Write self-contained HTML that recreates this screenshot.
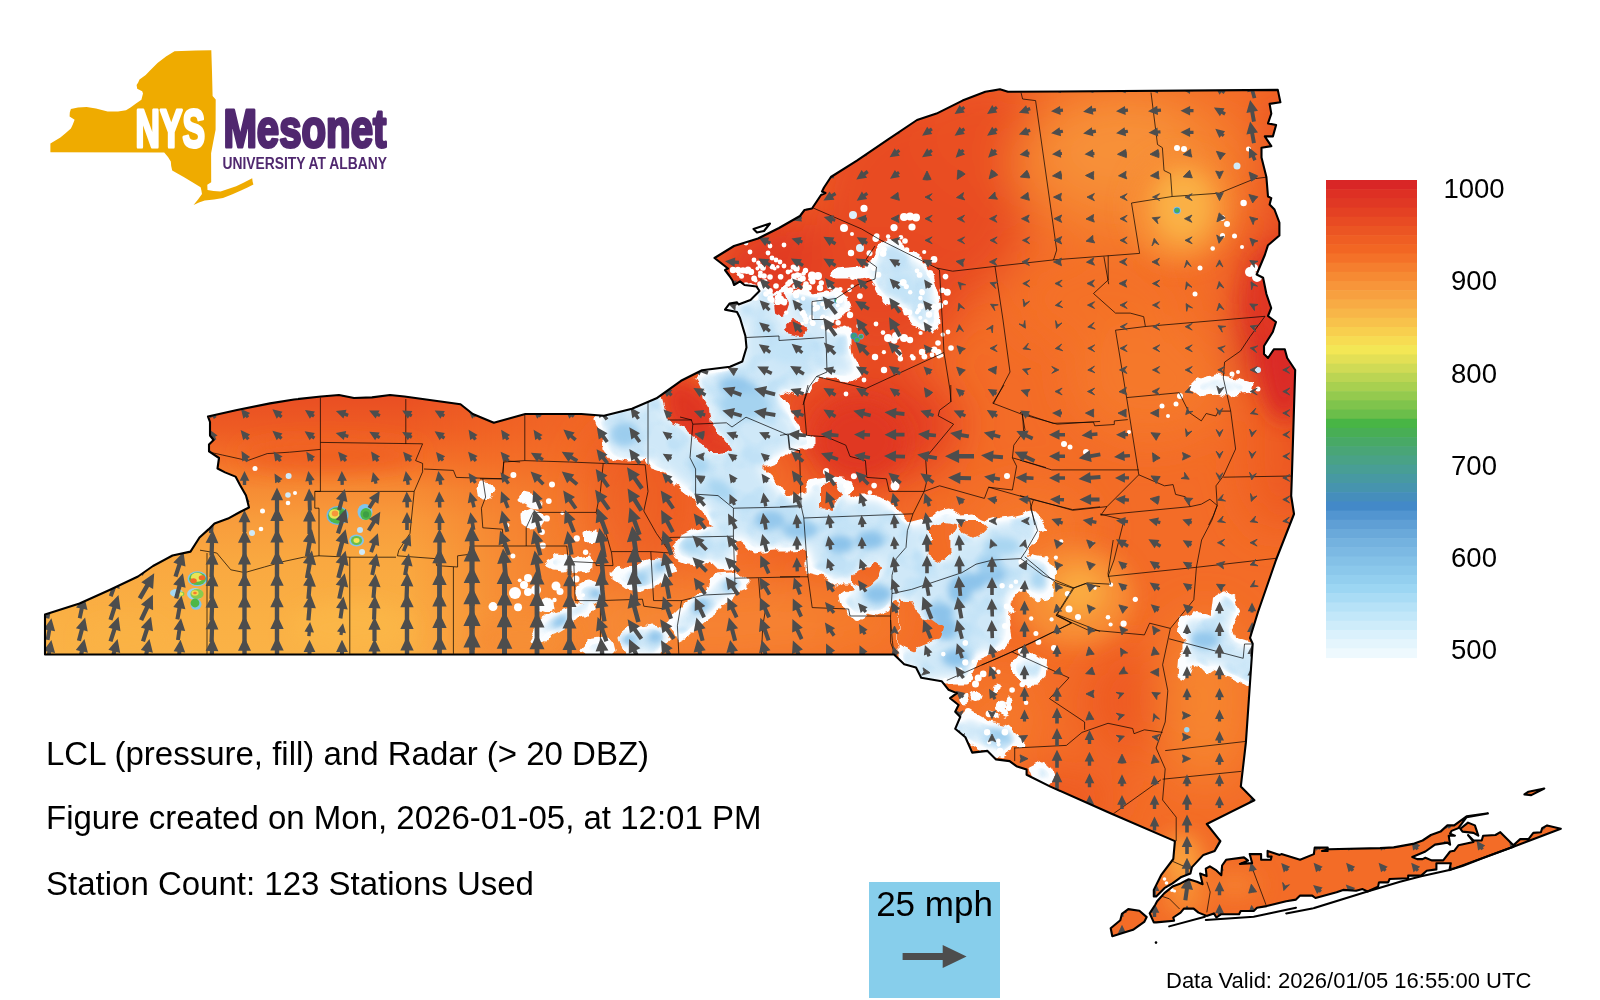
<!DOCTYPE html>
<html><head><meta charset="utf-8"><title>NYS Mesonet LCL</title>
<style>html,body{margin:0;padding:0;background:#fff}svg{display:block}text{font-family:"Liberation Sans",sans-serif}</style></head><body>
<svg width="1600" height="1000" viewBox="0 0 1600 1000">
<rect width="1600" height="1000" fill="#fff"/>
<defs>
<clipPath id="ny"><path d="M45.0,654.5 L45.0,614.6 L79.5,603.5 L109.5,590.0 L138.0,576.5 L153.0,566.0 L172.5,555.5 L190.5,551.6 L199.5,537.5 L208.5,529.4 L214.5,523.4 L228.0,518.6 L240.0,512.0 L249.0,507.5 L246.0,495.5 L240.0,485.0 L235.5,476.6 L225.0,472.4 L217.5,468.5 L219.0,458.0 L209.0,451.4 L209.0,444.5 L213.6,440.0 L210.0,435.5 L210.0,422.0 L208.0,416.6 L237.0,410.0 L270.0,403.4 L294.0,399.5 L321.0,396.5 L339.0,395.0 L354.0,398.0 L372.0,397.4 L390.0,395.0 L404.5,396.5 L460.5,404.2 L472.8,414.0 L493.8,422.8 L525.3,414.0 L581.3,414.0 L604.0,415.8 L632.0,408.8 L656.5,398.3 L681.0,380.8 L702.0,370.3 L730.0,366.8 L742.3,361.5 L746.5,347.5 L745.4,336.0 L740.0,318.0 L737.0,312.0 L725.0,309.6 L729.5,303.6 L737.0,302.4 L738.5,304.5 L750.5,300.0 L759.5,291.0 L756.5,286.5 L744.5,285.0 L740.0,281.4 L734.0,285.0 L732.5,280.5 L729.5,276.0 L725.0,270.0 L728.0,268.5 L714.5,258.0 L734.0,246.0 L758.0,238.5 L779.0,228.0 L800.0,216.0 L804.5,210.0 L812.0,208.5 L821.0,195.0 L825.5,193.0 L822.0,191.5 L824.0,187.5 L830.9,177.0 L856.9,160.7 L887.8,139.6 L917.0,120.0 L936.5,113.6 L962.5,100.6 L985.3,91.8 L999.9,89.3 L1008.0,91.8 L1277.8,89.9 L1280.4,102.3 L1269.6,103.9 L1271.3,113.6 L1268.0,123.4 L1276.1,125.0 L1272.9,136.4 L1264.8,136.4 L1271.3,146.1 L1261.5,147.8 L1261.5,157.5 L1266.4,177.0 L1268.0,196.5 L1271.3,198.1 L1269.6,204.6 L1274.5,209.5 L1279.4,222.5 L1279.4,235.5 L1268.0,245.2 L1264.8,255.0 L1256.6,274.5 L1263.1,277.7 L1266.4,294.0 L1271.2,308.0 L1268.0,316.0 L1276.0,322.0 L1272.8,332.0 L1264.0,346.0 L1264.0,354.0 L1268.0,358.0 L1274.0,349.2 L1284.8,349.2 L1287.2,358.0 L1295.2,370.0 L1292.0,472.0 L1291.2,496.0 L1294.0,514.0 L1276.0,560.0 L1258.0,612.0 L1250.0,638.0 L1252.7,643.8 L1245.9,742.4 L1240.8,786.6 L1254.4,800.2 L1206.8,824.0 L1220.4,841.1 L1214.7,850.9 L1203.4,854.9 L1192.0,867.1 L1190.4,873.6 L1181.4,876.9 L1172.5,883.4 L1164.4,888.2 L1156.2,896.4 L1153.8,896.4 L1153.8,889.9 L1161.1,875.2 L1173.3,859.0 L1174.9,841.1 L1111.6,813.8 L1050.4,786.6 L1026.6,774.7 L1026.6,769.6 L1016.4,766.2 L1009.6,761.1 L996.0,759.4 L987.5,750.9 L972.2,752.6 L965.4,737.3 L955.2,728.8 L960.3,716.9 L955.2,711.8 L958.6,705.0 L950.1,698.2 L956.9,693.1 L948.4,689.7 L941.6,681.2 L921.2,677.8 L916.0,667.6 L904.2,664.2 L894.0,654.5Z M1153.8,922.4 L1149.7,913.4 L1155.4,904.5 L1157.1,901.3 L1164.4,893.1 L1172.5,886.6 L1180.6,883.4 L1188.7,879.3 L1196.9,881.7 L1202.6,884.2 L1200.1,873.6 L1206.6,876.1 L1205.8,868.7 L1209.9,866.3 L1216.4,870.4 L1221.3,875.2 L1222.1,865.5 L1226.1,859.8 L1244.0,857.4 L1248.1,860.6 L1239.9,863.9 L1252.1,863.1 L1249.7,854.1 L1261.1,854.1 L1261.1,859.8 L1270.8,859.8 L1271.6,856.6 L1267.6,856.6 L1267.6,850.9 L1279.7,854.9 L1281.4,854.1 L1300.1,859.8 L1313.9,854.1 L1314.7,847.6 L1327.7,847.6 L1327.7,850.9 L1322.0,850.9 L1328.5,849.2 L1380.0,848.1 L1393.7,847.4 L1413.0,843.9 L1422.6,840.5 L1430.9,835.0 L1440.5,831.6 L1447.4,825.4 L1454.2,825.4 L1466.6,816.4 L1487.9,813.4 L1466.6,817.1 L1458.4,828.1 L1451.5,830.9 L1450.1,833.6 L1454.9,835.7 L1448.7,835.7 L1450.1,844.6 L1447.4,842.6 L1435.0,844.6 L1425.4,851.5 L1412.3,857.0 L1417.1,859.1 L1422.6,859.1 L1425.4,857.7 L1431.6,860.4 L1443.2,860.4 L1450.1,851.5 L1454.2,850.8 L1458.4,845.3 L1473.5,841.9 L1468.0,835.0 L1473.5,840.5 L1481.7,840.5 L1483.1,835.7 L1495.5,835.0 L1500.3,832.2 L1513.4,845.3 L1520.2,839.1 L1528.5,839.1 L1533.3,832.9 L1540.9,832.2 L1542.2,828.1 L1547.1,825.4 L1560.8,828.8 L1513.4,846.7 L1481.7,858.4 L1462.5,865.9 L1449.4,870.1 L1450.8,863.2 L1436.4,863.2 L1436.4,869.4 L1426.7,870.7 L1421.2,875.6 L1408.2,875.6 L1408.2,878.3 L1389.6,879.0 L1388.2,882.4 L1380.0,882.4 L1378.9,882.6 L1378.1,886.6 L1367.5,891.5 L1362.6,889.1 L1356.1,890.7 L1343.1,889.9 L1336.6,892.3 L1315.5,898.0 L1312.2,895.6 L1300.1,895.6 L1296.0,899.6 L1286.2,901.3 L1266.7,906.1 L1257.0,907.7 L1253.7,911.0 L1240.7,911.0 L1239.1,914.2 L1221.3,914.2 L1216.4,917.5 L1213.9,913.4 L1206.6,915.9 L1198.5,912.6 L1193.6,908.6 L1183.9,908.6 L1180.6,912.6 L1173.3,917.5 L1174.1,920.7 L1156.2,922.4Z M1110.7,928.2 L1120.3,920.3 L1121.9,913.9 L1128.3,909.1 L1139.4,910.7 L1146.7,917.1 L1144.2,921.9 L1133.0,929.8 L1112.3,936.2Z M1460.4,828.8 L1468.0,822.6 L1474.9,825.4 L1478.3,835.7 L1473.5,832.9 L1462.5,831.6Z M1524.4,794.4 L1528.5,791.7 L1544.3,788.5 L1531.2,795.1Z"/></clipPath>
<filter id="b25" x="-20%" y="-20%" width="140%" height="140%"><feGaussianBlur stdDeviation="22"/></filter>
<filter id="b12" x="-30%" y="-30%" width="160%" height="160%"><feGaussianBlur stdDeviation="10"/></filter>
<filter id="b4" x="-30%" y="-30%" width="160%" height="160%"><feGaussianBlur stdDeviation="3.5"/></filter>
<filter id="rough" x="-5%" y="-5%" width="110%" height="110%"><feTurbulence type="fractalNoise" baseFrequency="0.09" numOctaves="2" seed="3" result="n"/><feDisplacementMap in="SourceGraphic" in2="n" scale="9" xChannelSelector="R" yChannelSelector="G"/></filter>
<filter id="inner" x="-5%" y="-5%" width="110%" height="110%"><feGaussianBlur stdDeviation="7"/><feComponentTransfer><feFuncA type="linear" slope="2.6" intercept="-1.6"/></feComponentTransfer></filter>
<filter id="erode" filterUnits="userSpaceOnUse" x="540" y="160" width="780" height="660"><feGaussianBlur stdDeviation="5"/><feComponentTransfer><feFuncR type="linear" slope="3.4" intercept="-2.3"/><feFuncG type="linear" slope="3.4" intercept="-2.3"/><feFuncB type="linear" slope="3.4" intercept="-2.3"/></feComponentTransfer></filter>
<filter id="noiseBlue" filterUnits="userSpaceOnUse" x="540" y="160" width="780" height="660"><feTurbulence type="fractalNoise" baseFrequency="0.045" numOctaves="2" seed="11" result="n"/><feColorMatrix in="n" type="matrix" values="0 0 0 0 0.50  0 0 0 0 0.74  0 0 0 0 0.92  4.0 0 0 0 -1.75"/></filter>
<linearGradient id="gv" x1="0" y1="395" x2="0" y2="655" gradientUnits="userSpaceOnUse"><stop offset="0" stop-color="#E94E23"/><stop offset="0.135" stop-color="#EE5C23"/><stop offset="0.25" stop-color="#F37028"/><stop offset="0.365" stop-color="#F68C34"/><stop offset="0.48" stop-color="#F89C3C"/><stop offset="0.635" stop-color="#F9A840"/><stop offset="0.865" stop-color="#FAB044"/><stop offset="1" stop-color="#FAB246"/></linearGradient>
<linearGradient id="gh" x1="400" y1="0" x2="700" y2="0" gradientUnits="userSpaceOnUse"><stop offset="0" stop-color="#fff"/><stop offset="0.33" stop-color="#888"/><stop offset="0.66" stop-color="#3a3a3a"/><stop offset="1" stop-color="#000"/></linearGradient>
<mask id="mw" maskUnits="userSpaceOnUse" x="0" y="380" width="720" height="300"><rect x="0" y="380" width="720" height="300" fill="url(#gh)"/></mask>
</defs>
<g clip-path="url(#ny)">
<rect x="0" y="60" width="1600" height="900" fill="#F36C27"/>
<g filter="url(#b25)">
<ellipse cx="640" cy="500" rx="60" ry="80" fill="#EE5A23"/>
<ellipse cx="870" cy="425" rx="90" ry="60" fill="#E44123"/>
<ellipse cx="790" cy="270" rx="80" ry="60" fill="#E13A24"/>
<ellipse cx="760" cy="330" rx="50" ry="60" fill="#E13A24"/>
<ellipse cx="830" cy="560" rx="70" ry="60" fill="#EF5E23"/>
<ellipse cx="800" cy="620" rx="110" ry="45" fill="#F57A2C"/>
<ellipse cx="700" cy="625" rx="130" ry="45" fill="#F68232"/>
<ellipse cx="920" cy="200" rx="110" ry="110" fill="#E84B23"/>
<ellipse cx="880" cy="300" rx="80" ry="60" fill="#E64623"/>
<ellipse cx="980" cy="130" rx="60" ry="60" fill="#EA5023"/>
<ellipse cx="1130" cy="165" rx="120" ry="80" fill="#F5802F"/>
<ellipse cx="1120" cy="150" rx="75" ry="50" fill="#F79038"/>
<ellipse cx="1100" cy="300" rx="90" ry="50" fill="#F47128"/>
<ellipse cx="1300" cy="345" rx="62" ry="135" fill="#D62525"/>
<ellipse cx="1292" cy="465" rx="34" ry="60" fill="#E84B23"/>
<ellipse cx="1285" cy="170" rx="25" ry="90" fill="#EA5023"/>
<ellipse cx="1270" cy="450" rx="30" ry="80" fill="#EF5E23"/>
<ellipse cx="1150" cy="380" rx="80" ry="60" fill="#F5782B"/>
<ellipse cx="1030" cy="530" rx="60" ry="40" fill="#F5782B"/>
<ellipse cx="1129" cy="701" rx="45" ry="55" fill="#EE5A23"/>
<ellipse cx="1060" cy="800" rx="60" ry="30" fill="#EE5A23"/>
<ellipse cx="1000" cy="720" rx="40" ry="50" fill="#F5782B"/>
<ellipse cx="1205" cy="700" rx="45" ry="85" fill="#F6842F"/>
</g>
<g filter="url(#b12)">
<ellipse cx="690" cy="412" rx="26" ry="40" fill="#DF3424" transform="rotate(-35 690 412)"/>
<ellipse cx="725" cy="455" rx="30" ry="22" fill="#E23C24"/>
<ellipse cx="860" cy="440" rx="45" ry="40" fill="#E03824"/>
<ellipse cx="1180" cy="208" rx="52" ry="56" fill="#F78E36"/>
<ellipse cx="1183" cy="206" rx="30" ry="36" fill="#FAB044"/>
<ellipse cx="1284" cy="335" rx="26" ry="85" fill="#DA2925"/>
<ellipse cx="1268" cy="300" rx="18" ry="45" fill="#E03824"/>
<ellipse cx="1075" cy="596" rx="58" ry="50" fill="#F78E36"/>
<ellipse cx="1079" cy="592" rx="25" ry="23" fill="#FAAA40"/>
<ellipse cx="1182" cy="862" rx="20" ry="28" fill="#F9A03C"/>
<ellipse cx="1185" cy="900" rx="22" ry="14" fill="#F68A33"/>
<ellipse cx="1235" cy="885" rx="25" ry="14" fill="#F57E2E"/>
</g>
<rect x="0" y="380" width="720" height="300" fill="url(#gv)" mask="url(#mw)"/>
<g filter="url(#b12)">
<ellipse cx="125" cy="640" rx="40" ry="16" fill="#FAB245"/>
<ellipse cx="350" cy="628" rx="60" ry="25" fill="#FBB647"/>
<ellipse cx="520" cy="640" rx="50" ry="25" fill="#F68E36"/>
<ellipse cx="330" cy="455" rx="90" ry="14" fill="#F06024"/>
</g>
<mask id="radar" maskUnits="userSpaceOnUse" x="0" y="0" width="1600" height="1000"><g filter="url(#rough)">
<g fill="#fff" stroke="#fff" stroke-width="3" stroke-linejoin="round"><path d="M596.0,418.0 L602.0,434.0 L604.0,448.0 L614.0,460.0 L630.0,462.0 L646.0,458.0 L652.0,468.0 L664.0,472.0 L676.0,484.0 L688.0,492.0 L696.0,500.0 L704.0,510.0 L708.0,520.0 L716.0,528.0 L724.0,532.0 L738.0,538.0 L746.0,544.0 L754.0,552.0 L772.0,550.0 L790.0,550.0 L806.0,549.0 L816.0,552.0 L824.0,560.0 L826.0,572.0 L840.0,574.0 L850.0,560.0 L850.0,500.0 L840.0,492.0 L836.0,488.0 L820.0,486.0 L816.0,492.0 L800.0,496.0 L786.0,496.0 L780.0,486.0 L770.0,476.0 L762.0,468.0 L766.0,464.0 L782.0,458.0 L788.0,452.0 L800.0,448.0 L812.0,448.0 L812.0,438.0 L802.0,434.0 L796.0,424.0 L790.0,412.0 L784.0,400.0 L778.0,392.0 L790.0,388.0 L804.0,388.0 L812.0,380.0 L816.0,372.0 L840.0,378.0 L850.0,376.0 L850.0,330.0 L740.0,330.0 L740.0,372.0 L700.0,376.0 L660.0,392.0 L630.0,404.0 L600.0,410.0Z"/><path d="M728.0,304.0 L750.0,300.0 L758.0,288.0 L764.0,280.0 L768.0,290.0 L776.0,294.0 L784.0,288.0 L792.0,292.0 L804.0,290.0 L812.0,296.0 L824.0,294.0 L836.0,290.0 L846.0,298.0 L850.0,306.0 L844.0,312.0 L836.0,316.0 L828.0,320.0 L826.0,328.0 L836.0,336.0 L848.0,344.0 L852.0,356.0 L858.0,366.0 L860.0,376.0 L852.0,380.0 L840.0,378.0 L828.0,376.0 L818.0,376.0 L812.0,384.0 L808.0,392.0 L796.0,396.0 L786.0,390.0 L776.0,392.0 L768.0,400.0 L700.0,400.0 L700.0,372.0 L730.0,368.0 L742.0,356.0 L744.0,336.0 L740.0,320.0 L720.0,312.0Z"/><path d="M880.0,246.0 L888.0,240.0 L900.0,244.0 L908.0,252.0 L916.0,256.0 L926.0,266.0 L932.0,276.0 L936.0,290.0 L940.0,300.0 L936.0,312.0 L938.0,324.0 L932.0,332.0 L922.0,328.0 L914.0,324.0 L908.0,316.0 L902.0,308.0 L892.0,304.0 L884.0,298.0 L878.0,292.0 L874.0,284.0 L870.0,276.0 L860.0,278.0 L848.0,278.0 L836.0,278.0 L830.0,274.0 L836.0,270.0 L848.0,269.0 L860.0,268.0 L870.0,266.0 L876.0,260.0 L876.0,252.0Z"/><path d="M674.0,546.0 L682.0,536.0 L694.0,530.0 L708.0,528.0 L720.0,524.0 L726.0,534.0 L734.0,540.0 L736.0,552.0 L736.0,566.0 L728.0,570.0 L718.0,568.0 L710.0,560.0 L702.0,564.0 L688.0,562.0 L678.0,558.0Z"/><path d="M612.0,576.0 L618.0,570.0 L632.0,568.0 L646.0,562.0 L656.0,558.0 L668.0,560.0 L674.0,570.0 L668.0,578.0 L660.0,580.0 L654.0,586.0 L640.0,590.0 L628.0,588.0 L620.0,582.0Z"/><path d="M710.0,580.0 L720.0,576.0 L736.0,574.0 L746.0,580.0 L746.0,588.0 L736.0,592.0 L732.0,598.0 L720.0,604.0 L716.0,612.0 L704.0,620.0 L694.0,628.0 L686.0,636.0 L678.0,640.0 L674.0,632.0 L668.0,624.0 L674.0,616.0 L682.0,608.0 L692.0,600.0 L700.0,594.0 L710.0,588.0Z"/><path d="M638.0,636.0 L644.0,628.0 L654.0,626.0 L664.0,630.0 L668.0,638.0 L662.0,646.0 L650.0,648.0 L642.0,644.0Z"/><path d="M582.0,650.0 L588.0,642.0 L600.0,640.0 L612.0,642.0 L614.0,650.0 L608.0,656.0 L592.0,656.0Z"/><path d="M620.0,636.0 L630.0,628.0 L646.0,626.0 L660.0,630.0 L664.0,642.0 L660.0,656.0 L640.0,656.0 L624.0,650.0Z"/><path d="M578.0,559.0 L590.0,557.0 L594.0,564.0 L588.0,569.0 L578.0,568.0Z"/><path d="M576.0,588.0 L588.0,582.0 L600.0,586.0 L602.0,596.0 L592.0,602.0 L580.0,600.0Z"/><path d="M578.0,604.0 L590.0,602.0 L594.0,610.0 L588.0,616.0 L578.0,616.0Z"/><path d="M530.0,640.0 L536.0,630.0 L544.0,620.0 L554.0,614.0 L566.0,610.0 L574.0,604.0 L586.0,604.0 L592.0,608.0 L586.0,614.0 L576.0,618.0 L570.0,624.0 L560.0,630.0 L548.0,634.0 L544.0,640.0 L536.0,644.0Z"/><path d="M546.0,560.0 L556.0,555.0 L568.0,556.0 L574.0,561.0 L580.0,559.0 L590.0,561.0 L590.0,567.0 L580.0,569.0 L572.0,568.0 L564.0,570.0 L554.0,569.0 L548.0,566.0Z"/><path d="M540.0,602.0 L546.0,599.0 L552.0,602.0 L553.0,609.0 L548.0,612.4 L541.0,610.0Z"/><path d="M518.0,498.0 L524.0,494.0 L532.0,496.0 L540.0,502.0 L538.0,508.0 L530.0,507.0 L524.0,504.0Z"/><path d="M522.0,514.0 L530.0,510.0 L538.0,513.0 L544.0,519.0 L540.0,525.0 L530.0,527.0 L523.0,524.0Z"/><path d="M478.0,488.0 L482.0,483.0 L489.0,484.0 L493.0,491.0 L490.0,497.0 L483.0,498.0 L479.0,494.0Z"/><path d="M586.0,533.0 L595.0,531.0 L596.0,540.0 L587.0,541.0Z"/><path d="M808.0,482.0 L832.0,478.0 L850.0,480.0 L852.0,488.0 L840.0,496.0 L838.0,504.0 L846.0,502.0 L860.0,496.0 L878.0,496.0 L888.0,502.0 L900.0,514.0 L908.0,524.0 L916.0,522.0 L932.0,518.0 L940.0,512.0 L950.0,510.0 L960.0,516.0 L972.0,515.0 L980.0,520.0 L986.0,522.0 L1000.0,518.0 L1016.0,516.0 L1032.0,512.0 L1040.0,520.0 L1046.0,528.0 L1038.0,530.0 L1036.0,538.0 L1028.0,550.0 L1024.0,558.0 L1036.0,566.0 L1042.0,576.0 L1052.0,586.0 L1052.0,594.0 L1042.0,598.0 L1032.0,592.0 L1026.0,586.0 L1020.0,590.0 L1014.0,594.0 L1008.0,602.0 L1012.0,610.0 L1006.0,616.0 L1008.0,626.0 L1010.0,638.0 L1004.0,646.0 L994.0,652.0 L986.0,654.0 L976.0,658.0 L972.0,670.0 L968.0,682.0 L932.0,682.0 L932.0,670.0 L926.0,662.0 L920.0,658.0 L918.0,650.0 L928.0,648.0 L932.0,656.0 L940.0,650.0 L948.0,642.0 L940.0,636.0 L934.0,630.0 L924.0,628.0 L914.0,622.0 L910.0,614.0 L914.0,606.0 L908.0,602.0 L900.0,602.0 L892.0,598.0 L888.0,610.0 L878.0,614.0 L868.0,612.0 L860.0,618.0 L854.0,616.0 L848.0,608.0 L842.0,606.0 L840.0,598.0 L848.0,592.0 L856.0,590.0 L852.0,582.0 L844.0,582.0 L836.0,586.0 L830.0,582.0 L824.0,574.0 L808.0,570.0Z"/><path d="M1014.4,534.8 L1022.2,555.6 L1017.0,573.8 L1014.4,592.0 L1006.6,607.6 L1009.2,625.8 L1004.0,641.4 L985.8,649.2 L975.4,657.0 L965.0,664.8 L952.0,670.0 L946.8,680.4 L926.0,685.6 L900.0,662.2 L900.0,534.8Z"/><path d="M1024.8,560.8 L1032.6,555.6 L1045.6,558.2 L1053.4,571.2 L1053.4,586.8 L1048.2,597.2 L1037.8,599.8 L1027.4,592.0 L1022.2,579.0Z"/><path d="M1011.8,664.8 L1019.6,655.7 L1035.2,654.4 L1045.6,662.2 L1044.3,675.2 L1035.2,684.3 L1022.2,681.7 L1014.4,675.2Z"/><path d="M946.8,727.2 L957.2,722.0 L967.6,711.6 L985.8,722.0 L1009.2,727.2 L1017.0,735.0 L1024.8,745.4 L1011.8,745.4 L1004.0,755.8 L991.0,753.2 L978.0,748.0 L967.6,740.2 L957.2,737.6 L946.8,737.6Z"/><path d="M1030.0,768.8 L1040.4,763.6 L1050.8,768.8 L1053.4,779.2 L1045.6,785.7 L1035.2,781.8Z"/><path d="M999.3,688.2 L998.4,690.4 L996.2,691.3 L994.0,690.4 L993.1,688.2 L994.0,686.0 L996.2,685.1 L998.4,686.0Z"/><path d="M979.0,696.0 L978.0,698.6 L975.4,699.6 L972.9,698.6 L971.8,696.0 L972.9,693.5 L975.4,692.4 L978.0,693.5Z"/><path d="M1005.6,706.4 L1004.3,709.3 L1001.4,710.6 L998.5,709.3 L997.2,706.4 L998.5,703.5 L1001.4,702.2 L1004.3,703.5Z"/><path d="M996.2,714.2 L995.4,716.0 L993.6,716.8 L991.8,716.0 L991.0,714.2 L991.8,712.4 L993.6,711.6 L995.4,712.4Z"/><path d="M1032.6,682.5 L1031.8,684.3 L1030.0,685.1 L1028.2,684.3 L1027.4,682.5 L1028.2,680.7 L1030.0,679.9 L1031.8,680.7Z"/><path d="M1011.5,701.2 L1010.8,702.8 L1009.2,703.5 L1007.6,702.8 L1006.9,701.2 L1007.6,699.6 L1009.2,698.9 L1010.8,699.6Z"/><path d="M1006.3,712.9 L1005.6,714.5 L1004.0,715.2 L1002.4,714.5 L1001.7,712.9 L1002.4,711.3 L1004.0,710.6 L1005.6,711.3Z"/><path d="M967.3,698.6 L966.6,700.2 L965.0,700.9 L963.4,700.2 L962.7,698.6 L963.4,697.0 L965.0,696.3 L966.6,697.0Z"/><path d="M1180.8,618.0 L1193.8,612.8 L1212.0,618.0 L1214.6,597.2 L1225.0,590.7 L1235.4,599.8 L1240.6,610.2 L1235.4,620.6 L1230.2,628.4 L1232.8,638.8 L1248.4,644.0 L1264.0,644.0 L1264.0,685.6 L1248.4,685.6 L1235.4,677.8 L1225.0,675.2 L1217.2,664.8 L1206.8,672.6 L1199.0,664.8 L1191.2,662.2 L1186.0,677.8 L1178.2,675.2 L1179.5,659.6 L1186.0,651.8 L1186.0,638.8 L1179.5,631.0Z"/><path d="M1192.0,388.0 L1200.0,380.0 L1215.0,376.0 L1228.0,378.0 L1240.0,381.0 L1250.0,384.0 L1248.0,392.0 L1236.0,394.0 L1224.0,396.0 L1212.0,392.0 L1200.0,394.0Z"/></g>
<g fill="#000" stroke="#000" stroke-width="2" stroke-linejoin="round"><path d="M660.0,385.0 L675.0,370.0 L696.0,379.0 L700.0,388.0 L702.0,400.0 L708.0,410.0 L710.0,424.0 L716.0,434.0 L724.0,440.0 L730.0,450.0 L720.0,452.0 L712.0,452.0 L704.0,444.0 L692.0,434.0 L680.0,424.0 L668.0,418.0 L666.0,406.0Z"/><path d="M786.0,328.0 L794.0,320.0 L804.0,328.0 L800.0,336.0 L790.0,334.0Z"/><path d="M774.0,296.0 L784.0,294.0 L788.0,304.0 L784.0,316.0 L776.0,312.0Z"/><path d="M854.0,575.0 L866.0,570.0 L874.0,563.0 L882.0,566.0 L879.0,576.0 L870.0,584.0 L862.0,588.0 L854.0,584.0Z"/><path d="M932.0,528.0 L944.0,524.0 L956.0,526.0 L950.0,536.0 L946.0,546.0 L950.0,554.0 L944.0,560.0 L936.0,558.0 L930.0,550.0 L932.0,538.0Z"/><path d="M964.0,522.0 L980.0,522.0 L986.0,528.0 L980.0,534.0 L972.0,536.0 L964.0,532.0 L960.0,526.0Z"/><path d="M900.0,604.0 L910.0,602.0 L914.0,610.0 L910.0,618.0 L902.0,614.0Z"/><path d="M822.0,486.0 L836.0,484.0 L840.0,492.0 L834.0,502.0 L832.0,510.0 L822.0,508.0Z"/><path d="M900.0,599.8 L910.4,607.6 L920.8,618.0 L931.2,620.6 L941.6,628.4 L939.0,638.8 L926.0,644.0 L913.0,649.2 L900.0,644.0Z"/><path d="M928.6,540.0 L949.4,540.0 L949.4,555.6 L939.0,560.8 L928.6,555.6Z"/></g>
</g></mask>
<g mask="url(#radar)">
<rect x="0" y="60" width="1600" height="900" fill="#FBFDFF"/>
<g filter="url(#inner)">
<g fill="#CFE8F8"><path d="M596.0,418.0 L602.0,434.0 L604.0,448.0 L614.0,460.0 L630.0,462.0 L646.0,458.0 L652.0,468.0 L664.0,472.0 L676.0,484.0 L688.0,492.0 L696.0,500.0 L704.0,510.0 L708.0,520.0 L716.0,528.0 L724.0,532.0 L738.0,538.0 L746.0,544.0 L754.0,552.0 L772.0,550.0 L790.0,550.0 L806.0,549.0 L816.0,552.0 L824.0,560.0 L826.0,572.0 L840.0,574.0 L850.0,560.0 L850.0,500.0 L840.0,492.0 L836.0,488.0 L820.0,486.0 L816.0,492.0 L800.0,496.0 L786.0,496.0 L780.0,486.0 L770.0,476.0 L762.0,468.0 L766.0,464.0 L782.0,458.0 L788.0,452.0 L800.0,448.0 L812.0,448.0 L812.0,438.0 L802.0,434.0 L796.0,424.0 L790.0,412.0 L784.0,400.0 L778.0,392.0 L790.0,388.0 L804.0,388.0 L812.0,380.0 L816.0,372.0 L840.0,378.0 L850.0,376.0 L850.0,330.0 L740.0,330.0 L740.0,372.0 L700.0,376.0 L660.0,392.0 L630.0,404.0 L600.0,410.0Z"/><path d="M728.0,304.0 L750.0,300.0 L758.0,288.0 L764.0,280.0 L768.0,290.0 L776.0,294.0 L784.0,288.0 L792.0,292.0 L804.0,290.0 L812.0,296.0 L824.0,294.0 L836.0,290.0 L846.0,298.0 L850.0,306.0 L844.0,312.0 L836.0,316.0 L828.0,320.0 L826.0,328.0 L836.0,336.0 L848.0,344.0 L852.0,356.0 L858.0,366.0 L860.0,376.0 L852.0,380.0 L840.0,378.0 L828.0,376.0 L818.0,376.0 L812.0,384.0 L808.0,392.0 L796.0,396.0 L786.0,390.0 L776.0,392.0 L768.0,400.0 L700.0,400.0 L700.0,372.0 L730.0,368.0 L742.0,356.0 L744.0,336.0 L740.0,320.0 L720.0,312.0Z"/><path d="M880.0,246.0 L888.0,240.0 L900.0,244.0 L908.0,252.0 L916.0,256.0 L926.0,266.0 L932.0,276.0 L936.0,290.0 L940.0,300.0 L936.0,312.0 L938.0,324.0 L932.0,332.0 L922.0,328.0 L914.0,324.0 L908.0,316.0 L902.0,308.0 L892.0,304.0 L884.0,298.0 L878.0,292.0 L874.0,284.0 L870.0,276.0 L860.0,278.0 L848.0,278.0 L836.0,278.0 L830.0,274.0 L836.0,270.0 L848.0,269.0 L860.0,268.0 L870.0,266.0 L876.0,260.0 L876.0,252.0Z"/><path d="M674.0,546.0 L682.0,536.0 L694.0,530.0 L708.0,528.0 L720.0,524.0 L726.0,534.0 L734.0,540.0 L736.0,552.0 L736.0,566.0 L728.0,570.0 L718.0,568.0 L710.0,560.0 L702.0,564.0 L688.0,562.0 L678.0,558.0Z"/><path d="M612.0,576.0 L618.0,570.0 L632.0,568.0 L646.0,562.0 L656.0,558.0 L668.0,560.0 L674.0,570.0 L668.0,578.0 L660.0,580.0 L654.0,586.0 L640.0,590.0 L628.0,588.0 L620.0,582.0Z"/><path d="M710.0,580.0 L720.0,576.0 L736.0,574.0 L746.0,580.0 L746.0,588.0 L736.0,592.0 L732.0,598.0 L720.0,604.0 L716.0,612.0 L704.0,620.0 L694.0,628.0 L686.0,636.0 L678.0,640.0 L674.0,632.0 L668.0,624.0 L674.0,616.0 L682.0,608.0 L692.0,600.0 L700.0,594.0 L710.0,588.0Z"/><path d="M638.0,636.0 L644.0,628.0 L654.0,626.0 L664.0,630.0 L668.0,638.0 L662.0,646.0 L650.0,648.0 L642.0,644.0Z"/><path d="M582.0,650.0 L588.0,642.0 L600.0,640.0 L612.0,642.0 L614.0,650.0 L608.0,656.0 L592.0,656.0Z"/><path d="M620.0,636.0 L630.0,628.0 L646.0,626.0 L660.0,630.0 L664.0,642.0 L660.0,656.0 L640.0,656.0 L624.0,650.0Z"/><path d="M578.0,559.0 L590.0,557.0 L594.0,564.0 L588.0,569.0 L578.0,568.0Z"/><path d="M576.0,588.0 L588.0,582.0 L600.0,586.0 L602.0,596.0 L592.0,602.0 L580.0,600.0Z"/><path d="M578.0,604.0 L590.0,602.0 L594.0,610.0 L588.0,616.0 L578.0,616.0Z"/><path d="M530.0,640.0 L536.0,630.0 L544.0,620.0 L554.0,614.0 L566.0,610.0 L574.0,604.0 L586.0,604.0 L592.0,608.0 L586.0,614.0 L576.0,618.0 L570.0,624.0 L560.0,630.0 L548.0,634.0 L544.0,640.0 L536.0,644.0Z"/><path d="M546.0,560.0 L556.0,555.0 L568.0,556.0 L574.0,561.0 L580.0,559.0 L590.0,561.0 L590.0,567.0 L580.0,569.0 L572.0,568.0 L564.0,570.0 L554.0,569.0 L548.0,566.0Z"/><path d="M540.0,602.0 L546.0,599.0 L552.0,602.0 L553.0,609.0 L548.0,612.4 L541.0,610.0Z"/><path d="M518.0,498.0 L524.0,494.0 L532.0,496.0 L540.0,502.0 L538.0,508.0 L530.0,507.0 L524.0,504.0Z"/><path d="M522.0,514.0 L530.0,510.0 L538.0,513.0 L544.0,519.0 L540.0,525.0 L530.0,527.0 L523.0,524.0Z"/><path d="M478.0,488.0 L482.0,483.0 L489.0,484.0 L493.0,491.0 L490.0,497.0 L483.0,498.0 L479.0,494.0Z"/><path d="M586.0,533.0 L595.0,531.0 L596.0,540.0 L587.0,541.0Z"/><path d="M808.0,482.0 L832.0,478.0 L850.0,480.0 L852.0,488.0 L840.0,496.0 L838.0,504.0 L846.0,502.0 L860.0,496.0 L878.0,496.0 L888.0,502.0 L900.0,514.0 L908.0,524.0 L916.0,522.0 L932.0,518.0 L940.0,512.0 L950.0,510.0 L960.0,516.0 L972.0,515.0 L980.0,520.0 L986.0,522.0 L1000.0,518.0 L1016.0,516.0 L1032.0,512.0 L1040.0,520.0 L1046.0,528.0 L1038.0,530.0 L1036.0,538.0 L1028.0,550.0 L1024.0,558.0 L1036.0,566.0 L1042.0,576.0 L1052.0,586.0 L1052.0,594.0 L1042.0,598.0 L1032.0,592.0 L1026.0,586.0 L1020.0,590.0 L1014.0,594.0 L1008.0,602.0 L1012.0,610.0 L1006.0,616.0 L1008.0,626.0 L1010.0,638.0 L1004.0,646.0 L994.0,652.0 L986.0,654.0 L976.0,658.0 L972.0,670.0 L968.0,682.0 L932.0,682.0 L932.0,670.0 L926.0,662.0 L920.0,658.0 L918.0,650.0 L928.0,648.0 L932.0,656.0 L940.0,650.0 L948.0,642.0 L940.0,636.0 L934.0,630.0 L924.0,628.0 L914.0,622.0 L910.0,614.0 L914.0,606.0 L908.0,602.0 L900.0,602.0 L892.0,598.0 L888.0,610.0 L878.0,614.0 L868.0,612.0 L860.0,618.0 L854.0,616.0 L848.0,608.0 L842.0,606.0 L840.0,598.0 L848.0,592.0 L856.0,590.0 L852.0,582.0 L844.0,582.0 L836.0,586.0 L830.0,582.0 L824.0,574.0 L808.0,570.0Z"/><path d="M1014.4,534.8 L1022.2,555.6 L1017.0,573.8 L1014.4,592.0 L1006.6,607.6 L1009.2,625.8 L1004.0,641.4 L985.8,649.2 L975.4,657.0 L965.0,664.8 L952.0,670.0 L946.8,680.4 L926.0,685.6 L900.0,662.2 L900.0,534.8Z"/><path d="M1024.8,560.8 L1032.6,555.6 L1045.6,558.2 L1053.4,571.2 L1053.4,586.8 L1048.2,597.2 L1037.8,599.8 L1027.4,592.0 L1022.2,579.0Z"/><path d="M1011.8,664.8 L1019.6,655.7 L1035.2,654.4 L1045.6,662.2 L1044.3,675.2 L1035.2,684.3 L1022.2,681.7 L1014.4,675.2Z"/><path d="M946.8,727.2 L957.2,722.0 L967.6,711.6 L985.8,722.0 L1009.2,727.2 L1017.0,735.0 L1024.8,745.4 L1011.8,745.4 L1004.0,755.8 L991.0,753.2 L978.0,748.0 L967.6,740.2 L957.2,737.6 L946.8,737.6Z"/><path d="M1030.0,768.8 L1040.4,763.6 L1050.8,768.8 L1053.4,779.2 L1045.6,785.7 L1035.2,781.8Z"/><path d="M999.3,688.2 L998.4,690.4 L996.2,691.3 L994.0,690.4 L993.1,688.2 L994.0,686.0 L996.2,685.1 L998.4,686.0Z"/><path d="M979.0,696.0 L978.0,698.6 L975.4,699.6 L972.9,698.6 L971.8,696.0 L972.9,693.5 L975.4,692.4 L978.0,693.5Z"/><path d="M1005.6,706.4 L1004.3,709.3 L1001.4,710.6 L998.5,709.3 L997.2,706.4 L998.5,703.5 L1001.4,702.2 L1004.3,703.5Z"/><path d="M996.2,714.2 L995.4,716.0 L993.6,716.8 L991.8,716.0 L991.0,714.2 L991.8,712.4 L993.6,711.6 L995.4,712.4Z"/><path d="M1032.6,682.5 L1031.8,684.3 L1030.0,685.1 L1028.2,684.3 L1027.4,682.5 L1028.2,680.7 L1030.0,679.9 L1031.8,680.7Z"/><path d="M1011.5,701.2 L1010.8,702.8 L1009.2,703.5 L1007.6,702.8 L1006.9,701.2 L1007.6,699.6 L1009.2,698.9 L1010.8,699.6Z"/><path d="M1006.3,712.9 L1005.6,714.5 L1004.0,715.2 L1002.4,714.5 L1001.7,712.9 L1002.4,711.3 L1004.0,710.6 L1005.6,711.3Z"/><path d="M967.3,698.6 L966.6,700.2 L965.0,700.9 L963.4,700.2 L962.7,698.6 L963.4,697.0 L965.0,696.3 L966.6,697.0Z"/><path d="M1180.8,618.0 L1193.8,612.8 L1212.0,618.0 L1214.6,597.2 L1225.0,590.7 L1235.4,599.8 L1240.6,610.2 L1235.4,620.6 L1230.2,628.4 L1232.8,638.8 L1248.4,644.0 L1264.0,644.0 L1264.0,685.6 L1248.4,685.6 L1235.4,677.8 L1225.0,675.2 L1217.2,664.8 L1206.8,672.6 L1199.0,664.8 L1191.2,662.2 L1186.0,677.8 L1178.2,675.2 L1179.5,659.6 L1186.0,651.8 L1186.0,638.8 L1179.5,631.0Z"/><path d="M1192.0,388.0 L1200.0,380.0 L1215.0,376.0 L1228.0,378.0 L1240.0,381.0 L1250.0,384.0 L1248.0,392.0 L1236.0,394.0 L1224.0,396.0 L1212.0,392.0 L1200.0,394.0Z"/></g>
<g fill="#F3F9FD" stroke="#F3F9FD" stroke-width="6"><path d="M660.0,385.0 L675.0,370.0 L696.0,379.0 L700.0,388.0 L702.0,400.0 L708.0,410.0 L710.0,424.0 L716.0,434.0 L724.0,440.0 L730.0,450.0 L720.0,452.0 L712.0,452.0 L704.0,444.0 L692.0,434.0 L680.0,424.0 L668.0,418.0 L666.0,406.0Z"/><path d="M786.0,328.0 L794.0,320.0 L804.0,328.0 L800.0,336.0 L790.0,334.0Z"/><path d="M774.0,296.0 L784.0,294.0 L788.0,304.0 L784.0,316.0 L776.0,312.0Z"/><path d="M854.0,575.0 L866.0,570.0 L874.0,563.0 L882.0,566.0 L879.0,576.0 L870.0,584.0 L862.0,588.0 L854.0,584.0Z"/><path d="M932.0,528.0 L944.0,524.0 L956.0,526.0 L950.0,536.0 L946.0,546.0 L950.0,554.0 L944.0,560.0 L936.0,558.0 L930.0,550.0 L932.0,538.0Z"/><path d="M964.0,522.0 L980.0,522.0 L986.0,528.0 L980.0,534.0 L972.0,536.0 L964.0,532.0 L960.0,526.0Z"/><path d="M900.0,604.0 L910.0,602.0 L914.0,610.0 L910.0,618.0 L902.0,614.0Z"/><path d="M822.0,486.0 L836.0,484.0 L840.0,492.0 L834.0,502.0 L832.0,510.0 L822.0,508.0Z"/><path d="M900.0,599.8 L910.4,607.6 L920.8,618.0 L931.2,620.6 L941.6,628.4 L939.0,638.8 L926.0,644.0 L913.0,649.2 L900.0,644.0Z"/><path d="M928.6,540.0 L949.4,540.0 L949.4,555.6 L939.0,560.8 L928.6,555.6Z"/></g>
</g>
<mask id="radar2" maskUnits="userSpaceOnUse" x="540" y="160" width="780" height="660"><g filter="url(#erode)"><rect x="540" y="160" width="780" height="660" fill="#000"/>
<g fill="#fff"><path d="M596.0,418.0 L602.0,434.0 L604.0,448.0 L614.0,460.0 L630.0,462.0 L646.0,458.0 L652.0,468.0 L664.0,472.0 L676.0,484.0 L688.0,492.0 L696.0,500.0 L704.0,510.0 L708.0,520.0 L716.0,528.0 L724.0,532.0 L738.0,538.0 L746.0,544.0 L754.0,552.0 L772.0,550.0 L790.0,550.0 L806.0,549.0 L816.0,552.0 L824.0,560.0 L826.0,572.0 L840.0,574.0 L850.0,560.0 L850.0,500.0 L840.0,492.0 L836.0,488.0 L820.0,486.0 L816.0,492.0 L800.0,496.0 L786.0,496.0 L780.0,486.0 L770.0,476.0 L762.0,468.0 L766.0,464.0 L782.0,458.0 L788.0,452.0 L800.0,448.0 L812.0,448.0 L812.0,438.0 L802.0,434.0 L796.0,424.0 L790.0,412.0 L784.0,400.0 L778.0,392.0 L790.0,388.0 L804.0,388.0 L812.0,380.0 L816.0,372.0 L840.0,378.0 L850.0,376.0 L850.0,330.0 L740.0,330.0 L740.0,372.0 L700.0,376.0 L660.0,392.0 L630.0,404.0 L600.0,410.0Z"/><path d="M728.0,304.0 L750.0,300.0 L758.0,288.0 L764.0,280.0 L768.0,290.0 L776.0,294.0 L784.0,288.0 L792.0,292.0 L804.0,290.0 L812.0,296.0 L824.0,294.0 L836.0,290.0 L846.0,298.0 L850.0,306.0 L844.0,312.0 L836.0,316.0 L828.0,320.0 L826.0,328.0 L836.0,336.0 L848.0,344.0 L852.0,356.0 L858.0,366.0 L860.0,376.0 L852.0,380.0 L840.0,378.0 L828.0,376.0 L818.0,376.0 L812.0,384.0 L808.0,392.0 L796.0,396.0 L786.0,390.0 L776.0,392.0 L768.0,400.0 L700.0,400.0 L700.0,372.0 L730.0,368.0 L742.0,356.0 L744.0,336.0 L740.0,320.0 L720.0,312.0Z"/><path d="M880.0,246.0 L888.0,240.0 L900.0,244.0 L908.0,252.0 L916.0,256.0 L926.0,266.0 L932.0,276.0 L936.0,290.0 L940.0,300.0 L936.0,312.0 L938.0,324.0 L932.0,332.0 L922.0,328.0 L914.0,324.0 L908.0,316.0 L902.0,308.0 L892.0,304.0 L884.0,298.0 L878.0,292.0 L874.0,284.0 L870.0,276.0 L860.0,278.0 L848.0,278.0 L836.0,278.0 L830.0,274.0 L836.0,270.0 L848.0,269.0 L860.0,268.0 L870.0,266.0 L876.0,260.0 L876.0,252.0Z"/><path d="M674.0,546.0 L682.0,536.0 L694.0,530.0 L708.0,528.0 L720.0,524.0 L726.0,534.0 L734.0,540.0 L736.0,552.0 L736.0,566.0 L728.0,570.0 L718.0,568.0 L710.0,560.0 L702.0,564.0 L688.0,562.0 L678.0,558.0Z"/><path d="M612.0,576.0 L618.0,570.0 L632.0,568.0 L646.0,562.0 L656.0,558.0 L668.0,560.0 L674.0,570.0 L668.0,578.0 L660.0,580.0 L654.0,586.0 L640.0,590.0 L628.0,588.0 L620.0,582.0Z"/><path d="M710.0,580.0 L720.0,576.0 L736.0,574.0 L746.0,580.0 L746.0,588.0 L736.0,592.0 L732.0,598.0 L720.0,604.0 L716.0,612.0 L704.0,620.0 L694.0,628.0 L686.0,636.0 L678.0,640.0 L674.0,632.0 L668.0,624.0 L674.0,616.0 L682.0,608.0 L692.0,600.0 L700.0,594.0 L710.0,588.0Z"/><path d="M638.0,636.0 L644.0,628.0 L654.0,626.0 L664.0,630.0 L668.0,638.0 L662.0,646.0 L650.0,648.0 L642.0,644.0Z"/><path d="M582.0,650.0 L588.0,642.0 L600.0,640.0 L612.0,642.0 L614.0,650.0 L608.0,656.0 L592.0,656.0Z"/><path d="M620.0,636.0 L630.0,628.0 L646.0,626.0 L660.0,630.0 L664.0,642.0 L660.0,656.0 L640.0,656.0 L624.0,650.0Z"/><path d="M578.0,559.0 L590.0,557.0 L594.0,564.0 L588.0,569.0 L578.0,568.0Z"/><path d="M576.0,588.0 L588.0,582.0 L600.0,586.0 L602.0,596.0 L592.0,602.0 L580.0,600.0Z"/><path d="M578.0,604.0 L590.0,602.0 L594.0,610.0 L588.0,616.0 L578.0,616.0Z"/><path d="M530.0,640.0 L536.0,630.0 L544.0,620.0 L554.0,614.0 L566.0,610.0 L574.0,604.0 L586.0,604.0 L592.0,608.0 L586.0,614.0 L576.0,618.0 L570.0,624.0 L560.0,630.0 L548.0,634.0 L544.0,640.0 L536.0,644.0Z"/><path d="M546.0,560.0 L556.0,555.0 L568.0,556.0 L574.0,561.0 L580.0,559.0 L590.0,561.0 L590.0,567.0 L580.0,569.0 L572.0,568.0 L564.0,570.0 L554.0,569.0 L548.0,566.0Z"/><path d="M540.0,602.0 L546.0,599.0 L552.0,602.0 L553.0,609.0 L548.0,612.4 L541.0,610.0Z"/><path d="M518.0,498.0 L524.0,494.0 L532.0,496.0 L540.0,502.0 L538.0,508.0 L530.0,507.0 L524.0,504.0Z"/><path d="M522.0,514.0 L530.0,510.0 L538.0,513.0 L544.0,519.0 L540.0,525.0 L530.0,527.0 L523.0,524.0Z"/><path d="M478.0,488.0 L482.0,483.0 L489.0,484.0 L493.0,491.0 L490.0,497.0 L483.0,498.0 L479.0,494.0Z"/><path d="M586.0,533.0 L595.0,531.0 L596.0,540.0 L587.0,541.0Z"/><path d="M808.0,482.0 L832.0,478.0 L850.0,480.0 L852.0,488.0 L840.0,496.0 L838.0,504.0 L846.0,502.0 L860.0,496.0 L878.0,496.0 L888.0,502.0 L900.0,514.0 L908.0,524.0 L916.0,522.0 L932.0,518.0 L940.0,512.0 L950.0,510.0 L960.0,516.0 L972.0,515.0 L980.0,520.0 L986.0,522.0 L1000.0,518.0 L1016.0,516.0 L1032.0,512.0 L1040.0,520.0 L1046.0,528.0 L1038.0,530.0 L1036.0,538.0 L1028.0,550.0 L1024.0,558.0 L1036.0,566.0 L1042.0,576.0 L1052.0,586.0 L1052.0,594.0 L1042.0,598.0 L1032.0,592.0 L1026.0,586.0 L1020.0,590.0 L1014.0,594.0 L1008.0,602.0 L1012.0,610.0 L1006.0,616.0 L1008.0,626.0 L1010.0,638.0 L1004.0,646.0 L994.0,652.0 L986.0,654.0 L976.0,658.0 L972.0,670.0 L968.0,682.0 L932.0,682.0 L932.0,670.0 L926.0,662.0 L920.0,658.0 L918.0,650.0 L928.0,648.0 L932.0,656.0 L940.0,650.0 L948.0,642.0 L940.0,636.0 L934.0,630.0 L924.0,628.0 L914.0,622.0 L910.0,614.0 L914.0,606.0 L908.0,602.0 L900.0,602.0 L892.0,598.0 L888.0,610.0 L878.0,614.0 L868.0,612.0 L860.0,618.0 L854.0,616.0 L848.0,608.0 L842.0,606.0 L840.0,598.0 L848.0,592.0 L856.0,590.0 L852.0,582.0 L844.0,582.0 L836.0,586.0 L830.0,582.0 L824.0,574.0 L808.0,570.0Z"/><path d="M1014.4,534.8 L1022.2,555.6 L1017.0,573.8 L1014.4,592.0 L1006.6,607.6 L1009.2,625.8 L1004.0,641.4 L985.8,649.2 L975.4,657.0 L965.0,664.8 L952.0,670.0 L946.8,680.4 L926.0,685.6 L900.0,662.2 L900.0,534.8Z"/><path d="M1024.8,560.8 L1032.6,555.6 L1045.6,558.2 L1053.4,571.2 L1053.4,586.8 L1048.2,597.2 L1037.8,599.8 L1027.4,592.0 L1022.2,579.0Z"/><path d="M1011.8,664.8 L1019.6,655.7 L1035.2,654.4 L1045.6,662.2 L1044.3,675.2 L1035.2,684.3 L1022.2,681.7 L1014.4,675.2Z"/><path d="M946.8,727.2 L957.2,722.0 L967.6,711.6 L985.8,722.0 L1009.2,727.2 L1017.0,735.0 L1024.8,745.4 L1011.8,745.4 L1004.0,755.8 L991.0,753.2 L978.0,748.0 L967.6,740.2 L957.2,737.6 L946.8,737.6Z"/><path d="M1030.0,768.8 L1040.4,763.6 L1050.8,768.8 L1053.4,779.2 L1045.6,785.7 L1035.2,781.8Z"/><path d="M999.3,688.2 L998.4,690.4 L996.2,691.3 L994.0,690.4 L993.1,688.2 L994.0,686.0 L996.2,685.1 L998.4,686.0Z"/><path d="M979.0,696.0 L978.0,698.6 L975.4,699.6 L972.9,698.6 L971.8,696.0 L972.9,693.5 L975.4,692.4 L978.0,693.5Z"/><path d="M1005.6,706.4 L1004.3,709.3 L1001.4,710.6 L998.5,709.3 L997.2,706.4 L998.5,703.5 L1001.4,702.2 L1004.3,703.5Z"/><path d="M996.2,714.2 L995.4,716.0 L993.6,716.8 L991.8,716.0 L991.0,714.2 L991.8,712.4 L993.6,711.6 L995.4,712.4Z"/><path d="M1032.6,682.5 L1031.8,684.3 L1030.0,685.1 L1028.2,684.3 L1027.4,682.5 L1028.2,680.7 L1030.0,679.9 L1031.8,680.7Z"/><path d="M1011.5,701.2 L1010.8,702.8 L1009.2,703.5 L1007.6,702.8 L1006.9,701.2 L1007.6,699.6 L1009.2,698.9 L1010.8,699.6Z"/><path d="M1006.3,712.9 L1005.6,714.5 L1004.0,715.2 L1002.4,714.5 L1001.7,712.9 L1002.4,711.3 L1004.0,710.6 L1005.6,711.3Z"/><path d="M967.3,698.6 L966.6,700.2 L965.0,700.9 L963.4,700.2 L962.7,698.6 L963.4,697.0 L965.0,696.3 L966.6,697.0Z"/><path d="M1180.8,618.0 L1193.8,612.8 L1212.0,618.0 L1214.6,597.2 L1225.0,590.7 L1235.4,599.8 L1240.6,610.2 L1235.4,620.6 L1230.2,628.4 L1232.8,638.8 L1248.4,644.0 L1264.0,644.0 L1264.0,685.6 L1248.4,685.6 L1235.4,677.8 L1225.0,675.2 L1217.2,664.8 L1206.8,672.6 L1199.0,664.8 L1191.2,662.2 L1186.0,677.8 L1178.2,675.2 L1179.5,659.6 L1186.0,651.8 L1186.0,638.8 L1179.5,631.0Z"/><path d="M1192.0,388.0 L1200.0,380.0 L1215.0,376.0 L1228.0,378.0 L1240.0,381.0 L1250.0,384.0 L1248.0,392.0 L1236.0,394.0 L1224.0,396.0 L1212.0,392.0 L1200.0,394.0Z"/></g>
<g fill="#000" stroke="#000" stroke-width="2"><path d="M660.0,385.0 L675.0,370.0 L696.0,379.0 L700.0,388.0 L702.0,400.0 L708.0,410.0 L710.0,424.0 L716.0,434.0 L724.0,440.0 L730.0,450.0 L720.0,452.0 L712.0,452.0 L704.0,444.0 L692.0,434.0 L680.0,424.0 L668.0,418.0 L666.0,406.0Z"/><path d="M786.0,328.0 L794.0,320.0 L804.0,328.0 L800.0,336.0 L790.0,334.0Z"/><path d="M774.0,296.0 L784.0,294.0 L788.0,304.0 L784.0,316.0 L776.0,312.0Z"/><path d="M854.0,575.0 L866.0,570.0 L874.0,563.0 L882.0,566.0 L879.0,576.0 L870.0,584.0 L862.0,588.0 L854.0,584.0Z"/><path d="M932.0,528.0 L944.0,524.0 L956.0,526.0 L950.0,536.0 L946.0,546.0 L950.0,554.0 L944.0,560.0 L936.0,558.0 L930.0,550.0 L932.0,538.0Z"/><path d="M964.0,522.0 L980.0,522.0 L986.0,528.0 L980.0,534.0 L972.0,536.0 L964.0,532.0 L960.0,526.0Z"/><path d="M900.0,604.0 L910.0,602.0 L914.0,610.0 L910.0,618.0 L902.0,614.0Z"/><path d="M822.0,486.0 L836.0,484.0 L840.0,492.0 L834.0,502.0 L832.0,510.0 L822.0,508.0Z"/><path d="M900.0,599.8 L910.4,607.6 L920.8,618.0 L931.2,620.6 L941.6,628.4 L939.0,638.8 L926.0,644.0 L913.0,649.2 L900.0,644.0Z"/><path d="M928.6,540.0 L949.4,540.0 L949.4,555.6 L939.0,560.8 L928.6,555.6Z"/></g>
</g></mask>
<rect x="540" y="160" width="780" height="660" filter="url(#noiseBlue)" mask="url(#radar2)" opacity="0.75"/>
<g filter="url(#b4)">
<ellipse cx="840.0" cy="544.0" rx="14" ry="9" fill="#8CC3EA"/>
<ellipse cx="870.0" cy="540.0" rx="14" ry="9" fill="#8CC3EA"/>
<ellipse cx="878.0" cy="594.0" rx="14" ry="9" fill="#8CC3EA"/>
<ellipse cx="940.0" cy="612.0" rx="14" ry="9" fill="#8CC3EA"/>
<ellipse cx="944.0" cy="626.0" rx="14" ry="9" fill="#8CC3EA"/>
<ellipse cx="972.0" cy="582.0" rx="14" ry="9" fill="#8CC3EA"/>
<ellipse cx="992.0" cy="574.0" rx="14" ry="9" fill="#8CC3EA"/>
<ellipse cx="956.0" cy="658.0" rx="14" ry="9" fill="#8CC3EA"/>
<ellipse cx="1002.0" cy="546.0" rx="18" ry="9" fill="#A9D5F1"/>
<ellipse cx="625.0" cy="434.0" rx="14" ry="12" fill="#9CCDEE"/>
<ellipse cx="746.0" cy="392.0" rx="22" ry="10" fill="#94C8EC" transform="rotate(25 746.0 392.0)"/>
<ellipse cx="700.0" cy="466.0" rx="10" ry="8" fill="#A9D5F1"/>
<ellipse cx="770.0" cy="520.0" rx="16" ry="10" fill="#94C8EC"/>
<ellipse cx="800.0" cy="530.0" rx="18" ry="9" fill="#94C8EC"/>
<ellipse cx="745.0" cy="405.0" rx="25" ry="14" fill="#A5D3F0"/>
<ellipse cx="720.0" cy="490.0" rx="14" ry="9" fill="#A9D5F1" transform="rotate(35 720.0 490.0)"/>
<ellipse cx="660.0" cy="566.0" rx="7" ry="6" fill="#8CC3EA"/>
<ellipse cx="640.0" cy="578.0" rx="9" ry="6" fill="#9CCDEE"/>
<ellipse cx="700.0" cy="606.0" rx="10" ry="6" fill="#8CC3EA" transform="rotate(-35 700.0 606.0)"/>
<ellipse cx="655.0" cy="637.0" rx="8" ry="6" fill="#8CC3EA"/>
<ellipse cx="690.0" cy="546.0" rx="9" ry="6" fill="#A9D5F1"/>
<ellipse cx="730.0" cy="585.0" rx="8" ry="5" fill="#9CCDEE"/>
<ellipse cx="628.0" cy="640.0" rx="8" ry="5" fill="#8CC3EA"/>
<ellipse cx="596.0" cy="594.0" rx="7" ry="6" fill="#8CC3EA"/>
<ellipse cx="560.0" cy="622.0" rx="10" ry="5" fill="#8CC3EA" transform="rotate(-30 560.0 622.0)"/>
<ellipse cx="960.0" cy="590.0" rx="12" ry="14" fill="#8CC3EA"/>
<ellipse cx="945.0" cy="630.0" rx="12" ry="10" fill="#8CC3EA"/>
<ellipse cx="990.0" cy="565.0" rx="12" ry="10" fill="#9CCDEE"/>
<ellipse cx="1000.0" cy="735.0" rx="12" ry="6" fill="#9CCDEE" transform="rotate(20 1000.0 735.0)"/>
<ellipse cx="1205.0" cy="640.0" rx="14" ry="9" fill="#94C8EC"/>
<ellipse cx="1038.0" cy="580.0" rx="6" ry="8" fill="#A9D5F1"/>
<ellipse cx="735.0" cy="385.0" rx="16" ry="9" fill="#94C8EC"/>
<ellipse cx="790.0" cy="350.0" rx="20" ry="14" fill="#C2E3F7"/>
<ellipse cx="900.0" cy="285.0" rx="14" ry="12" fill="#C2E3F7"/>
</g>
</g>
<ellipse cx="197.5" cy="578.7" rx="10.0" ry="7.5" fill="#7FC4EC"/>
<ellipse cx="197.5" cy="578.7" rx="8.5" ry="6.4" fill="#5DBB46"/>
<ellipse cx="197.0" cy="577.2" rx="6.0" ry="4.5" fill="#E9E455"/>
<ellipse cx="193.5" cy="580.7" rx="3.3" ry="2.5" fill="#F26A26"/>
<ellipse cx="202.0" cy="577.7" rx="3.3" ry="2.5" fill="#F26A26"/>
<ellipse cx="195.0" cy="594.0" rx="8.0" ry="6.0" fill="#9CD3F1"/>
<ellipse cx="197.0" cy="594.0" rx="6.6" ry="4.9" fill="#8ACB4C"/>
<ellipse cx="195.0" cy="593.0" rx="3.6" ry="2.7" fill="#F3D94F"/>
<ellipse cx="195.0" cy="593.0" rx="1.8" ry="1.3" fill="#F47B2E"/>
<ellipse cx="196.0" cy="604.3" rx="5.5" ry="5.5" fill="#7FC4EC"/>
<ellipse cx="195.0" cy="603.0" rx="4.4" ry="4.4" fill="#4DB748"/>
<ellipse cx="176.5" cy="593.0" rx="6.5" ry="4.0" fill="#A5D8F3"/>
<ellipse cx="180.5" cy="594.0" rx="3.9" ry="2.4" fill="#8ACB4C"/>
<ellipse cx="180.5" cy="594.0" rx="2.7" ry="1.7" fill="#F3E755"/>
<ellipse cx="337.5" cy="515.5" rx="11.0" ry="9.5" fill="#6FB6E4"/>
<ellipse cx="337.5" cy="515.5" rx="9.5" ry="8.2" fill="#4DB748"/>
<ellipse cx="334.5" cy="514.0" rx="5.5" ry="4.8" fill="#E9E455"/>
<ellipse cx="335.0" cy="513.5" rx="3.3" ry="2.9" fill="#F7953A"/>
<ellipse cx="342.5" cy="513.5" rx="3.3" ry="2.9" fill="#3D9E45"/>
<ellipse cx="365.0" cy="512.0" rx="7.5" ry="8.0" fill="#7FC4EC"/>
<ellipse cx="366.0" cy="514.0" rx="5.6" ry="6.0" fill="#4DB748"/>
<ellipse cx="366.0" cy="514.5" rx="3.0" ry="3.2" fill="#3D9E45"/>
<ellipse cx="356.5" cy="540.5" rx="7.5" ry="6.0" fill="#7FC4EC"/>
<ellipse cx="356.5" cy="540.5" rx="5.6" ry="4.5" fill="#6BBE4A"/>
<ellipse cx="356.5" cy="540.5" rx="3.0" ry="2.4" fill="#F3E755"/>
<ellipse cx="837.0" cy="300.6" rx="3.0" ry="3.0" fill="#5FA8D6"/>
<ellipse cx="837.0" cy="300.6" rx="2.1" ry="2.1" fill="#3FA45B"/>
<ellipse cx="854.0" cy="336.0" rx="3.6" ry="3.6" fill="#4389C8"/>
<ellipse cx="854.0" cy="336.0" rx="2.7" ry="2.7" fill="#3B9E7B"/>
<ellipse cx="861.0" cy="336.6" rx="2.8" ry="2.8" fill="#5FA8D6"/>
<ellipse cx="861.0" cy="336.6" rx="2.0" ry="2.0" fill="#3FA45B"/>
<ellipse cx="857.0" cy="339.8" rx="3.0" ry="3.0" fill="#4389C8"/>
<ellipse cx="857.0" cy="339.8" rx="2.1" ry="2.1" fill="#48B545"/>
<ellipse cx="1177.0" cy="210.5" rx="3.8" ry="3.8" fill="#8CC8EC"/>
<ellipse cx="1177.0" cy="210.5" rx="3.0" ry="3.0" fill="#4694AE"/>
<ellipse cx="1177.0" cy="210.5" rx="1.9" ry="1.9" fill="#48B545"/>
<circle cx="513.4" cy="475.0" r="3.0" fill="#FFFFFF"/>
<circle cx="552.0" cy="484.4" r="3.0" fill="#FFFFFF"/>
<circle cx="528.0" cy="578.0" r="4.0" fill="#FFFFFF"/>
<circle cx="515.0" cy="593.0" r="6.0" fill="#FFFFFF"/>
<circle cx="536.0" cy="590.0" r="5.0" fill="#FFFFFF"/>
<circle cx="556.0" cy="586.0" r="4.5" fill="#FFFFFF"/>
<circle cx="560.0" cy="591.4" r="3.5" fill="#FFFFFF"/>
<circle cx="493.0" cy="606.6" r="4.5" fill="#FFFFFF"/>
<circle cx="518.0" cy="607.2" r="4.0" fill="#FFFFFF"/>
<circle cx="576.0" cy="579.0" r="3.5" fill="#FFFFFF"/>
<circle cx="524.0" cy="585.0" r="4.0" fill="#FFFFFF"/>
<circle cx="528.0" cy="592.0" r="4.0" fill="#FFFFFF"/>
<circle cx="1007.0" cy="476.0" r="3.0" fill="#FFFFFF"/>
<circle cx="895.0" cy="486.0" r="4.5" fill="#FFFFFF"/>
<circle cx="1069.0" cy="609.0" r="3.5" fill="#FFFFFF"/>
<circle cx="1078.0" cy="617.0" r="3.0" fill="#FFFFFF"/>
<circle cx="1054.0" cy="648.0" r="3.0" fill="#FFFFFF"/>
<circle cx="857.0" cy="618.0" r="3.0" fill="#FFFFFF"/>
<circle cx="1069.0" cy="608.9" r="2.6" fill="#FFFFFF"/>
<circle cx="1078.1" cy="617.2" r="2.3" fill="#FFFFFF"/>
<circle cx="1108.0" cy="617.2" r="2.3" fill="#FFFFFF"/>
<circle cx="1110.6" cy="624.5" r="2.1" fill="#FFFFFF"/>
<circle cx="1123.6" cy="623.7" r="3.1" fill="#FFFFFF"/>
<circle cx="1135.3" cy="599.3" r="2.6" fill="#FFFFFF"/>
<circle cx="1111.1" cy="584.7" r="2.1" fill="#FFFFFF"/>
<circle cx="1095.0" cy="588.1" r="1.8" fill="#FFFFFF"/>
<circle cx="1053.4" cy="647.4" r="1.8" fill="#FFFFFF"/>
<circle cx="945.5" cy="738.4" r="1.6" fill="#FFFFFF"/>
<circle cx="1061.2" cy="541.3" r="2.1" fill="#FFFFFF"/>
<circle cx="1092.4" cy="543.1" r="1.8" fill="#FFFFFF"/>
<circle cx="1186.8" cy="729.8" r="2.7" fill="#9CD6F3"/>
<circle cx="1064.0" cy="444.0" r="3.0" fill="#FFFFFF"/>
<circle cx="1070.0" cy="447.0" r="2.5" fill="#FFFFFF"/>
<circle cx="1086.0" cy="452.0" r="3.0" fill="#FFFFFF"/>
<circle cx="1177.0" cy="148.0" r="3.0" fill="#FFFFFF"/>
<circle cx="1184.0" cy="149.0" r="3.0" fill="#FFFFFF"/>
<circle cx="1237.0" cy="166.0" r="3.5" fill="#CFEAFA"/>
<circle cx="1248.5" cy="149.0" r="2.5" fill="#FFFFFF"/>
<circle cx="1243.6" cy="203.0" r="3.2" fill="#FFFFFF"/>
<circle cx="1222.0" cy="218.0" r="3.0" fill="#FFFFFF"/>
<circle cx="1227.0" cy="224.0" r="3.0" fill="#FFFFFF"/>
<circle cx="1222.5" cy="235.5" r="2.5" fill="#FFFFFF"/>
<circle cx="1212.7" cy="248.5" r="2.3" fill="#FFFFFF"/>
<circle cx="1242.0" cy="247.0" r="2.0" fill="#FFFFFF"/>
<circle cx="1200.0" cy="268.0" r="2.5" fill="#FFFFFF"/>
<circle cx="1195.0" cy="294.0" r="2.5" fill="#FFFFFF"/>
<circle cx="1250.0" cy="272.0" r="5.0" fill="#FFFFFF"/>
<circle cx="1257.0" cy="277.0" r="5.0" fill="#FFFFFF"/>
<circle cx="1254.0" cy="268.0" r="4.0" fill="#FFFFFF"/>
<circle cx="1234.5" cy="236.0" r="2.5" fill="#FFFFFF"/>
<circle cx="1258.0" cy="389.0" r="2.5" fill="#FFFFFF"/>
<circle cx="1180.0" cy="396.0" r="3.0" fill="#FFFFFF"/>
<circle cx="1176.0" cy="404.0" r="2.5" fill="#FFFFFF"/>
<circle cx="1162.0" cy="406.0" r="2.5" fill="#FFFFFF"/>
<circle cx="1168.0" cy="416.0" r="2.0" fill="#FFFFFF"/>
<circle cx="1129.0" cy="432.0" r="2.0" fill="#FFFFFF"/>
<circle cx="1238.0" cy="372.0" r="2.0" fill="#FFFFFF"/>
<circle cx="1232.0" cy="374.0" r="2.5" fill="#FFFFFF"/>
<circle cx="1258.0" cy="370.0" r="3.0" fill="#CFEAFA"/>
<circle cx="746.0" cy="243.0" r="2.4" fill="#FFFFFF"/>
<circle cx="770.0" cy="246.0" r="2.4" fill="#FFFFFF"/>
<circle cx="784.0" cy="245.0" r="2.4" fill="#FFFFFF"/>
<circle cx="768.0" cy="253.0" r="2.4" fill="#FFFFFF"/>
<circle cx="772.0" cy="258.0" r="2.4" fill="#FFFFFF"/>
<circle cx="776.0" cy="260.0" r="2.4" fill="#FFFFFF"/>
<circle cx="780.0" cy="262.0" r="2.4" fill="#FFFFFF"/>
<circle cx="784.0" cy="266.0" r="2.4" fill="#FFFFFF"/>
<circle cx="733.0" cy="270.0" r="3.2" fill="#FFFFFF"/>
<circle cx="738.0" cy="270.0" r="3.2" fill="#FFFFFF"/>
<circle cx="743.0" cy="270.4" r="3.2" fill="#FFFFFF"/>
<circle cx="748.0" cy="269.6" r="3.2" fill="#FFFFFF"/>
<circle cx="764.0" cy="276.0" r="2.8" fill="#FFFFFF"/>
<circle cx="770.0" cy="277.0" r="2.8" fill="#FFFFFF"/>
<circle cx="776.0" cy="286.0" r="2.8" fill="#FFFFFF"/>
<circle cx="790.0" cy="282.0" r="2.8" fill="#FFFFFF"/>
<circle cx="794.0" cy="276.0" r="2.8" fill="#FFFFFF"/>
<circle cx="788.0" cy="284.0" r="2.8" fill="#FFFFFF"/>
<circle cx="812.0" cy="275.6" r="4.0" fill="#FFFFFF"/>
<circle cx="818.0" cy="276.0" r="4.0" fill="#FFFFFF"/>
<circle cx="844.0" cy="228.0" r="4.0" fill="#FFFFFF"/>
<circle cx="853.0" cy="215.0" r="4.0" fill="#DDF0FB"/>
<circle cx="864.0" cy="208.4" r="3.6" fill="#FFFFFF"/>
<circle cx="904.0" cy="217.0" r="4.0" fill="#FFFFFF"/>
<circle cx="910.0" cy="216.4" r="4.0" fill="#FFFFFF"/>
<circle cx="916.0" cy="217.6" r="4.0" fill="#FFFFFF"/>
<circle cx="894.0" cy="227.6" r="3.6" fill="#FFFFFF"/>
<circle cx="912.0" cy="227.0" r="3.6" fill="#FFFFFF"/>
<circle cx="905.0" cy="241.0" r="2.8" fill="#FFFFFF"/>
<circle cx="851.0" cy="253.0" r="3.2" fill="#FFFFFF"/>
<circle cx="860.0" cy="248.0" r="4.0" fill="#DDF0FB"/>
<circle cx="852.0" cy="234.0" r="2.0" fill="#FFFFFF"/>
<circle cx="850.0" cy="315.0" r="3.2" fill="#FFFFFF"/>
<circle cx="841.0" cy="310.0" r="2.8" fill="#FFFFFF"/>
<circle cx="888.0" cy="338.0" r="4.0" fill="#FFFFFF"/>
<circle cx="896.0" cy="336.0" r="4.0" fill="#FFFFFF"/>
<circle cx="904.0" cy="338.0" r="4.0" fill="#FFFFFF"/>
<circle cx="910.0" cy="340.0" r="3.2" fill="#FFFFFF"/>
<circle cx="875.0" cy="357.0" r="3.2" fill="#FFFFFF"/>
<circle cx="884.0" cy="370.0" r="3.2" fill="#FFFFFF"/>
<circle cx="864.0" cy="380.0" r="2.4" fill="#FFFFFF"/>
<circle cx="846.0" cy="394.0" r="2.4" fill="#FFFFFF"/>
<circle cx="922.0" cy="352.0" r="3.2" fill="#FFFFFF"/>
<circle cx="932.0" cy="355.0" r="2.4" fill="#FFFFFF"/>
<circle cx="938.0" cy="343.0" r="2.8" fill="#FFFFFF"/>
<circle cx="948.0" cy="332.0" r="2.4" fill="#FFFFFF"/>
<circle cx="951.0" cy="348.0" r="2.8" fill="#FFFFFF"/>
<circle cx="876.0" cy="324.0" r="2.4" fill="#FFFFFF"/>
<circle cx="760.0" cy="266.0" r="2.4" fill="#FFFFFF"/>
<circle cx="754.0" cy="260.0" r="2.4" fill="#FFFFFF"/>
<circle cx="750.0" cy="252.0" r="2.4" fill="#FFFFFF"/>
<circle cx="788.0" cy="272.0" r="2.4" fill="#FFFFFF"/>
<circle cx="800.0" cy="280.0" r="2.8" fill="#FFFFFF"/>
<circle cx="806.0" cy="284.0" r="2.8" fill="#FFFFFF"/>
<circle cx="820.0" cy="288.0" r="3.2" fill="#FFFFFF"/>
<circle cx="830.0" cy="286.0" r="3.2" fill="#FFFFFF"/>
<circle cx="760.0" cy="284.0" r="2.8" fill="#FFFFFF"/>
<circle cx="766.0" cy="294.0" r="2.8" fill="#FFFFFF"/>
<circle cx="772.0" cy="300.0" r="2.8" fill="#FFFFFF"/>
<circle cx="255.0" cy="468.5" r="2.5" fill="#FFFFFF"/>
<circle cx="288.6" cy="476.0" r="3.0" fill="#CFEAFA"/>
<circle cx="288.0" cy="495.0" r="2.8" fill="#CFEAFA"/>
<circle cx="295.0" cy="493.0" r="2.0" fill="#FFFFFF"/>
<circle cx="288.0" cy="503.0" r="2.3" fill="#FFFFFF"/>
<circle cx="262.5" cy="511.0" r="2.5" fill="#FFFFFF"/>
<circle cx="261.0" cy="529.0" r="2.3" fill="#FFFFFF"/>
<circle cx="252.0" cy="533.0" r="3.0" fill="#CFEAFA"/>
<circle cx="360.0" cy="530.0" r="3.0" fill="#BFE2F7"/>
<circle cx="362.0" cy="552.0" r="3.0" fill="#CFEAFA"/>
<circle cx="777.8" cy="297.8" r="3.1" fill="#FFFFFF"/>
<circle cx="779.1" cy="294.5" r="2.6" fill="#FFFFFF"/>
<circle cx="751.3" cy="294.8" r="2.7" fill="#FFFFFF"/>
<circle cx="763.0" cy="267.8" r="2.9" fill="#FFFFFF"/>
<circle cx="797.7" cy="301.4" r="2.0" fill="#FFFFFF"/>
<circle cx="738.9" cy="274.2" r="2.1" fill="#FFFFFF"/>
<circle cx="784.4" cy="303.0" r="2.5" fill="#FFFFFF"/>
<circle cx="798.6" cy="291.3" r="2.2" fill="#FFFFFF"/>
<circle cx="816.2" cy="307.3" r="2.2" fill="#FFFFFF"/>
<circle cx="755.7" cy="280.5" r="1.9" fill="#FFFFFF"/>
<circle cx="808.9" cy="287.6" r="3.0" fill="#FFFFFF"/>
<circle cx="772.3" cy="266.7" r="2.7" fill="#FFFFFF"/>
<circle cx="810.1" cy="279.3" r="1.9" fill="#FFFFFF"/>
<circle cx="757.4" cy="268.5" r="1.9" fill="#FFFFFF"/>
<circle cx="788.4" cy="290.6" r="2.1" fill="#FFFFFF"/>
<circle cx="805.5" cy="270.4" r="2.7" fill="#FFFFFF"/>
<circle cx="744.5" cy="288.9" r="2.1" fill="#FFFFFF"/>
<circle cx="812.5" cy="281.5" r="3.0" fill="#FFFFFF"/>
<circle cx="753.9" cy="287.2" r="3.0" fill="#FFFFFF"/>
<circle cx="796.5" cy="268.4" r="3.2" fill="#FFFFFF"/>
<circle cx="754.1" cy="278.5" r="2.9" fill="#FFFFFF"/>
<circle cx="765.6" cy="281.0" r="1.9" fill="#FFFFFF"/>
<circle cx="769.8" cy="291.0" r="3.1" fill="#FFFFFF"/>
<circle cx="780.9" cy="298.8" r="3.0" fill="#FFFFFF"/>
<circle cx="751.1" cy="271.9" r="3.1" fill="#FFFFFF"/>
<circle cx="814.0" cy="278.0" r="2.1" fill="#FFFFFF"/>
<circle cx="806.2" cy="322.2" r="2.1" fill="#FFFFFF"/>
<circle cx="827.1" cy="318.5" r="2.6" fill="#FFFFFF"/>
<circle cx="774.7" cy="268.6" r="1.9" fill="#FFFFFF"/>
<circle cx="802.8" cy="278.4" r="3.0" fill="#FFFFFF"/>
<circle cx="792.1" cy="280.8" r="2.0" fill="#FFFFFF"/>
<circle cx="755.6" cy="297.8" r="3.0" fill="#FFFFFF"/>
<circle cx="793.8" cy="279.9" r="3.1" fill="#FFFFFF"/>
<circle cx="759.7" cy="290.5" r="1.9" fill="#FFFFFF"/>
<circle cx="750.4" cy="285.6" r="2.6" fill="#FFFFFF"/>
<circle cx="746.0" cy="285.2" r="3.0" fill="#FFFFFF"/>
<circle cx="830.1" cy="304.0" r="2.8" fill="#FFFFFF"/>
<circle cx="790.9" cy="271.0" r="1.8" fill="#FFFFFF"/>
<circle cx="802.4" cy="323.6" r="1.8" fill="#FFFFFF"/>
<circle cx="796.0" cy="292.9" r="2.8" fill="#FFFFFF"/>
<circle cx="806.0" cy="319.6" r="2.8" fill="#FFFFFF"/>
<circle cx="802.7" cy="312.8" r="3.1" fill="#FFFFFF"/>
<circle cx="822.2" cy="317.8" r="2.4" fill="#FFFFFF"/>
<circle cx="811.3" cy="317.3" r="2.6" fill="#FFFFFF"/>
<circle cx="794.9" cy="286.5" r="2.6" fill="#FFFFFF"/>
<circle cx="793.3" cy="267.1" r="2.7" fill="#FFFFFF"/>
<circle cx="805.1" cy="286.9" r="2.8" fill="#FFFFFF"/>
<circle cx="790.5" cy="290.2" r="3.0" fill="#FFFFFF"/>
<circle cx="780.6" cy="276.7" r="2.8" fill="#FFFFFF"/>
<circle cx="782.2" cy="301.3" r="3.1" fill="#FFFFFF"/>
<circle cx="758.3" cy="262.7" r="2.2" fill="#FFFFFF"/>
<circle cx="800.1" cy="275.0" r="2.0" fill="#FFFFFF"/>
<circle cx="822.7" cy="304.2" r="2.4" fill="#FFFFFF"/>
<circle cx="821.3" cy="282.9" r="2.7" fill="#FFFFFF"/>
<circle cx="752.7" cy="289.6" r="2.9" fill="#FFFFFF"/>
<circle cx="823.5" cy="318.3" r="2.3" fill="#FFFFFF"/>
<circle cx="790.7" cy="282.3" r="2.0" fill="#FFFFFF"/>
<circle cx="817.0" cy="307.5" r="3.1" fill="#FFFFFF"/>
<circle cx="760.4" cy="272.8" r="2.4" fill="#FFFFFF"/>
<circle cx="760.2" cy="275.7" r="2.4" fill="#FFFFFF"/>
<circle cx="794.9" cy="293.6" r="2.2" fill="#FFFFFF"/>
<circle cx="777.8" cy="266.8" r="1.8" fill="#FFFFFF"/>
<circle cx="803.2" cy="298.5" r="2.2" fill="#FFFFFF"/>
<circle cx="746.5" cy="291.1" r="1.8" fill="#FFFFFF"/>
<circle cx="815.1" cy="277.2" r="2.0" fill="#FFFFFF"/>
<circle cx="777.2" cy="302.3" r="2.7" fill="#FFFFFF"/>
<circle cx="812.9" cy="323.3" r="2.8" fill="#FFFFFF"/>
<circle cx="752.7" cy="292.4" r="2.1" fill="#FFFFFF"/>
<circle cx="803.7" cy="273.5" r="2.2" fill="#FFFFFF"/>
<circle cx="784.5" cy="301.3" r="2.9" fill="#FFFFFF"/>
<circle cx="825.3" cy="308.2" r="2.0" fill="#FFFFFF"/>
<circle cx="777.9" cy="302.0" r="3.1" fill="#FFFFFF"/>
<circle cx="770.3" cy="298.4" r="3.0" fill="#FFFFFF"/>
<circle cx="811.9" cy="322.4" r="2.4" fill="#FFFFFF"/>
<circle cx="797.5" cy="275.1" r="2.8" fill="#FFFFFF"/>
<circle cx="814.0" cy="303.1" r="2.8" fill="#FFFFFF"/>
<circle cx="786.2" cy="312.6" r="2.2" fill="#FFFFFF"/>
<circle cx="823.1" cy="316.8" r="2.3" fill="#FFFFFF"/>
<circle cx="741.2" cy="290.2" r="2.6" fill="#FFFFFF"/>
<circle cx="809.1" cy="293.2" r="1.8" fill="#FFFFFF"/>
<circle cx="746.9" cy="271.5" r="2.5" fill="#FFFFFF"/>
<circle cx="804.6" cy="315.8" r="2.8" fill="#FFFFFF"/>
<circle cx="826.6" cy="293.5" r="3.1" fill="#FFFFFF"/>
<circle cx="741.5" cy="276.2" r="2.5" fill="#FFFFFF"/>
<circle cx="796.2" cy="295.5" r="3.0" fill="#FFFFFF"/>
<circle cx="840.3" cy="289.3" r="2.3" fill="#FFFFFF"/>
<circle cx="860.9" cy="325.8" r="2.1" fill="#FFFFFF"/>
<circle cx="837.7" cy="305.5" r="2.1" fill="#FFFFFF"/>
<circle cx="838.6" cy="301.2" r="2.6" fill="#FFFFFF"/>
<circle cx="837.2" cy="294.8" r="2.9" fill="#FFFFFF"/>
<circle cx="840.5" cy="300.4" r="2.8" fill="#FFFFFF"/>
<circle cx="829.8" cy="329.3" r="3.1" fill="#FFFFFF"/>
<circle cx="819.4" cy="299.3" r="2.0" fill="#FFFFFF"/>
<circle cx="831.2" cy="320.6" r="3.1" fill="#FFFFFF"/>
<circle cx="834.3" cy="289.7" r="2.1" fill="#FFFFFF"/>
<circle cx="844.5" cy="327.4" r="2.0" fill="#FFFFFF"/>
<circle cx="849.5" cy="290.0" r="2.3" fill="#FFFFFF"/>
<circle cx="852.6" cy="277.6" r="2.5" fill="#FFFFFF"/>
<circle cx="838.2" cy="297.1" r="2.3" fill="#FFFFFF"/>
<circle cx="829.8" cy="302.8" r="2.0" fill="#FFFFFF"/>
<circle cx="814.7" cy="309.1" r="2.7" fill="#FFFFFF"/>
<circle cx="838.1" cy="322.8" r="2.7" fill="#FFFFFF"/>
<circle cx="861.7" cy="284.4" r="2.8" fill="#FFFFFF"/>
<circle cx="858.4" cy="326.0" r="2.2" fill="#FFFFFF"/>
<circle cx="822.7" cy="327.2" r="2.1" fill="#FFFFFF"/>
<circle cx="852.3" cy="286.1" r="1.9" fill="#FFFFFF"/>
<circle cx="859.9" cy="296.1" r="2.9" fill="#FFFFFF"/>
<circle cx="878.3" cy="274.7" r="3.0" fill="#FFFFFF"/>
<circle cx="869.5" cy="253.3" r="3.0" fill="#FFFFFF"/>
<circle cx="942.7" cy="334.6" r="2.2" fill="#FFFFFF"/>
<circle cx="909.5" cy="312.4" r="2.8" fill="#FFFFFF"/>
<circle cx="924.2" cy="252.0" r="2.1" fill="#FFFFFF"/>
<circle cx="876.7" cy="236.0" r="2.8" fill="#FFFFFF"/>
<circle cx="910.2" cy="292.3" r="2.2" fill="#FFFFFF"/>
<circle cx="883.1" cy="253.6" r="3.3" fill="#FFFFFF"/>
<circle cx="875.8" cy="238.6" r="3.4" fill="#FFFFFF"/>
<circle cx="905.9" cy="313.1" r="2.5" fill="#FFFFFF"/>
<circle cx="906.3" cy="286.6" r="2.6" fill="#FFFFFF"/>
<circle cx="925.5" cy="321.5" r="2.3" fill="#FFFFFF"/>
<circle cx="905.2" cy="310.4" r="2.6" fill="#FFFFFF"/>
<circle cx="884.0" cy="249.5" r="2.8" fill="#FFFFFF"/>
<circle cx="933.7" cy="306.7" r="3.3" fill="#FFFFFF"/>
<circle cx="919.6" cy="274.9" r="2.9" fill="#FFFFFF"/>
<circle cx="934.0" cy="259.4" r="3.4" fill="#FFFFFF"/>
<circle cx="929.0" cy="314.5" r="3.2" fill="#FFFFFF"/>
<circle cx="940.1" cy="305.6" r="3.2" fill="#FFFFFF"/>
<circle cx="930.7" cy="275.0" r="3.1" fill="#FFFFFF"/>
<circle cx="873.8" cy="268.2" r="2.7" fill="#FFFFFF"/>
<circle cx="920.4" cy="298.1" r="2.3" fill="#FFFFFF"/>
<circle cx="945.5" cy="302.6" r="2.5" fill="#FFFFFF"/>
<circle cx="922.1" cy="292.4" r="2.8" fill="#FFFFFF"/>
<circle cx="920.7" cy="306.3" r="3.1" fill="#FFFFFF"/>
<circle cx="918.5" cy="310.3" r="2.4" fill="#FFFFFF"/>
<circle cx="900.9" cy="237.3" r="2.3" fill="#FFFFFF"/>
<circle cx="898.8" cy="242.4" r="2.4" fill="#FFFFFF"/>
<circle cx="942.3" cy="290.3" r="2.8" fill="#FFFFFF"/>
<circle cx="947.3" cy="292.2" r="3.5" fill="#FFFFFF"/>
<circle cx="920.3" cy="317.8" r="2.1" fill="#FFFFFF"/>
<circle cx="917.0" cy="312.5" r="2.1" fill="#FFFFFF"/>
<circle cx="906.7" cy="249.9" r="2.7" fill="#FFFFFF"/>
<circle cx="945.5" cy="276.6" r="2.8" fill="#FFFFFF"/>
<circle cx="917.0" cy="270.8" r="2.4" fill="#FFFFFF"/>
<circle cx="921.7" cy="291.4" r="2.4" fill="#FFFFFF"/>
<circle cx="926.8" cy="263.4" r="2.0" fill="#FFFFFF"/>
<circle cx="888.1" cy="236.5" r="2.2" fill="#FFFFFF"/>
<circle cx="929.9" cy="273.3" r="3.3" fill="#FFFFFF"/>
<circle cx="903.2" cy="282.6" r="3.5" fill="#FFFFFF"/>
<circle cx="898.3" cy="352.0" r="3.1" fill="#FFFFFF"/>
<circle cx="934.2" cy="349.7" r="3.2" fill="#FFFFFF"/>
<circle cx="941.3" cy="355.4" r="2.1" fill="#FFFFFF"/>
<circle cx="926.8" cy="349.1" r="2.2" fill="#FFFFFF"/>
<circle cx="883.9" cy="352.2" r="2.1" fill="#FFFFFF"/>
<circle cx="913.2" cy="358.1" r="2.5" fill="#FFFFFF"/>
<circle cx="899.7" cy="354.5" r="2.5" fill="#FFFFFF"/>
<circle cx="938.3" cy="352.3" r="3.2" fill="#FFFFFF"/>
<circle cx="897.9" cy="334.8" r="3.1" fill="#FFFFFF"/>
<circle cx="938.8" cy="356.2" r="2.4" fill="#FFFFFF"/>
<circle cx="900.4" cy="358.8" r="2.7" fill="#FFFFFF"/>
<circle cx="924.4" cy="356.6" r="2.9" fill="#FFFFFF"/>
<circle cx="894.2" cy="340.5" r="3.2" fill="#FFFFFF"/>
<circle cx="883.0" cy="332.6" r="2.3" fill="#FFFFFF"/>
<circle cx="911.9" cy="356.2" r="2.1" fill="#FFFFFF"/>
<circle cx="920.6" cy="333.0" r="2.1" fill="#FFFFFF"/>
<circle cx="874.1" cy="485.6" r="2.8" fill="#FFFFFF"/>
<circle cx="849.9" cy="483.3" r="2.3" fill="#FFFFFF"/>
<circle cx="847.5" cy="491.8" r="3.0" fill="#FFFFFF"/>
<circle cx="825.9" cy="471.8" r="3.0" fill="#FFFFFF"/>
<circle cx="869.9" cy="492.6" r="2.3" fill="#FFFFFF"/>
<circle cx="853.9" cy="476.3" r="3.0" fill="#FFFFFF"/>
<circle cx="849.5" cy="488.9" r="3.2" fill="#FFFFFF"/>
<circle cx="846.0" cy="485.6" r="2.9" fill="#FFFFFF"/>
<circle cx="893.7" cy="481.7" r="2.4" fill="#FFFFFF"/>
<circle cx="826.3" cy="470.7" r="2.7" fill="#FFFFFF"/>
<circle cx="1031.2" cy="618.5" r="2.2" fill="#FFFFFF"/>
<circle cx="1055.9" cy="557.6" r="2.1" fill="#FFFFFF"/>
<circle cx="1046.3" cy="558.2" r="2.2" fill="#FFFFFF"/>
<circle cx="1051.6" cy="619.4" r="2.1" fill="#FFFFFF"/>
<circle cx="1002.1" cy="585.8" r="2.7" fill="#FFFFFF"/>
<circle cx="1021.1" cy="561.7" r="2.7" fill="#FFFFFF"/>
<circle cx="1038.4" cy="641.9" r="2.9" fill="#FFFFFF"/>
<circle cx="1067.6" cy="593.8" r="2.8" fill="#FFFFFF"/>
<circle cx="1015.9" cy="581.8" r="2.3" fill="#FFFFFF"/>
<circle cx="1011.1" cy="586.2" r="2.2" fill="#FFFFFF"/>
<circle cx="1020.9" cy="589.6" r="2.3" fill="#FFFFFF"/>
<circle cx="1006.6" cy="606.4" r="2.8" fill="#FFFFFF"/>
<circle cx="1035.9" cy="633.6" r="2.5" fill="#FFFFFF"/>
<circle cx="1005.0" cy="625.9" r="2.9" fill="#FFFFFF"/>
<circle cx="965.3" cy="642.9" r="2.8" fill="#FFFFFF"/>
<circle cx="989.0" cy="713.8" r="3.4" fill="#FFFFFF"/>
<circle cx="998.6" cy="744.6" r="2.1" fill="#FFFFFF"/>
<circle cx="989.2" cy="742.4" r="2.1" fill="#FFFFFF"/>
<circle cx="1020.9" cy="651.0" r="3.0" fill="#FFFFFF"/>
<circle cx="998.4" cy="671.9" r="2.3" fill="#FFFFFF"/>
<circle cx="1008.9" cy="707.8" r="3.1" fill="#FFFFFF"/>
<circle cx="975.5" cy="683.9" r="3.5" fill="#FFFFFF"/>
<circle cx="1000.5" cy="704.2" r="2.8" fill="#FFFFFF"/>
<circle cx="1004.9" cy="732.1" r="3.4" fill="#FFFFFF"/>
<circle cx="1000.0" cy="751.0" r="3.2" fill="#FFFFFF"/>
<circle cx="987.1" cy="732.3" r="3.2" fill="#FFFFFF"/>
<circle cx="977.9" cy="694.7" r="2.2" fill="#FFFFFF"/>
<circle cx="973.8" cy="661.8" r="2.3" fill="#FFFFFF"/>
<circle cx="978.2" cy="678.0" r="3.5" fill="#FFFFFF"/>
<circle cx="945.3" cy="680.1" r="2.2" fill="#FFFFFF"/>
<circle cx="998.3" cy="740.9" r="2.3" fill="#FFFFFF"/>
<circle cx="943.3" cy="654.1" r="2.3" fill="#FFFFFF"/>
<circle cx="959.6" cy="670.6" r="3.1" fill="#FFFFFF"/>
<circle cx="993.5" cy="669.1" r="2.3" fill="#FFFFFF"/>
<circle cx="965.3" cy="662.4" r="3.1" fill="#FFFFFF"/>
<circle cx="968.1" cy="711.3" r="3.2" fill="#FFFFFF"/>
<circle cx="983.2" cy="673.9" r="3.3" fill="#FFFFFF"/>
<circle cx="1022.3" cy="684.5" r="2.8" fill="#FFFFFF"/>
<circle cx="1026.1" cy="702.7" r="2.3" fill="#FFFFFF"/>
<circle cx="1012.1" cy="690.0" r="2.8" fill="#FFFFFF"/>
<circle cx="546.7" cy="518.4" r="3.2" fill="#FFFFFF"/>
<circle cx="562.3" cy="513.3" r="1.8" fill="#FFFFFF"/>
<circle cx="542.0" cy="532.0" r="2.9" fill="#FFFFFF"/>
<circle cx="568.5" cy="564.9" r="2.0" fill="#FFFFFF"/>
<circle cx="507.3" cy="525.1" r="2.2" fill="#FFFFFF"/>
<circle cx="585.6" cy="552.3" r="2.7" fill="#FFFFFF"/>
<circle cx="548.8" cy="501.1" r="2.9" fill="#FFFFFF"/>
<circle cx="583.1" cy="595.1" r="1.9" fill="#FFFFFF"/>
<circle cx="519.7" cy="580.3" r="1.9" fill="#FFFFFF"/>
<circle cx="542.8" cy="545.6" r="3.1" fill="#FFFFFF"/>
<circle cx="554.5" cy="600.0" r="2.2" fill="#FFFFFF"/>
<circle cx="576.8" cy="538.4" r="3.1" fill="#FFFFFF"/>
<circle cx="512.9" cy="556.1" r="2.5" fill="#FFFFFF"/>
<circle cx="524.3" cy="523.5" r="1.9" fill="#FFFFFF"/>
<circle cx="1164.5" cy="879.0" r="1.8" fill="#FFFFFF"/>
<circle cx="1166.5" cy="883.0" r="1.8" fill="#FFFFFF"/>
<circle cx="1169.0" cy="887.0" r="1.9" fill="#FFFFFF"/>
<circle cx="1172.0" cy="890.0" r="1.9" fill="#FFFFFF"/>
<circle cx="1174.5" cy="891.0" r="1.6" fill="#FFFFFF"/>
</g>
<g clip-path="url(#ny)"><path d="M209.8,452.2 L222.4,455.0 L247.6,460.6 L267.2,453.6 L289.6,452.2 L320.4,449.4 M320.4,397.6 L320.4,491.4 M405.8,399.0 L405.8,443.8 M320.4,442.4 L422.6,443.8 L415.6,460.6 L422.6,463.4 L422.6,471.8 L414.2,491.4 L410.0,533.4 L398.8,550.2 L397.4,555.8 L435.2,558.6 L436.6,565.6 L457.6,567.0 M314.8,491.4 L414.2,491.4 M320.4,491.4 L314.8,491.4 L314.8,508.2 L319.0,508.2 L319.0,555.8 L349.8,557.2 L396.0,557.2 M200.0,550.2 L216.8,553.0 L230.8,569.8 L244.8,572.6 L264.4,567.0 L284.0,561.4 L303.6,557.2 L319.0,555.8 M207.0,553.0 L207.0,653.8 M349.8,557.2 L349.8,653.8 M453.4,567.0 L453.4,653.8 M424.0,469.0 L453.4,470.4 L456.2,477.4 L502.4,478.8 L503.8,460.6 L520.1,462.0 M482.8,478.8 L485.6,497.0 L481.4,508.2 L482.8,527.8 L502.4,529.2 L503.8,546.0 L470.2,546.0 L468.8,554.4 L457.6,555.8 L457.6,567.0 M524.8,414.4 L524.8,460.6 M503.8,462.0 L524.8,460.6 L569.6,462.0 L603.2,463.4 L645.2,464.8 M648.0,401.8 L648.0,464.8 M503.8,462.0 L502.4,478.8 L480.0,478.8 M533.2,512.4 L526.2,527.8 L526.2,546.0 L502.4,546.0 M533.2,512.4 L596.2,512.4 M603.2,463.4 L600.4,491.4 L596.2,512.4 L606.0,533.4 L611.6,553.0 L613.0,565.6 L596.2,565.6 M645.2,464.8 L648.0,491.4 L643.8,511.0 L656.4,533.4 L670.4,553.0 M526.2,546.0 L566.8,546.0 L568.2,561.4 L596.2,562.8 L596.2,565.6 M573.8,562.8 L575.2,600.6 L600.4,600.6 L600.4,653.8 M611.6,551.6 L650.8,551.6 L653.6,600.6 L664.8,600.6 L664.8,609.0 L643.8,606.2 L642.4,599.2 L600.4,600.6 M650.8,551.6 L670.4,553.0 L662.0,537.6 L733.4,536.2 L734.8,578.2 L800.1,576.8 M664.8,600.6 L681.6,600.6 L677.4,625.8 L678.8,653.8 M681.6,600.6 L704.0,595.0 L734.8,593.6 L734.8,578.2 M758.6,578.2 L760.0,597.8 L765.6,609.0 L762.8,625.8 L761.4,653.8 M667.6,420.0 L691.4,420.0 L692.8,424.2 L690.0,457.8 L695.6,469.0 L695.6,494.2 L718.0,495.6 L733.4,508.2 L733.4,536.2 M692.8,424.2 L726.4,422.8 L732.0,427.0 L746.0,417.2 L782.4,432.6 L788.0,435.4 L789.4,449.4 L800.1,450.8 M733.4,508.2 L800.1,506.8 M808.0,385.0 L803.8,401.8 L806.6,435.4 L826.2,436.8 L845.8,445.2 L850.0,456.4 L865.4,460.6 L866.8,477.4 L886.4,478.8 L889.2,491.4 L924.2,491.4 M780.0,435.4 L788.4,434.0 L789.8,448.0 L799.6,450.8 L801.0,505.4 L803.8,518.0 L808.0,576.8 L812.2,607.6 L848.6,609.0 L850.0,616.0 L890.6,616.0 M803.8,518.0 L913.0,513.8 M780.0,506.8 L801.0,505.4 M780.0,576.8 L808.0,576.8 M924.2,491.4 L913.0,513.8 L907.4,530.6 L906.0,547.4 L896.2,558.6 L892.0,575.4 L892.0,593.6 L890.6,616.0 L890.6,642.6 L894.8,653.8 M950.8,385.0 L950.8,401.8 L939.6,410.2 L938.2,415.8 L953.6,424.2 L925.6,457.8 L927.0,480.2 L924.2,491.4 M924.2,491.4 L939.6,485.8 L984.4,498.4 L988.6,487.2 L1033.4,499.8 L1072.6,509.6 L1100.1,506.8 M1004.0,385.0 L992.8,403.2 L1022.2,414.4 L1025.0,429.8 L1013.8,445.2 L1012.4,457.8 L1016.6,466.2 L1012.4,490.0 L988.6,487.2 M1022.2,414.4 L1057.2,424.2 L1100.1,421.4 M1012.4,457.8 L1046.0,467.6 M892.0,593.6 L911.6,589.4 L936.8,581.0 L962.0,572.6 L976.0,564.2 L992.8,560.0 L1020.8,558.6 M1033.4,499.8 L1030.6,508.2 L1037.6,530.6 L1026.4,550.2 L1020.8,558.6 M1020.8,558.6 L1043.2,575.4 L1074.0,588.0 L1057.2,614.6 L1100.1,631.4 M1074.0,588.0 L1085.2,583.8 L1100.1,586.6 M1057.2,614.6 L1071.2,623.0 L1032.0,642.6 L998.4,658.0 L981.6,665.0 M1108.2,255.5 L1108.2,280.0 L1093.5,293.5 L1115.5,313.1 L1130.2,313.1 L1143.7,316.7 L1145.4,326.5 M1115.5,330.2 L1145.4,326.5 L1265.0,316.3 M1115.5,330.2 L1126.6,397.6 L1138.8,474.8 M1126.6,397.6 L1179.2,392.7 L1189.0,412.3 L1201.3,420.9 L1206.2,413.5 L1216.0,416.0 L1218.4,411.1 L1230.7,411.1 M1265.0,316.3 L1250.3,336.3 L1240.5,351.0 L1224.6,362.1 L1223.3,378.0 L1230.7,411.1 L1235.6,449.0 L1223.3,476.0 L1216.0,485.8 L1217.2,505.4 L1213.5,515.2 L1208.6,525.0 M1223.3,477.2 L1291.9,476.0 M1020.0,412.3 L1053.1,423.3 L1093.5,422.1 L1094.7,425.8 L1114.3,424.5 L1114.3,420.9 L1127.8,419.6 M1020.0,460.1 L1051.8,469.9 L1138.8,469.9 M1020.0,495.6 L1072.7,510.3 L1107.0,506.6 L1138.8,474.8 L1164.5,485.8 L1173.1,484.6 L1175.6,494.4 L1185.4,496.8 L1190.3,506.6 L1201.3,504.2 L1209.9,499.3 L1217.2,505.4 M1190.3,506.6 L1100.8,515.2 L1107.0,506.6 M1022.4,412.3 L1023.7,431.9 M1029.8,500.5 L1034.7,525.0 M813.0,207.9 L861.7,229.0 L881.2,240.4 L936.5,268.0 L952.7,271.2 L995.0,266.4 L1053.5,259.9 L1139.6,253.4 M1021.0,92.5 L1022.6,99.0 L1035.6,100.6 L1056.7,250.1 L1053.5,259.9 M1151.0,92.5 L1157.5,144.5 L1162.4,147.7 L1164.0,170.5 L1170.5,173.7 L1172.1,196.5 M1131.5,203.0 L1172.1,196.5 L1219.2,193.2 L1255.0,178.6 L1268.0,177.0 M1131.5,203.0 L1139.6,253.4 M1103.9,256.6 L1108.7,284.2 M875.0,246.0 L866.0,259.5 L876.5,267.0 L875.0,279.0 L857.0,285.0 L836.0,298.5 L812.0,301.5 L812.0,319.5 L825.5,319.5 L827.0,372.0 L816.5,376.5 L809.0,387.0 L803.0,405.0 M746.0,337.5 L779.0,336.0 L779.0,340.5 L824.0,337.5 M816.5,376.5 L866.0,388.5 L944.0,352.5 L939.5,270.0 L936.5,268.0 M944.0,352.5 L950.0,390.0 L951.0,402.0 M995.0,266.4 L1003.0,320.0 L1010.0,372.0 L993.5,403.5 M680.0,417.0 L692.0,420.0 M890.6,620.0 L892.3,640.4 L894.0,654.0 M1014.7,747.5 L1014.7,761.1 M1113.3,813.8 L1160.9,779.8 M1172.8,861.4 L1200.0,873.3 M1206.8,881.8 L1210.2,892.0 L1206.8,912.4 M1251.0,864.8 L1266.3,905.6 M1159.2,895.4 L1169.4,898.8 L1179.6,909.0 M1113.2,540.0 L1108.0,573.8 L1110.6,584.2 M1100.0,514.0 L1124.0,520.0 L1114.0,560.0 L1108.0,576.4 L1196.4,567.3 L1277.0,558.2 M1217.2,505.4 L1212.0,520.0 L1201.6,540.0 L1196.4,567.3 L1193.8,599.8 L1170.4,628.4 L1162.6,664.8 L1167.8,690.8 L1165.2,722.0 L1156.1,748.0 L1165.2,768.8 L1162.6,800.0 L1176.2,817.2 L1176.2,841.0 M1024.8,556.9 L1056.0,582.9 L1072.9,588.1 L1087.2,582.9 L1110.6,584.2 M1072.9,588.1 L1056.0,615.4 L1087.2,629.7 L1144.4,634.9 L1149.6,623.2 L1170.4,628.4 M1056.0,615.4 L1071.6,623.2 L1011.8,651.8 L946.8,680.4 M1011.8,651.8 L1069.0,677.8 L1049.5,698.6 L1084.6,722.0 L1084.6,729.8 M1014.4,748.0 L1066.4,745.4 L1082.0,732.4 L1108.0,723.3 L1132.7,728.5 L1134.0,733.7 L1144.4,729.8 L1162.6,732.4 M1169.1,638.8 L1243.2,658.3 L1244.5,644.0 L1252.0,644.0 M1165.2,750.6 L1245.0,741.5 M1162.6,779.2 L1241.0,771.4" fill="none" stroke="#000" stroke-width="0.7" stroke-linejoin="round"/></g>
<g clip-path="url(#ny)" fill="#4D4D4D">
<path d="M51.7,596.5 L55.1,609.7 L51.2,608.9 L49.3,618.8 L45.4,618.1 L47.3,608.2 L43.5,607.4Z"/>
<path d="M51.4,618.3 L55.1,631.3 L51.2,630.6 L49.5,640.3 L45.6,639.6 L47.4,629.9 L43.5,629.2Z"/>
<path d="M51.4,639.9 L55.1,652.9 L51.2,652.2 L49.5,661.9 L45.6,661.2 L47.4,651.5 L43.5,650.8Z"/>
<path d="M84.3,596.7 L87.5,609.9 L83.7,609.0 L81.6,618.7 L77.8,617.8 L79.8,608.2 L76.0,607.4Z"/>
<path d="M85.1,617.5 L87.7,631.4 L83.8,630.3 L80.9,641.2 L76.9,640.2 L79.8,629.3 L75.9,628.2Z"/>
<path d="M84.5,639.0 L87.9,652.7 L83.9,651.8 L81.5,662.9 L77.5,662.0 L79.8,651.0 L75.8,650.1Z"/>
<path d="M118.3,575.6 L119.6,589.0 L116.0,587.7 L112.6,596.9 L108.9,595.6 L112.2,586.3 L108.6,585.0Z"/>
<path d="M118.5,595.1 L120.5,609.7 L116.4,608.4 L112.5,620.5 L108.5,619.2 L112.4,607.1 L108.3,605.8Z"/>
<path d="M118.5,616.7 L120.5,631.3 L116.4,630.0 L112.5,642.1 L108.5,640.8 L112.4,628.7 L108.3,627.4Z"/>
<path d="M117.6,639.1 L120.2,653.0 L116.3,651.9 L113.4,662.8 L109.4,661.8 L112.3,650.9 L108.4,649.8Z"/>
<path d="M153.0,553.9 L152.0,568.0 L148.4,565.9 L142.8,575.7 L139.2,573.7 L144.9,563.9 L141.3,561.9Z"/>
<path d="M154.2,573.3 L153.1,589.0 L149.1,586.7 L141.7,599.6 L137.8,597.3 L145.3,584.5 L141.3,582.2Z"/>
<path d="M152.9,594.8 L153.1,610.2 L149.1,608.3 L143.1,621.1 L139.1,619.3 L145.1,606.4 L141.0,604.5Z"/>
<path d="M151.0,616.7 L153.0,631.3 L148.9,630.0 L145.0,642.1 L141.0,640.8 L144.9,628.7 L140.8,627.4Z"/>
<path d="M149.5,639.0 L152.9,652.7 L148.9,651.8 L146.5,662.9 L142.5,662.0 L144.8,651.0 L140.8,650.1Z"/>
<path d="M183.5,551.9 L185.5,566.5 L181.4,565.2 L177.5,577.3 L173.5,576.0 L177.4,563.9 L173.3,562.6Z"/>
<path d="M182.9,573.3 L185.6,587.8 L181.5,586.7 L178.2,599.0 L174.1,597.9 L177.4,585.6 L173.2,584.5Z"/>
<path d="M181.6,595.7 L185.4,609.3 L181.4,608.6 L179.4,619.7 L175.4,619.0 L177.4,607.9 L173.3,607.1Z"/>
<path d="M181.0,618.2 L185.2,631.1 L181.3,630.5 L179.9,640.3 L176.0,639.7 L177.4,630.0 L173.5,629.4Z"/>
<path d="M180.5,639.7 L185.2,652.4 L181.4,652.0 L180.5,661.8 L176.6,661.5 L177.4,651.7 L173.6,651.3Z"/>
<path d="M208.7,408.2 L217.6,413.4 L215.2,415.0 L216.6,417.1 L213.9,418.9 L212.6,416.8 L210.1,418.4Z"/>
<path d="M209.0,429.3 L217.6,435.4 L215.0,436.8 L216.4,439.3 L213.6,440.9 L212.2,438.4 L209.6,439.8Z"/>
<path d="M209.9,450.0 L217.4,457.8 L214.5,458.7 L215.6,462.1 L212.5,463.2 L211.4,459.7 L208.5,460.7Z"/>
<path d="M213.0,509.1 L218.1,522.4 L214.0,522.0 L213.0,533.2 L208.9,532.9 L209.9,521.6 L205.8,521.3Z"/>
<path d="M212.5,529.7 L218.4,543.2 L214.1,543.1 L213.7,555.8 L209.4,555.6 L209.9,542.9 L205.6,542.8Z"/>
<path d="M212.5,551.3 L218.4,564.8 L214.1,564.7 L213.7,577.4 L209.4,577.2 L209.9,564.5 L205.6,564.4Z"/>
<path d="M212.5,572.9 L218.4,586.4 L214.1,586.3 L213.7,599.0 L209.4,598.8 L209.9,586.1 L205.6,586.0Z"/>
<path d="M212.5,594.5 L218.4,608.0 L214.1,607.9 L213.7,620.6 L209.4,620.4 L209.9,607.7 L205.6,607.6Z"/>
<path d="M212.5,616.1 L218.4,629.6 L214.1,629.5 L213.7,642.2 L209.4,642.0 L209.9,629.3 L205.6,629.2Z"/>
<path d="M212.5,637.7 L218.4,651.2 L214.1,651.1 L213.7,663.8 L209.4,663.6 L209.9,650.9 L205.6,650.8Z"/>
<path d="M241.0,408.9 L250.2,413.0 L248.0,414.8 L249.2,416.3 L246.8,418.3 L245.6,416.8 L243.4,418.7Z"/>
<path d="M240.6,430.1 L250.1,434.4 L247.9,436.2 L249.6,438.3 L247.1,440.3 L245.4,438.3 L243.2,440.2Z"/>
<path d="M241.5,451.1 L250.1,456.9 L247.6,458.4 L248.9,460.7 L246.1,462.3 L244.8,460.0 L242.3,461.5Z"/>
<path d="M244.5,470.9 L249.3,480.8 L246.2,480.8 L246.2,484.9 L242.8,484.9 L242.8,480.8 L239.7,480.8Z"/>
<path d="M244.5,491.5 L249.6,502.0 L246.2,502.0 L246.2,507.5 L242.8,507.5 L242.8,502.0 L239.4,502.0Z"/>
<path d="M244.5,510.1 L250.4,522.3 L246.5,522.3 L246.5,532.1 L242.5,532.1 L242.5,522.3 L238.6,522.3Z"/>
<path d="M244.5,529.2 L251.0,542.8 L246.7,542.8 L246.7,556.2 L242.3,556.2 L242.3,542.8 L238.0,542.8Z"/>
<path d="M244.5,550.8 L251.0,564.4 L246.7,564.4 L246.7,577.8 L242.3,577.8 L242.3,564.4 L238.0,564.4Z"/>
<path d="M244.5,572.4 L251.0,586.0 L246.7,586.0 L246.7,599.4 L242.3,599.4 L242.3,586.0 L238.0,586.0Z"/>
<path d="M244.5,594.0 L251.0,607.6 L246.7,607.6 L246.7,621.0 L242.3,621.0 L242.3,607.6 L238.0,607.6Z"/>
<path d="M244.5,615.6 L251.0,629.2 L246.7,629.2 L246.7,642.6 L242.3,642.6 L242.3,629.2 L238.0,629.2Z"/>
<path d="M244.5,637.2 L251.0,650.8 L246.7,650.8 L246.7,664.2 L242.3,664.2 L242.3,650.8 L238.0,650.8Z"/>
<path d="M272.4,409.2 L282.5,411.8 L280.6,414.0 L282.6,415.7 L280.6,418.2 L278.5,416.5 L276.7,418.7Z"/>
<path d="M272.4,430.8 L282.5,433.4 L280.6,435.6 L282.6,437.3 L280.6,439.8 L278.5,438.1 L276.7,440.3Z"/>
<path d="M273.6,451.4 L282.6,456.5 L280.2,458.1 L281.8,460.3 L279.1,462.1 L277.6,460.0 L275.2,461.6Z"/>
<path d="M274.5,473.6 L282.6,479.1 L280.2,480.4 L280.8,481.5 L278.2,483.0 L277.6,482.0 L275.2,483.3Z"/>
<path d="M277.0,487.5 L283.1,500.2 L279.1,500.2 L279.1,511.5 L274.9,511.5 L274.9,500.2 L270.9,500.2Z"/>
<path d="M277.0,507.1 L283.7,520.9 L279.2,520.9 L279.2,535.1 L274.8,535.1 L274.8,520.9 L270.3,520.9Z"/>
<path d="M277.0,528.7 L283.7,542.5 L279.2,542.5 L279.2,556.7 L274.8,556.7 L274.8,542.5 L270.3,542.5Z"/>
<path d="M277.0,550.3 L283.7,564.1 L279.2,564.1 L279.2,578.3 L274.8,578.3 L274.8,564.1 L270.3,564.1Z"/>
<path d="M277.0,571.9 L283.7,585.7 L279.2,585.7 L279.2,599.9 L274.8,599.9 L274.8,585.7 L270.3,585.7Z"/>
<path d="M277.0,593.5 L283.7,607.3 L279.2,607.3 L279.2,621.5 L274.8,621.5 L274.8,607.3 L270.3,607.3Z"/>
<path d="M277.0,615.1 L283.7,628.9 L279.2,628.9 L279.2,643.1 L274.8,643.1 L274.8,628.9 L270.3,628.9Z"/>
<path d="M277.0,636.7 L283.7,650.5 L279.2,650.5 L279.2,664.7 L274.8,664.7 L274.8,650.5 L270.3,650.5Z"/>
<path d="M305.0,388.1 L315.0,390.1 L313.2,392.4 L315.0,393.7 L313.1,396.2 L311.3,394.9 L309.6,397.1Z"/>
<path d="M305.0,409.9 L314.9,411.6 L313.3,413.9 L314.9,415.0 L313.1,417.5 L311.5,416.4 L309.9,418.7Z"/>
<path d="M304.6,431.3 L314.8,432.9 L313.2,435.3 L315.3,436.8 L313.5,439.5 L311.3,437.9 L309.7,440.3Z"/>
<path d="M306.3,451.8 L315.1,456.7 L312.8,458.3 L313.9,459.9 L311.4,461.7 L310.3,460.1 L308.0,461.7Z"/>
<path d="M308.3,471.0 L314.7,479.9 L311.7,480.5 L312.4,484.5 L309.1,485.1 L308.4,481.1 L305.3,481.6Z"/>
<path d="M309.1,488.5 L315.4,500.5 L311.5,500.6 L311.9,510.4 L307.9,510.6 L307.6,500.7 L303.7,500.9Z"/>
<path d="M309.5,508.1 L315.9,521.4 L311.6,521.4 L311.6,534.1 L307.4,534.1 L307.4,521.4 L303.1,521.4Z"/>
<path d="M311.9,528.9 L316.1,543.7 L311.7,542.9 L309.2,556.9 L304.9,556.1 L307.4,542.2 L302.9,541.4Z"/>
<path d="M311.9,550.5 L316.1,565.3 L311.7,564.5 L309.2,578.5 L304.9,577.7 L307.4,563.8 L302.9,563.0Z"/>
<path d="M310.6,572.9 L315.9,586.7 L311.6,586.4 L310.5,599.0 L306.3,598.7 L307.4,586.0 L303.1,585.6Z"/>
<path d="M310.6,594.5 L315.9,608.3 L311.6,608.0 L310.5,620.6 L306.3,620.3 L307.4,607.6 L303.1,607.2Z"/>
<path d="M310.1,622.1 L314.0,632.4 L310.9,632.2 L310.6,636.2 L307.2,635.9 L307.6,631.9 L304.5,631.6Z"/>
<path d="M309.5,639.7 L315.4,651.9 L311.5,651.9 L311.5,661.7 L307.5,661.7 L307.5,651.9 L303.6,651.9Z"/>
<path d="M336.5,388.7 L347.0,388.9 L345.7,391.5 L348.2,392.8 L346.8,395.7 L344.2,394.4 L342.9,397.1Z"/>
<path d="M335.9,410.9 L346.5,409.8 L345.5,412.6 L348.7,413.8 L347.5,416.9 L344.4,415.7 L343.4,418.5Z"/>
<path d="M335.7,433.0 L346.2,431.0 L345.5,433.9 L348.7,434.8 L347.9,438.0 L344.6,437.1 L343.8,440.0Z"/>
<path d="M338.1,451.7 L347.6,456.0 L345.4,457.8 L347.1,459.9 L344.6,461.9 L342.9,459.9 L340.7,461.8Z"/>
<path d="M341.8,470.9 L346.9,480.7 L343.8,480.8 L343.9,484.8 L340.6,485.0 L340.4,480.9 L337.3,481.0Z"/>
<path d="M344.8,488.9 L347.4,502.1 L343.6,501.1 L341.1,510.6 L337.2,509.6 L339.8,500.1 L336.0,499.1Z"/>
<path d="M346.0,508.7 L348.0,523.3 L343.9,522.0 L340.0,534.1 L336.0,532.8 L339.9,520.7 L335.8,519.4Z"/>
<path d="M345.6,529.2 L348.5,544.3 L344.2,543.1 L340.5,556.8 L336.3,555.7 L339.9,542.0 L335.6,540.8Z"/>
<path d="M345.6,550.8 L348.5,565.9 L344.2,564.7 L340.5,578.4 L336.3,577.3 L339.9,563.6 L335.6,562.4Z"/>
<path d="M344.7,573.2 L348.2,587.5 L344.0,586.6 L341.4,599.1 L337.2,598.2 L339.9,585.7 L335.7,584.8Z"/>
<path d="M343.5,596.6 L347.7,609.5 L343.8,608.9 L342.4,618.7 L338.5,618.1 L339.9,608.4 L336.0,607.8Z"/>
<path d="M343.0,623.2 L345.9,633.2 L343.0,632.7 L342.5,635.3 L339.4,634.7 L339.8,632.1 L337.0,631.6Z"/>
<path d="M342.0,639.7 L347.9,651.9 L344.0,651.9 L344.0,661.7 L340.0,661.7 L340.0,651.9 L336.1,651.9Z"/>
<path d="M369.4,388.6 L379.7,389.3 L378.3,391.8 L380.4,393.0 L378.8,395.8 L376.7,394.6 L375.2,397.1Z"/>
<path d="M369.1,410.6 L379.5,410.4 L378.2,413.1 L380.6,414.2 L379.3,417.1 L376.9,416.0 L375.6,418.6Z"/>
<path d="M369.3,431.7 L379.7,432.5 L378.2,435.0 L380.5,436.3 L378.9,439.1 L376.6,437.8 L375.1,440.3Z"/>
<path d="M371.1,451.4 L380.1,456.5 L377.7,458.1 L379.3,460.3 L376.6,462.1 L375.1,460.0 L372.7,461.6Z"/>
<path d="M372.9,472.1 L379.7,480.0 L376.9,480.7 L377.6,483.3 L374.5,484.1 L373.8,481.6 L371.0,482.3Z"/>
<path d="M379.8,491.0 L378.4,503.8 L375.3,501.9 L370.8,509.0 L367.6,507.0 L372.0,499.9 L368.9,497.9Z"/>
<path d="M380.3,511.8 L378.9,525.2 L375.6,523.1 L370.3,531.5 L367.0,529.4 L372.2,521.0 L368.9,519.0Z"/>
<path d="M377.9,533.3 L379.2,546.1 L375.7,544.9 L372.9,552.7 L369.3,551.4 L372.2,543.6 L368.7,542.3Z"/>
<path d="M376.8,553.5 L380.0,566.7 L376.2,565.8 L374.1,575.5 L370.3,574.6 L372.3,565.0 L368.5,564.2Z"/>
<path d="M375.5,573.9 L380.6,587.2 L376.5,586.8 L375.5,598.0 L371.4,597.7 L372.4,586.4 L368.3,586.1Z"/>
<path d="M374.9,595.5 L380.6,608.4 L376.5,608.3 L376.1,619.6 L372.0,619.4 L372.4,608.1 L368.3,608.0Z"/>
<path d="M374.5,617.1 L380.6,629.8 L376.6,629.8 L376.6,641.1 L372.4,641.1 L372.4,629.8 L368.4,629.8Z"/>
<path d="M374.5,638.7 L380.6,651.4 L376.6,651.4 L376.6,662.7 L372.4,662.7 L372.4,651.4 L368.4,651.4Z"/>
<path d="M402.4,388.4 L412.4,389.8 L410.8,392.2 L412.5,393.3 L410.8,395.9 L409.1,394.8 L407.5,397.1Z"/>
<path d="M402.2,410.4 L412.3,411.1 L410.9,413.5 L412.5,414.5 L411.0,417.2 L409.3,416.2 L407.9,418.7Z"/>
<path d="M402.2,432.0 L412.3,432.7 L410.9,435.1 L412.5,436.1 L411.0,438.8 L409.3,437.8 L407.9,440.3Z"/>
<path d="M403.1,451.7 L412.6,456.0 L410.4,457.8 L412.1,459.9 L409.6,461.9 L407.9,459.9 L405.7,461.8Z"/>
<path d="M405.8,471.0 L412.2,479.9 L409.2,480.5 L409.9,484.5 L406.6,485.1 L405.9,481.1 L402.8,481.6Z"/>
<path d="M406.7,491.5 L412.1,501.8 L408.8,501.9 L409.0,507.4 L405.5,507.6 L405.3,502.0 L402.0,502.2Z"/>
<path d="M407.0,512.1 L412.3,523.1 L408.8,523.1 L408.8,530.1 L405.2,530.1 L405.2,523.1 L401.7,523.1Z"/>
<path d="M410.4,534.4 L411.2,546.6 L407.9,545.3 L405.3,551.7 L401.9,550.4 L404.5,543.9 L401.3,542.6Z"/>
<path d="M408.9,553.5 L412.6,566.5 L408.7,565.8 L407.0,575.5 L403.1,574.8 L404.9,565.1 L401.0,564.4Z"/>
<path d="M407.5,572.9 L413.4,586.4 L409.1,586.3 L408.7,599.0 L404.4,598.8 L404.9,586.1 L400.6,586.0Z"/>
<path d="M407.0,593.5 L413.7,607.3 L409.2,607.3 L409.2,621.5 L404.8,621.5 L404.8,607.3 L400.3,607.3Z"/>
<path d="M407.0,615.1 L413.7,628.9 L409.2,628.9 L409.2,643.1 L404.8,643.1 L404.8,628.9 L400.3,628.9Z"/>
<path d="M407.0,636.7 L413.7,650.5 L409.2,650.5 L409.2,664.7 L404.8,664.7 L404.8,650.5 L400.3,650.5Z"/>
<path d="M434.7,410.4 L444.8,411.1 L443.4,413.5 L445.0,414.5 L443.5,417.2 L441.8,416.2 L440.4,418.7Z"/>
<path d="M434.6,431.3 L444.8,432.9 L443.2,435.3 L445.3,436.8 L443.5,439.5 L441.3,437.9 L439.7,440.3Z"/>
<path d="M436.0,452.1 L445.2,456.2 L443.0,458.0 L444.2,459.5 L441.8,461.5 L440.6,460.0 L438.4,461.9Z"/>
<path d="M438.3,471.0 L444.7,479.9 L441.7,480.5 L442.4,484.5 L439.1,485.1 L438.4,481.1 L435.3,481.6Z"/>
<path d="M439.2,491.5 L444.6,501.8 L441.3,501.9 L441.5,507.4 L438.0,507.6 L437.8,502.0 L434.5,502.2Z"/>
<path d="M439.5,512.1 L444.8,523.1 L441.3,523.1 L441.3,530.1 L437.7,530.1 L437.7,523.1 L434.2,523.1Z"/>
<path d="M439.5,528.7 L446.2,542.5 L441.7,542.5 L441.7,556.7 L437.3,556.7 L437.3,542.5 L432.8,542.5Z"/>
<path d="M439.5,548.3 L446.7,563.3 L441.9,563.3 L441.9,580.3 L437.1,580.3 L437.1,563.3 L432.3,563.3Z"/>
<path d="M439.5,569.9 L446.7,584.9 L441.9,584.9 L441.9,601.9 L437.1,601.9 L437.1,584.9 L432.3,584.9Z"/>
<path d="M439.5,591.5 L446.7,606.5 L441.9,606.5 L441.9,623.5 L437.1,623.5 L437.1,606.5 L432.3,606.5Z"/>
<path d="M439.5,613.1 L446.7,628.1 L441.9,628.1 L441.9,645.1 L437.1,645.1 L437.1,628.1 L432.3,628.1Z"/>
<path d="M439.5,634.7 L446.7,649.7 L441.9,649.7 L441.9,666.7 L437.1,666.7 L437.1,649.7 L432.3,649.7Z"/>
<path d="M468.2,409.9 L477.6,412.3 L475.9,414.4 L476.8,415.1 L474.8,417.5 L473.9,416.7 L472.2,418.8Z"/>
<path d="M468.6,429.8 L477.6,434.9 L475.2,436.5 L476.8,438.7 L474.1,440.5 L472.6,438.4 L470.2,440.0Z"/>
<path d="M468.1,451.7 L477.6,456.0 L475.4,457.8 L477.1,459.9 L474.6,461.9 L472.9,459.9 L470.7,461.8Z"/>
<path d="M468.6,473.0 L477.6,478.1 L475.2,479.7 L476.8,481.9 L474.1,483.7 L472.6,481.6 L470.2,483.2Z"/>
<path d="M469.9,491.8 L477.5,500.6 L474.3,501.4 L475.8,506.8 L472.4,507.7 L471.0,502.3 L467.8,503.2Z"/>
<path d="M470.4,512.2 L477.6,522.2 L474.2,522.8 L475.4,529.6 L471.8,530.3 L470.6,523.4 L467.1,524.0Z"/>
<path d="M471.4,525.7 L479.4,541.0 L474.4,541.1 L475.0,559.6 L470.2,559.8 L469.5,541.3 L464.5,541.5Z"/>
<path d="M472.0,544.3 L480.3,561.5 L474.6,561.5 L474.6,584.3 L469.4,584.3 L469.4,561.5 L463.7,561.5Z"/>
<path d="M472.0,565.9 L480.3,583.1 L474.6,583.1 L474.6,605.9 L469.4,605.9 L469.4,583.1 L463.7,583.1Z"/>
<path d="M472.0,586.5 L480.6,604.3 L474.7,604.3 L474.7,628.5 L469.3,628.5 L469.3,604.3 L463.4,604.3Z"/>
<path d="M472.0,608.1 L480.6,625.9 L474.7,625.9 L474.7,650.1 L469.3,650.1 L469.3,625.9 L463.4,625.9Z"/>
<path d="M472.0,629.7 L480.6,647.5 L474.7,647.5 L474.7,671.7 L469.3,671.7 L469.3,647.5 L463.4,647.5Z"/>
<path d="M500.7,409.9 L510.1,412.3 L508.4,414.4 L509.3,415.1 L507.3,417.5 L506.4,416.7 L504.7,418.8Z"/>
<path d="M501.1,429.8 L510.1,434.9 L507.7,436.5 L509.3,438.7 L506.6,440.5 L505.1,438.4 L502.7,440.0Z"/>
<path d="M500.6,451.7 L510.1,456.0 L507.9,457.8 L509.6,459.9 L507.1,461.9 L505.4,459.9 L503.2,461.8Z"/>
<path d="M500.5,472.2 L510.1,477.5 L507.5,479.3 L509.9,482.7 L507.1,484.6 L504.8,481.3 L502.3,483.0Z"/>
<path d="M501.1,491.2 L510.2,499.4 L507.0,500.7 L509.6,507.2 L506.2,508.5 L503.6,502.1 L500.3,503.4Z"/>
<path d="M501.7,510.5 L510.5,520.7 L506.7,521.7 L509.3,531.2 L505.4,532.2 L502.9,522.7 L499.1,523.7Z"/>
<path d="M500.1,530.5 L510.6,540.8 L506.6,542.2 L510.9,554.2 L506.9,555.6 L502.6,543.7 L498.6,545.2Z"/>
<path d="M503.1,548.4 L511.6,562.6 L506.8,563.1 L508.2,580.0 L503.6,580.4 L502.1,563.5 L497.2,563.9Z"/>
<path d="M504.5,567.9 L512.3,584.0 L507.0,584.0 L507.0,603.9 L502.0,603.9 L502.0,584.0 L496.7,584.0Z"/>
<path d="M504.5,589.5 L512.3,605.6 L507.0,605.6 L507.0,625.5 L502.0,625.5 L502.0,605.6 L496.7,605.6Z"/>
<path d="M504.5,611.1 L512.3,627.2 L507.0,627.2 L507.0,647.1 L502.0,647.1 L502.0,627.2 L496.7,627.2Z"/>
<path d="M504.5,632.7 L512.3,648.8 L507.0,648.8 L507.0,668.7 L502.0,668.7 L502.0,648.8 L496.7,648.8Z"/>
<path d="M533.2,409.9 L542.6,412.3 L540.9,414.4 L541.8,415.1 L539.8,417.5 L538.9,416.7 L537.2,418.8Z"/>
<path d="M533.6,429.8 L542.6,434.9 L540.2,436.5 L541.8,438.7 L539.1,440.5 L537.6,438.4 L535.2,440.0Z"/>
<path d="M530.9,452.8 L541.9,453.6 L540.4,456.3 L543.9,458.3 L542.2,461.3 L538.7,459.2 L537.1,461.9Z"/>
<path d="M530.6,471.5 L542.2,475.6 L539.7,478.1 L544.7,483.0 L542.1,485.6 L537.2,480.6 L534.7,483.1Z"/>
<path d="M533.3,490.2 L542.8,498.9 L539.4,500.3 L542.5,508.1 L539.0,509.5 L535.8,501.7 L532.4,503.1Z"/>
<path d="M533.9,509.5 L543.1,520.2 L539.2,521.3 L542.1,532.2 L538.1,533.2 L535.2,522.3 L531.3,523.4Z"/>
<path d="M533.6,530.1 L543.3,541.3 L539.1,542.4 L542.4,554.7 L538.3,555.8 L535.0,543.5 L530.9,544.6Z"/>
<path d="M534.6,550.5 L543.6,563.0 L539.1,563.8 L541.6,577.7 L537.3,578.5 L534.8,564.5 L530.4,565.3Z"/>
<path d="M537.0,568.9 L544.5,584.4 L539.4,584.4 L539.4,602.9 L534.6,602.9 L534.6,584.4 L529.5,584.4Z"/>
<path d="M537.0,590.5 L544.5,606.0 L539.4,606.0 L539.4,624.5 L534.6,624.5 L534.6,606.0 L529.5,606.0Z"/>
<path d="M537.0,612.1 L544.5,627.6 L539.4,627.6 L539.4,646.1 L534.6,646.1 L534.6,627.6 L529.5,627.6Z"/>
<path d="M537.0,633.7 L544.5,649.2 L539.4,649.2 L539.4,667.7 L534.6,667.7 L534.6,649.2 L529.5,649.2Z"/>
<path d="M565.3,409.6 L575.1,412.0 L573.2,414.2 L574.7,415.4 L572.7,417.8 L571.2,416.6 L569.4,418.8Z"/>
<path d="M563.4,429.6 L574.7,432.4 L572.5,435.0 L576.8,438.5 L574.5,441.2 L570.3,437.6 L568.1,440.2Z"/>
<path d="M561.7,451.8 L573.9,452.7 L572.2,455.7 L578.2,459.2 L576.4,462.4 L570.4,458.9 L568.6,461.9Z"/>
<path d="M561.8,471.5 L574.3,474.6 L571.9,477.5 L578.4,482.9 L575.9,485.8 L569.5,480.4 L567.1,483.2Z"/>
<path d="M563.2,490.5 L575.0,497.1 L571.8,499.3 L577.4,507.4 L574.2,509.6 L568.5,501.6 L565.4,503.8Z"/>
<path d="M565.0,510.0 L575.5,519.5 L571.7,521.0 L575.9,531.5 L572.1,533.0 L567.9,522.5 L564.1,524.1Z"/>
<path d="M567.4,530.9 L575.7,542.3 L571.6,543.1 L573.6,554.2 L569.6,554.9 L567.6,543.8 L563.6,544.5Z"/>
<path d="M569.5,553.3 L575.4,565.5 L571.5,565.5 L571.5,575.3 L567.5,575.3 L567.5,565.5 L563.6,565.5Z"/>
<path d="M569.5,572.9 L575.9,586.2 L571.6,586.2 L571.6,598.9 L567.4,598.9 L567.4,586.2 L563.1,586.2Z"/>
<path d="M569.5,592.5 L576.5,606.9 L571.8,606.9 L571.8,622.5 L567.2,622.5 L567.2,606.9 L562.5,606.9Z"/>
<path d="M569.5,614.1 L576.5,628.5 L571.8,628.5 L571.8,644.1 L567.2,644.1 L567.2,628.5 L562.5,628.5Z"/>
<path d="M569.5,635.7 L576.5,650.1 L571.8,650.1 L571.8,665.7 L567.2,665.7 L567.2,650.1 L562.5,650.1Z"/>
<path d="M597.0,406.7 L607.5,411.9 L604.9,413.9 L608.4,418.4 L605.6,420.6 L602.1,416.1 L599.5,418.2Z"/>
<path d="M596.8,427.3 L607.5,433.3 L604.7,435.3 L608.7,441.0 L605.7,443.1 L601.7,437.4 L598.8,439.4Z"/>
<path d="M596.5,449.2 L607.5,454.6 L604.7,456.8 L609.0,462.3 L606.1,464.5 L601.8,459.0 L599.1,461.2Z"/>
<path d="M595.7,468.9 L607.5,475.5 L604.3,477.7 L609.9,485.8 L606.7,488.0 L601.0,480.0 L597.9,482.2Z"/>
<path d="M595.1,489.7 L607.4,496.6 L604.1,498.9 L610.6,508.2 L607.2,510.5 L600.7,501.3 L597.4,503.6Z"/>
<path d="M597.2,507.9 L608.2,518.7 L604.0,520.2 L608.9,533.5 L604.7,535.0 L599.9,521.7 L595.7,523.2Z"/>
<path d="M599.4,527.9 L608.7,540.9 L604.1,541.7 L606.8,557.1 L602.4,557.9 L599.7,542.5 L595.1,543.3Z"/>
<path d="M600.7,549.4 L608.9,563.1 L604.2,563.5 L605.6,579.0 L601.0,579.4 L599.7,563.9 L595.0,564.3Z"/>
<path d="M600.7,571.0 L608.9,584.7 L604.2,585.1 L605.6,600.6 L601.0,601.0 L599.7,585.5 L595.0,585.9Z"/>
<path d="M599.6,593.7 L608.6,606.2 L604.1,607.0 L606.6,620.9 L602.3,621.7 L599.8,607.7 L595.4,608.5Z"/>
<path d="M597.6,616.9 L608.1,627.2 L604.1,628.6 L608.4,640.6 L604.4,642.0 L600.1,630.1 L596.1,631.6Z"/>
<path d="M600.9,637.7 L608.4,650.4 L604.1,650.8 L605.2,663.5 L601.0,663.8 L599.9,651.2 L595.6,651.5Z"/>
<path d="M630.5,407.4 L640.1,412.7 L637.5,414.5 L639.9,417.9 L637.1,419.8 L634.8,416.5 L632.3,418.2Z"/>
<path d="M629.3,427.3 L640.0,433.3 L637.2,435.3 L641.2,441.0 L638.2,443.1 L634.2,437.4 L631.3,439.4Z"/>
<path d="M629.3,448.9 L640.0,454.9 L637.2,456.9 L641.2,462.6 L638.2,464.7 L634.2,459.0 L631.3,461.0Z"/>
<path d="M627.0,467.3 L639.9,474.5 L636.4,476.9 L643.7,487.3 L640.2,489.8 L632.9,479.3 L629.4,481.8Z"/>
<path d="M627.6,488.5 L640.1,496.3 L636.5,498.6 L643.2,509.4 L639.6,511.7 L632.8,500.9 L629.2,503.1Z"/>
<path d="M629.5,507.5 L640.8,518.4 L636.5,520.0 L641.6,534.0 L637.4,535.5 L632.3,521.5 L628.0,523.1Z"/>
<path d="M632.1,525.9 L641.7,540.2 L636.7,540.9 L639.3,559.2 L634.5,559.9 L631.9,541.6 L626.9,542.3Z"/>
<path d="M633.9,546.3 L642.2,562.1 L636.9,562.3 L637.6,582.2 L632.6,582.4 L631.9,562.5 L626.7,562.7Z"/>
<path d="M633.0,569.0 L641.8,583.8 L636.8,584.2 L638.4,602.6 L633.6,603.0 L632.0,584.6 L626.9,585.1Z"/>
<path d="M630.6,593.0 L641.1,605.1 L636.5,606.3 L640.6,621.4 L636.2,622.6 L632.1,607.5 L627.6,608.7Z"/>
<path d="M627.6,619.3 L639.9,626.2 L636.6,628.5 L643.1,637.8 L639.7,640.1 L633.2,630.9 L629.9,633.2Z"/>
<path d="M629.0,638.9 L640.4,648.2 L636.5,650.1 L641.9,661.6 L638.1,663.4 L632.7,651.9 L628.8,653.7Z"/>
<path d="M662.3,387.8 L672.4,390.1 L670.6,392.3 L672.7,393.9 L670.7,396.4 L668.7,394.8 L666.9,397.1Z"/>
<path d="M663.5,409.6 L672.7,412.8 L670.8,414.7 L671.6,415.6 L669.5,417.7 L668.6,416.9 L666.7,418.8Z"/>
<path d="M662.5,431.5 L672.4,433.2 L670.8,435.5 L672.4,436.6 L670.6,439.1 L669.0,438.0 L667.4,440.3Z"/>
<path d="M662.7,453.8 L672.4,454.5 L671.1,456.9 L672.1,457.5 L670.6,460.1 L669.5,459.5 L668.2,461.9Z"/>
<path d="M662.1,473.0 L672.5,476.6 L670.2,478.8 L673.1,481.7 L670.8,484.0 L667.9,481.1 L665.7,483.4Z"/>
<path d="M660.7,490.5 L672.5,497.1 L669.3,499.3 L674.9,507.4 L671.7,509.6 L666.0,501.6 L662.9,503.8Z"/>
<path d="M661.1,510.1 L672.8,518.6 L669.1,520.6 L674.7,531.2 L671.0,533.1 L665.4,522.5 L661.7,524.5Z"/>
<path d="M662.6,530.5 L673.1,540.8 L669.1,542.2 L673.4,554.2 L669.4,555.6 L665.1,543.7 L661.1,545.2Z"/>
<path d="M663.6,551.7 L673.3,562.9 L669.1,564.0 L672.4,576.3 L668.3,577.4 L665.0,565.1 L660.9,566.2Z"/>
<path d="M664.7,573.1 L673.4,585.1 L669.1,585.8 L671.4,598.3 L667.2,599.1 L665.0,586.5 L660.7,587.3Z"/>
<path d="M662.9,596.2 L673.0,606.1 L669.2,607.5 L673.0,618.1 L669.2,619.5 L665.3,608.9 L661.5,610.3Z"/>
<path d="M660.1,619.3 L672.4,626.2 L669.1,628.5 L675.6,637.8 L672.2,640.1 L665.7,630.9 L662.4,633.2Z"/>
<path d="M661.0,640.3 L672.7,648.3 L669.1,650.3 L674.8,660.1 L671.2,662.1 L665.6,652.3 L662.0,654.4Z"/>
<path d="M691.0,366.8 L703.2,365.6 L702.0,368.9 L708.6,371.3 L707.3,374.7 L700.8,372.3 L699.6,375.6Z"/>
<path d="M693.4,388.0 L704.4,388.8 L702.9,391.5 L706.4,393.5 L704.7,396.5 L701.2,394.4 L699.6,397.1Z"/>
<path d="M693.9,411.0 L704.2,410.0 L703.2,412.7 L705.7,413.6 L704.6,416.7 L702.1,415.8 L701.1,418.5Z"/>
<path d="M704.2,431.3 L695.1,433.9 L702.7,439.5 L703.9,435.5Z" stroke="#4D4D4D" stroke-width="0.9" stroke-linejoin="miter"/>
<path d="M704.3,452.9 L696.0,456.0 L703.6,460.5 L703.0,456.6Z" stroke="#4D4D4D" stroke-width="0.9" stroke-linejoin="miter"/>
<path d="M705.0,476.3 L695.6,475.7 L700.9,483.5 L703.4,480.2Z" stroke="#4D4D4D" stroke-width="0.9" stroke-linejoin="miter"/>
<path d="M694.4,493.4 L705.0,498.1 L702.4,500.3 L706.0,504.5 L703.3,506.8 L699.8,502.5 L697.2,504.7Z"/>
<path d="M693.7,513.6 L704.9,519.2 L702.1,521.4 L706.8,527.4 L703.9,529.7 L699.2,523.7 L696.3,525.9Z"/>
<path d="M692.4,535.6 L704.6,539.9 L702.0,542.5 L707.9,548.4 L705.2,551.1 L699.3,545.2 L696.7,547.8Z"/>
<path d="M692.4,557.2 L704.6,561.5 L702.0,564.1 L707.9,570.0 L705.2,572.7 L699.3,566.8 L696.7,569.4Z"/>
<path d="M693.8,577.7 L705.0,584.0 L702.0,586.1 L706.8,593.0 L703.7,595.2 L698.9,588.3 L695.8,590.4Z"/>
<path d="M694.9,597.5 L705.3,606.1 L701.8,607.7 L705.9,616.6 L702.4,618.3 L698.2,609.4 L694.7,611.0Z"/>
<path d="M696.4,617.5 L705.6,628.2 L701.7,629.3 L704.6,640.2 L700.6,641.2 L697.7,630.3 L693.8,631.4Z"/>
<path d="M697.4,638.9 L705.7,650.3 L701.6,651.1 L703.6,662.2 L699.6,662.9 L697.6,651.8 L693.6,652.5Z"/>
<path d="M725.4,239.0 L735.9,236.3 L735.3,239.3 L738.9,240.0 L738.3,243.2 L734.7,242.5 L734.1,245.5Z"/>
<path d="M725.0,261.3 L735.3,257.4 L735.1,260.5 L739.1,260.8 L738.8,264.2 L734.8,263.8 L734.5,266.9Z"/>
<path d="M726.8,281.6 L736.9,280.6 L735.9,283.2 L737.7,283.9 L736.6,286.8 L734.8,286.2 L733.9,288.8Z"/>
<path d="M737.5,303.0 L728.7,303.9 L734.9,310.2 L735.3,306.3Z" stroke="#4D4D4D" stroke-width="0.9" stroke-linejoin="miter"/>
<path d="M737.7,368.6 L728.5,367.9 L733.7,375.5 L735.5,371.9Z" stroke="#4D4D4D" stroke-width="0.9" stroke-linejoin="miter"/>
<path d="M722.6,388.1 L735.4,386.8 L734.2,390.3 L742.0,393.1 L740.7,396.7 L732.9,393.8 L731.6,397.3Z"/>
<path d="M722.3,410.5 L735.0,408.1 L734.0,411.7 L742.2,413.9 L741.2,417.5 L733.1,415.3 L732.1,418.9Z"/>
<path d="M726.4,432.6 L736.7,431.6 L735.7,434.3 L738.2,435.2 L737.1,438.3 L734.6,437.4 L733.6,440.1Z"/>
<path d="M727.9,453.4 L737.6,455.0 L736.0,457.2 L737.0,457.9 L735.2,460.4 L734.2,459.7 L732.7,462.0Z"/>
<path d="M729.1,473.8 L737.7,478.6 L735.4,480.1 L736.1,481.1 L733.6,482.9 L732.9,481.9 L730.7,483.5Z"/>
<path d="M729.5,494.1 L737.5,500.6 L734.9,501.9 L736.0,504.3 L733.1,505.6 L732.0,503.2 L729.3,504.5Z"/>
<path d="M728.0,513.6 L737.6,520.7 L734.6,522.3 L737.6,527.8 L734.4,529.4 L731.5,523.9 L728.5,525.5Z"/>
<path d="M726.8,535.3 L737.5,541.3 L734.7,543.3 L738.7,549.0 L735.7,551.1 L731.7,545.4 L728.8,547.4Z"/>
<path d="M724.9,557.2 L737.1,561.5 L734.5,564.1 L740.4,570.0 L737.7,572.7 L731.8,566.8 L729.2,569.4Z"/>
<path d="M725.7,576.9 L737.5,583.5 L734.3,585.7 L739.9,593.8 L736.7,596.0 L731.0,588.0 L727.9,590.2Z"/>
<path d="M727.4,597.5 L737.8,606.1 L734.3,607.7 L738.4,616.6 L734.9,618.3 L730.7,609.4 L727.2,611.0Z"/>
<path d="M728.9,617.5 L738.1,628.2 L734.2,629.3 L737.1,640.2 L733.1,641.2 L730.2,630.3 L726.3,631.4Z"/>
<path d="M730.1,639.9 L738.0,650.8 L734.1,651.5 L735.9,661.2 L732.0,661.9 L730.3,652.2 L726.4,652.9Z"/>
<path d="M758.7,237.4 L769.4,237.5 L768.0,240.2 L771.1,241.8 L769.6,244.7 L766.5,243.2 L765.2,245.9Z"/>
<path d="M758.4,258.4 L769.4,259.2 L767.9,261.9 L771.4,263.9 L769.7,266.9 L766.2,264.8 L764.6,267.5Z"/>
<path d="M759.6,278.6 L770.0,282.2 L767.7,284.4 L770.6,287.3 L768.3,289.6 L765.4,286.7 L763.2,289.0Z"/>
<path d="M759.6,300.2 L770.0,303.8 L767.7,306.0 L770.6,308.9 L768.3,311.2 L765.4,308.3 L763.2,310.6Z"/>
<path d="M759.1,322.2 L769.8,324.9 L767.8,327.3 L770.9,329.9 L768.8,332.5 L765.7,329.9 L763.7,332.2Z"/>
<path d="M758.8,344.3 L769.6,346.1 L767.9,348.6 L771.2,350.9 L769.3,353.7 L765.9,351.3 L764.1,353.9Z"/>
<path d="M757.2,366.5 L768.9,366.4 L767.5,369.4 L772.5,371.7 L771.0,374.9 L766.0,372.5 L764.6,375.5Z"/>
<path d="M753.9,388.7 L767.1,386.1 L766.1,389.9 L775.6,392.4 L774.6,396.3 L765.1,393.7 L764.1,397.5Z"/>
<path d="M753.7,411.2 L766.7,407.5 L766.0,411.4 L775.7,413.1 L775.0,417.0 L765.3,415.2 L764.6,419.1Z"/>
<path d="M759.1,432.2 L769.5,432.0 L768.2,434.7 L770.6,435.8 L769.3,438.7 L766.9,437.6 L765.6,440.2Z"/>
<path d="M760.7,453.1 L770.1,455.5 L768.4,457.6 L769.3,458.3 L767.3,460.7 L766.4,459.9 L764.7,462.0Z"/>
<path d="M761.6,473.8 L770.2,478.6 L767.9,480.1 L768.6,481.1 L766.1,482.9 L765.4,481.9 L763.2,483.5Z"/>
<path d="M763.3,492.6 L769.7,501.5 L766.7,502.1 L767.4,506.1 L764.1,506.7 L763.4,502.7 L760.3,503.2Z"/>
<path d="M763.0,512.7 L770.0,522.4 L766.7,523.0 L767.7,529.2 L764.2,529.8 L763.1,523.6 L759.8,524.2Z"/>
<path d="M762.2,534.0 L770.2,543.3 L766.8,544.2 L768.6,550.9 L765.1,551.9 L763.3,545.1 L759.9,546.0Z"/>
<path d="M760.3,555.2 L770.3,563.4 L766.9,564.9 L770.4,572.6 L767.0,574.2 L763.5,566.6 L760.1,568.1Z"/>
<path d="M759.5,577.2 L770.1,584.5 L766.9,586.3 L771.1,593.6 L767.9,595.5 L763.7,588.2 L760.5,590.1Z"/>
<path d="M759.9,597.5 L770.3,606.1 L766.8,607.7 L770.9,616.6 L767.4,618.3 L763.2,609.4 L759.7,611.0Z"/>
<path d="M760.4,617.8 L770.5,627.7 L766.7,629.1 L770.5,639.7 L766.7,641.1 L762.8,630.5 L759.0,631.9Z"/>
<path d="M761.7,640.1 L770.5,650.3 L766.7,651.3 L769.3,660.8 L765.4,661.8 L762.9,652.3 L759.1,653.3Z"/>
<path d="M792.3,220.4 L799.1,213.4 L800.0,216.0 L801.2,215.6 L802.2,218.4 L801.1,218.8 L802.0,221.4Z"/>
<path d="M791.5,238.6 L801.6,237.1 L800.8,239.8 L802.9,240.5 L802.0,243.5 L799.8,242.8 L799.0,245.6Z"/>
<path d="M790.9,258.4 L801.9,259.2 L800.4,261.9 L803.9,263.9 L802.2,266.9 L798.7,264.8 L797.1,267.5Z"/>
<path d="M792.1,278.6 L802.5,282.2 L800.2,284.4 L803.1,287.3 L800.8,289.6 L797.9,286.7 L795.7,289.0Z"/>
<path d="M792.5,299.7 L802.5,304.3 L800.2,306.3 L802.8,309.4 L800.2,311.5 L797.6,308.4 L795.2,310.4Z"/>
<path d="M792.5,321.3 L802.5,325.9 L800.2,327.9 L802.8,331.0 L800.2,333.1 L797.6,330.0 L795.2,332.0Z"/>
<path d="M791.6,343.8 L802.3,346.5 L800.3,348.9 L803.4,351.5 L801.3,354.1 L798.2,351.5 L796.2,353.8Z"/>
<path d="M790.1,365.9 L801.7,366.8 L800.0,369.6 L804.8,372.4 L803.1,375.4 L798.3,372.7 L796.6,375.5Z"/>
<path d="M790.4,389.1 L801.4,388.0 L800.3,390.9 L804.2,392.3 L803.0,395.5 L799.2,394.1 L798.1,397.0Z"/>
<path d="M790.4,410.7 L801.4,409.6 L800.3,412.5 L804.2,413.9 L803.0,417.1 L799.2,415.7 L798.1,418.6Z"/>
<path d="M788.0,433.9 L799.5,429.6 L799.2,433.1 L806.1,433.7 L805.8,437.3 L798.9,436.7 L798.6,440.2Z"/>
<path d="M790.9,451.2 L802.2,454.0 L800.0,456.6 L804.3,460.1 L802.0,462.8 L797.8,459.2 L795.6,461.8Z"/>
<path d="M791.8,470.5 L802.5,476.5 L799.7,478.5 L803.7,484.2 L800.7,486.3 L796.7,480.6 L793.8,482.6Z"/>
<path d="M793.2,491.3 L802.7,499.1 L799.5,500.6 L802.5,506.9 L799.1,508.4 L796.2,502.1 L793.0,503.6Z"/>
<path d="M796.4,514.1 L802.0,523.6 L798.9,523.9 L799.3,527.9 L795.9,528.2 L795.6,524.2 L792.5,524.4Z"/>
<path d="M796.8,535.7 L801.9,545.5 L798.8,545.6 L798.9,549.6 L795.6,549.8 L795.4,545.7 L792.3,545.8Z"/>
<path d="M796.8,557.3 L801.9,567.1 L798.8,567.2 L798.9,571.2 L795.6,571.4 L795.4,567.3 L792.3,567.4Z"/>
<path d="M793.9,577.4 L802.7,586.0 L799.4,587.2 L801.8,593.7 L798.4,595.0 L796.0,588.4 L792.7,589.6Z"/>
<path d="M792.8,598.4 L802.8,606.6 L799.4,608.1 L802.9,615.8 L799.5,617.4 L796.0,609.8 L792.6,611.3Z"/>
<path d="M792.4,619.1 L802.8,627.7 L799.3,629.3 L803.4,638.2 L799.9,639.9 L795.7,631.0 L792.2,632.6Z"/>
<path d="M792.9,640.5 L802.9,649.6 L799.3,651.0 L803.0,660.2 L799.3,661.6 L795.6,652.5 L792.0,654.0Z"/>
<path d="M823.8,178.2 L830.4,170.0 L831.7,172.7 L834.5,171.3 L835.9,174.3 L833.1,175.6 L834.4,178.3Z"/>
<path d="M823.4,200.6 L829.6,191.5 L831.2,194.2 L834.7,192.1 L836.4,195.1 L832.9,197.1 L834.4,199.8Z"/>
<path d="M823.7,217.1 L833.9,215.2 L833.2,218.0 L835.7,218.7 L834.9,221.8 L832.3,221.1 L831.6,223.9Z"/>
<path d="M823.4,236.8 L834.4,237.6 L832.9,240.3 L836.4,242.3 L834.7,245.3 L831.2,243.2 L829.6,245.9Z"/>
<path d="M823.4,258.4 L834.4,259.2 L832.9,261.9 L836.4,263.9 L834.7,266.9 L831.2,264.8 L829.6,267.5Z"/>
<path d="M825.0,278.1 L835.0,282.7 L832.7,284.7 L835.3,287.8 L832.7,289.9 L830.1,286.8 L827.7,288.8Z"/>
<path d="M822.7,296.4 L834.8,302.4 L831.8,304.8 L837.8,312.6 L834.7,315.0 L828.7,307.2 L825.6,309.6Z"/>
<path d="M823.2,317.7 L835.0,324.3 L831.8,326.5 L837.4,334.6 L834.2,336.8 L828.5,328.8 L825.4,331.0Z"/>
<path d="M823.8,342.6 L834.8,346.5 L832.5,348.8 L836.4,352.7 L833.9,355.2 L830.0,351.3 L827.7,353.6Z"/>
<path d="M823.7,368.3 L833.9,366.4 L833.2,369.2 L835.7,369.9 L834.9,373.0 L832.3,372.3 L831.6,375.1Z"/>
<path d="M823.4,388.0 L834.4,388.8 L832.9,391.5 L836.4,393.5 L834.7,396.5 L831.2,394.4 L829.6,397.1Z"/>
<path d="M823.4,409.6 L834.4,410.4 L832.9,413.1 L836.4,415.1 L834.7,418.1 L831.2,416.0 L829.6,418.7Z"/>
<path d="M820.5,433.9 L832.0,429.6 L831.7,433.1 L838.6,433.7 L838.3,437.3 L831.4,436.7 L831.1,440.2Z"/>
<path d="M821.0,453.2 L833.2,452.0 L832.0,455.3 L838.6,457.7 L837.3,461.1 L830.8,458.7 L829.6,462.0Z"/>
<path d="M824.3,470.5 L835.0,476.5 L832.2,478.5 L836.2,484.2 L833.2,486.3 L829.2,480.6 L826.3,482.6Z"/>
<path d="M826.1,491.2 L835.2,499.4 L832.0,500.7 L834.6,507.2 L831.2,508.5 L828.6,502.1 L825.3,503.4Z"/>
<path d="M828.3,514.2 L834.7,523.1 L831.7,523.7 L832.4,527.7 L829.1,528.3 L828.4,524.3 L825.3,524.8Z"/>
<path d="M828.3,535.8 L834.7,544.7 L831.7,545.3 L832.4,549.3 L829.1,549.9 L828.4,545.9 L825.3,546.4Z"/>
<path d="M827.3,558.2 L834.9,565.7 L832.1,566.7 L833.3,569.8 L830.2,571.0 L829.0,567.8 L826.2,568.8Z"/>
<path d="M825.5,580.2 L835.1,585.5 L832.5,587.3 L834.9,590.7 L832.1,592.6 L829.8,589.3 L827.3,591.0Z"/>
<path d="M825.0,602.1 L835.0,606.7 L832.7,608.7 L835.3,611.8 L832.7,613.9 L830.1,610.8 L827.7,612.8Z"/>
<path d="M824.9,622.5 L835.1,628.2 L832.4,630.1 L835.5,634.6 L832.7,636.7 L829.5,632.1 L826.8,634.0Z"/>
<path d="M826.1,643.4 L835.1,650.8 L832.1,652.2 L834.5,657.2 L831.3,658.7 L829.0,653.7 L826.0,655.1Z"/>
<path d="M856.7,157.1 L862.4,148.3 L863.9,150.8 L866.4,149.3 L868.1,152.0 L865.6,153.6 L867.2,156.1Z"/>
<path d="M856.3,179.5 L861.6,169.9 L863.4,172.5 L866.8,170.1 L868.7,172.9 L865.4,175.2 L867.1,177.7Z"/>
<path d="M856.7,200.8 L861.9,191.5 L863.6,194.0 L866.4,192.0 L868.3,194.7 L865.5,196.6 L867.2,199.1Z"/>
<path d="M857.0,218.3 L866.2,214.8 L865.9,217.5 L867.1,217.6 L866.8,220.7 L865.7,220.6 L865.4,223.3Z"/>
<path d="M856.8,237.3 L867.2,238.1 L865.7,240.6 L868.0,241.9 L866.4,244.7 L864.1,243.4 L862.6,245.9Z"/>
<path d="M855.9,258.4 L866.9,259.2 L865.4,261.9 L868.9,263.9 L867.2,266.9 L863.7,264.8 L862.1,267.5Z"/>
<path d="M857.1,278.6 L867.5,282.2 L865.2,284.4 L868.1,287.3 L865.8,289.6 L862.9,286.7 L860.7,289.0Z"/>
<path d="M855.1,301.1 L866.7,302.0 L865.0,304.8 L869.8,307.6 L868.1,310.6 L863.3,307.9 L861.6,310.7Z"/>
<path d="M856.3,318.5 L867.5,324.8 L864.5,326.9 L869.3,333.8 L866.2,336.0 L861.4,329.1 L858.3,331.2Z"/>
<path d="M855.6,341.9 L867.2,346.0 L864.7,348.5 L869.7,353.4 L867.1,356.0 L862.2,351.0 L859.7,353.5Z"/>
<path d="M855.9,366.4 L866.9,367.2 L865.4,369.9 L868.9,371.9 L867.2,374.9 L863.7,372.8 L862.1,375.5Z"/>
<path d="M855.9,388.0 L866.9,388.8 L865.4,391.5 L868.9,393.5 L867.2,396.5 L863.7,394.4 L862.1,397.1Z"/>
<path d="M853.3,410.8 L865.3,408.5 L864.4,411.9 L871.2,413.7 L870.2,417.2 L863.5,415.4 L862.6,418.8Z"/>
<path d="M854.0,434.4 L864.7,429.7 L864.5,433.0 L870.1,433.2 L869.9,436.7 L864.4,436.5 L864.3,439.8Z"/>
<path d="M854.1,454.9 L865.3,451.7 L864.7,455.0 L870.2,456.0 L869.6,459.4 L864.1,458.5 L863.6,461.7Z"/>
<path d="M855.6,471.5 L867.2,475.6 L864.7,478.1 L869.7,483.0 L867.1,485.6 L862.2,480.6 L859.7,483.1Z"/>
<path d="M859.6,492.9 L867.5,500.6 L864.6,501.7 L866.0,505.5 L862.8,506.7 L861.4,502.8 L858.5,503.9Z"/>
<path d="M861.5,515.1 L866.8,524.1 L863.9,524.3 L864.1,526.9 L860.9,527.2 L860.7,524.6 L857.8,524.8Z"/>
<path d="M861.8,536.7 L866.6,545.9 L863.7,546.0 L863.8,548.6 L860.6,548.8 L860.5,546.1 L857.6,546.2Z"/>
<path d="M859.9,558.7 L867.4,565.9 L864.7,566.9 L865.6,569.4 L862.5,570.5 L861.6,568.0 L858.9,569.0Z"/>
<path d="M858.0,580.2 L867.6,585.5 L865.0,587.3 L867.4,590.7 L864.6,592.6 L862.3,589.3 L859.8,591.0Z"/>
<path d="M858.1,602.9 L867.6,607.2 L865.4,609.0 L867.1,611.1 L864.6,613.1 L862.9,611.1 L860.7,613.0Z"/>
<path d="M859.0,623.9 L867.6,629.7 L865.1,631.2 L866.4,633.5 L863.6,635.1 L862.3,632.8 L859.8,634.3Z"/>
<path d="M859.5,645.3 L867.5,651.8 L864.9,653.1 L866.0,655.5 L863.1,656.8 L862.0,654.4 L859.3,655.7Z"/>
<path d="M889.8,135.3 L895.1,126.7 L896.6,129.1 L898.4,128.0 L900.0,130.6 L898.3,131.7 L899.9,134.1Z"/>
<path d="M889.6,157.3 L894.7,148.3 L896.3,150.7 L898.5,149.1 L900.3,151.8 L898.2,153.3 L899.8,155.7Z"/>
<path d="M890.0,178.7 L894.9,169.9 L896.5,172.2 L898.1,171.1 L899.9,173.6 L898.3,174.7 L899.9,177.0Z"/>
<path d="M898.0,192.4 L890.6,197.8 L899.4,200.3 L898.4,196.4Z" stroke="#4D4D4D" stroke-width="0.9" stroke-linejoin="miter"/>
<path d="M899.0,214.9 L891.0,218.7 L899.0,222.5 L898.0,218.7Z" stroke="#4D4D4D" stroke-width="0.9" stroke-linejoin="miter"/>
<path d="M899.8,237.5 L891.5,239.8 L898.5,244.8 L897.5,240.8Z" stroke="#4D4D4D" stroke-width="0.9" stroke-linejoin="miter"/>
<path d="M889.3,258.9 L899.7,259.7 L898.2,262.2 L900.5,263.5 L898.9,266.3 L896.6,265.0 L895.1,267.5Z"/>
<path d="M889.6,278.6 L900.0,282.2 L897.7,284.4 L900.6,287.3 L898.3,289.6 L895.4,286.7 L893.2,289.0Z"/>
<path d="M889.3,297.7 L900.0,303.7 L897.2,305.7 L901.2,311.4 L898.2,313.5 L894.2,307.8 L891.3,309.8Z"/>
<path d="M889.0,317.2 L900.2,324.8 L896.8,326.7 L901.7,335.2 L898.3,337.2 L893.4,328.7 L890.0,330.6Z"/>
<path d="M888.1,341.9 L899.7,346.0 L897.2,348.5 L902.2,353.4 L899.6,356.0 L894.7,351.0 L892.2,353.5Z"/>
<path d="M888.8,365.9 L899.6,367.7 L897.9,370.2 L901.2,372.5 L899.3,375.3 L895.9,372.9 L894.1,375.5Z"/>
<path d="M889.6,388.1 L899.8,389.7 L898.2,392.1 L900.3,393.6 L898.5,396.3 L896.3,394.7 L894.7,397.1Z"/>
<path d="M884.5,412.2 L896.6,407.7 L896.3,411.3 L904.6,412.1 L904.3,415.9 L895.9,415.1 L895.6,418.8Z"/>
<path d="M884.5,434.7 L896.1,429.1 L896.1,432.8 L904.5,432.8 L904.5,436.6 L896.1,436.6 L896.1,440.3Z"/>
<path d="M884.0,455.9 L896.1,450.6 L895.9,454.4 L905.1,454.7 L904.9,458.6 L895.8,458.3 L895.7,462.1Z"/>
<path d="M888.4,472.8 L899.7,475.6 L897.5,478.2 L901.8,481.7 L899.5,484.4 L895.3,480.8 L893.1,483.4Z"/>
<path d="M892.7,492.7 L899.9,501.1 L896.9,501.9 L897.9,505.8 L894.7,506.7 L893.6,502.8 L890.6,503.6Z"/>
<path d="M893.9,514.1 L899.5,523.6 L896.4,523.9 L896.8,527.9 L893.4,528.2 L893.1,524.2 L890.0,524.4Z"/>
<path d="M893.9,536.2 L899.4,545.4 L896.4,545.7 L896.7,549.0 L893.4,549.3 L893.1,546.0 L890.1,546.2Z"/>
<path d="M893.1,556.4 L899.9,565.9 L896.7,566.4 L897.6,571.9 L894.2,572.5 L893.2,567.0 L889.9,567.6Z"/>
<path d="M891.8,578.4 L900.1,586.5 L897.0,587.6 L898.9,592.8 L895.6,594.0 L893.7,588.8 L890.6,590.0Z"/>
<path d="M892.0,602.1 L900.0,608.6 L897.4,609.9 L898.5,612.3 L895.6,613.6 L894.5,611.2 L891.8,612.5Z"/>
<path d="M898.2,633.8 L894.5,626.1 L890.8,633.8 L894.5,632.1Z" stroke="#4D4D4D" stroke-width="0.9" stroke-linejoin="miter"/>
<path d="M893.2,646.1 L899.6,653.3 L897.0,654.0 L897.2,654.9 L894.3,655.7 L894.1,654.9 L891.5,655.6Z"/>
<path d="M922.2,113.9 L927.4,105.1 L929.0,107.4 L930.9,106.2 L932.6,108.8 L930.8,110.1 L932.4,112.4Z"/>
<path d="M922.1,135.7 L927.2,126.7 L928.8,129.1 L931.0,127.5 L932.8,130.2 L930.7,131.7 L932.3,134.1Z"/>
<path d="M922.1,157.3 L927.2,148.3 L928.8,150.7 L931.0,149.1 L932.8,151.8 L930.7,153.3 L932.3,155.7Z"/>
<path d="M931.1,179.5 L927.0,171.0 L922.9,179.5 L927.0,180.0Z" stroke="#4D4D4D" stroke-width="0.9" stroke-linejoin="miter"/>
<path d="M932.1,193.7 L925.0,197.1 L932.1,200.5 L929.0,197.1Z" stroke="#4D4D4D" stroke-width="0.9" stroke-linejoin="miter"/>
<path d="M932.1,215.3 L925.0,218.7 L932.1,222.1 L929.0,218.7Z" stroke="#4D4D4D" stroke-width="0.9" stroke-linejoin="miter"/>
<path d="M932.1,236.9 L925.0,240.3 L932.1,243.7 L929.0,240.3Z" stroke="#4D4D4D" stroke-width="0.9" stroke-linejoin="miter"/>
<path d="M922.7,259.4 L932.4,260.1 L931.1,262.5 L932.1,263.1 L930.6,265.7 L929.5,265.1 L928.2,267.5Z"/>
<path d="M924.1,279.4 L932.7,284.2 L930.4,285.7 L931.1,286.7 L928.6,288.5 L927.9,287.5 L925.7,289.1Z"/>
<path d="M923.1,300.5 L932.6,304.8 L930.4,306.6 L932.1,308.7 L929.6,310.7 L927.9,308.7 L925.7,310.6Z"/>
<path d="M923.6,321.8 L932.6,326.9 L930.2,328.5 L931.8,330.7 L929.1,332.5 L927.6,330.4 L925.2,332.0Z"/>
<path d="M923.8,344.5 L932.7,348.5 L930.6,350.2 L931.4,351.1 L929.0,353.1 L928.3,352.2 L926.2,353.9Z"/>
<path d="M923.5,366.4 L932.7,369.6 L930.8,371.5 L931.6,372.4 L929.5,374.5 L928.6,373.7 L926.7,375.6Z"/>
<path d="M932.7,392.4 L924.4,387.8 L925.9,397.2 L929.6,395.2Z" stroke="#4D4D4D" stroke-width="0.9" stroke-linejoin="miter"/>
<path d="M920.4,410.7 L931.4,409.6 L930.3,412.5 L934.2,413.9 L933.0,417.1 L929.2,415.7 L928.1,418.6Z"/>
<path d="M918.0,433.9 L929.5,429.6 L929.2,433.1 L936.1,433.7 L935.8,437.3 L928.9,436.7 L928.6,440.2Z"/>
<path d="M917.2,454.6 L929.5,451.1 L928.9,454.7 L937.2,456.2 L936.5,459.9 L928.2,458.4 L927.6,462.1Z"/>
<path d="M920.4,473.3 L931.9,475.2 L930.0,477.9 L934.6,481.1 L932.5,483.9 L928.0,480.8 L926.1,483.5Z"/>
<path d="M924.6,492.9 L932.5,500.6 L929.6,501.7 L931.0,505.5 L927.8,506.7 L926.4,502.8 L923.5,503.9Z"/>
<path d="M925.4,512.2 L932.6,522.2 L929.2,522.8 L930.4,529.6 L926.8,530.3 L925.6,523.4 L922.1,524.0Z"/>
<path d="M926.7,533.7 L932.4,544.6 L928.9,544.7 L929.1,551.6 L925.5,551.8 L925.2,544.8 L921.7,544.9Z"/>
<path d="M927.0,555.3 L932.3,566.3 L928.8,566.3 L928.8,573.3 L925.2,573.3 L925.2,566.3 L921.7,566.3Z"/>
<path d="M925.3,576.1 L932.8,586.5 L929.1,587.1 L930.6,595.4 L926.9,596.1 L925.4,587.8 L921.8,588.4Z"/>
<path d="M922.5,596.4 L933.0,605.9 L929.2,607.4 L933.4,617.9 L929.6,619.4 L925.4,608.9 L921.6,610.5Z"/>
<path d="M923.3,619.8 L932.8,628.5 L929.4,629.9 L932.5,637.7 L929.0,639.1 L925.8,631.3 L922.4,632.7Z"/>
<path d="M924.9,645.1 L932.4,652.3 L929.7,653.3 L930.6,655.8 L927.5,656.9 L926.6,654.4 L923.9,655.4Z"/>
<path d="M921.7,675.1 L930.0,672.8 L923.0,667.8 L924.0,671.8Z" stroke="#4D4D4D" stroke-width="0.9" stroke-linejoin="miter"/>
<path d="M954.6,114.1 L959.7,105.1 L961.3,107.5 L963.5,105.9 L965.3,108.6 L963.2,110.1 L964.8,112.5Z"/>
<path d="M954.6,135.7 L959.7,126.7 L961.3,129.1 L963.5,127.5 L965.3,130.2 L963.2,131.7 L964.8,134.1Z"/>
<path d="M955.6,157.8 L958.9,148.3 L960.9,150.3 L962.3,148.9 L964.5,151.1 L963.1,152.5 L965.1,154.5Z"/>
<path d="M957.9,170.0 L957.2,179.4 L965.1,174.1 L961.8,171.6Z" stroke="#4D4D4D" stroke-width="0.9" stroke-linejoin="miter"/>
<path d="M963.5,192.6 L956.5,197.6 L964.8,199.9 L962.5,196.6Z" stroke="#4D4D4D" stroke-width="0.9" stroke-linejoin="miter"/>
<path d="M964.5,215.2 L957.2,218.7 L964.5,222.2 L961.8,218.7Z" stroke="#4D4D4D" stroke-width="0.9" stroke-linejoin="miter"/>
<path d="M964.6,236.9 L957.5,240.3 L964.6,243.7 L961.5,240.3Z" stroke="#4D4D4D" stroke-width="0.9" stroke-linejoin="miter"/>
<path d="M964.6,258.9 L956.1,261.3 L963.2,266.5 L962.9,262.5Z" stroke="#4D4D4D" stroke-width="0.9" stroke-linejoin="miter"/>
<path d="M965.6,284.7 L958.1,282.1 L960.7,289.6 L960.9,284.9Z" stroke="#4D4D4D" stroke-width="0.9" stroke-linejoin="miter"/>
<path d="M964.5,308.7 L958.8,303.2 L958.0,311.1 L960.2,307.0Z" stroke="#4D4D4D" stroke-width="0.9" stroke-linejoin="miter"/>
<path d="M963.4,331.5 L959.3,324.7 L956.5,332.1 L959.7,328.7Z" stroke="#4D4D4D" stroke-width="0.9" stroke-linejoin="miter"/>
<path d="M965.4,348.7 L957.0,345.8 L959.9,354.2 L962.0,350.8Z" stroke="#4D4D4D" stroke-width="0.9" stroke-linejoin="miter"/>
<path d="M965.3,370.1 L956.7,367.1 L959.7,375.7 L962.3,372.7Z" stroke="#4D4D4D" stroke-width="0.9" stroke-linejoin="miter"/>
<path d="M955.7,388.3 L965.1,390.7 L963.4,392.8 L964.3,393.5 L962.3,395.9 L961.4,395.1 L959.7,397.2Z"/>
<path d="M953.6,410.4 L964.3,410.2 L963.0,412.9 L966.1,414.4 L964.7,417.3 L961.7,415.9 L960.4,418.6Z"/>
<path d="M950.1,433.1 L962.2,429.6 L961.6,433.2 L969.2,434.5 L968.5,438.2 L961.0,436.9 L960.3,440.4Z"/>
<path d="M945.0,456.3 L959.1,449.5 L959.1,454.1 L974.0,454.1 L974.0,458.5 L959.1,458.5 L959.1,463.1Z"/>
<path d="M948.0,477.5 L960.6,471.9 L960.5,475.9 L971.1,476.3 L970.9,480.3 L960.4,479.9 L960.2,483.9Z"/>
<path d="M956.0,496.0 L965.2,499.2 L963.3,501.1 L964.1,502.0 L962.0,504.1 L961.1,503.3 L959.2,505.2Z"/>
<path d="M965.3,520.0 L956.5,519.4 L961.4,526.7 L962.5,522.9Z" stroke="#4D4D4D" stroke-width="0.9" stroke-linejoin="miter"/>
<path d="M958.8,534.7 L964.8,544.7 L961.5,545.0 L961.9,550.5 L958.5,550.8 L958.0,545.3 L954.7,545.6Z"/>
<path d="M959.2,555.3 L964.9,566.2 L961.4,566.3 L961.6,573.2 L958.0,573.4 L957.7,566.4 L954.2,566.5Z"/>
<path d="M958.6,575.9 L965.2,587.0 L961.5,587.3 L962.3,595.7 L958.5,596.0 L957.7,587.7 L954.1,588.0Z"/>
<path d="M957.6,596.7 L965.5,607.6 L961.6,608.3 L963.4,618.0 L959.5,618.7 L957.8,609.0 L953.9,609.7Z"/>
<path d="M956.9,619.4 L965.3,629.2 L961.7,630.2 L963.9,638.3 L960.3,639.3 L958.1,631.1 L954.5,632.1Z"/>
<path d="M956.8,643.2 L965.1,651.3 L962.0,652.4 L963.9,657.6 L960.6,658.8 L958.7,653.6 L955.6,654.8Z"/>
<path d="M955.5,666.6 L965.1,671.9 L962.5,673.7 L964.9,677.1 L962.1,679.0 L959.8,675.7 L957.3,677.4Z"/>
<path d="M955.7,690.7 L965.1,693.1 L963.4,695.2 L964.3,695.9 L962.3,698.3 L961.4,697.5 L959.7,699.6Z"/>
<path d="M955.8,710.8 L959.5,718.5 L963.2,710.8 L959.5,712.5Z" stroke="#4D4D4D" stroke-width="0.9" stroke-linejoin="miter"/>
<path d="M959.6,730.6 L959.2,737.7 L965.0,733.7 L959.8,736.5Z" stroke="#4D4D4D" stroke-width="0.9" stroke-linejoin="miter"/>
<path d="M987.1,92.2 L992.6,83.5 L994.1,85.9 L996.1,84.7 L997.8,87.4 L995.8,88.6 L997.3,91.1Z"/>
<path d="M987.1,114.1 L992.2,105.1 L993.8,107.5 L996.0,105.9 L997.8,108.6 L995.7,110.1 L997.3,112.5Z"/>
<path d="M987.1,135.7 L992.2,126.7 L993.8,129.1 L996.0,127.5 L997.8,130.2 L995.7,131.7 L997.3,134.1Z"/>
<path d="M988.1,157.8 L991.4,148.3 L993.4,150.3 L994.8,148.9 L997.0,151.1 L995.6,152.5 L997.6,154.5Z"/>
<path d="M991.4,169.8 L989.1,178.9 L997.7,175.1 L994.9,172.1Z" stroke="#4D4D4D" stroke-width="0.9" stroke-linejoin="miter"/>
<path d="M994.9,192.0 L988.7,198.3 L997.5,199.2 L995.3,195.9Z" stroke="#4D4D4D" stroke-width="0.9" stroke-linejoin="miter"/>
<path d="M996.9,215.1 L989.5,218.7 L996.9,222.3 L994.5,218.7Z" stroke="#4D4D4D" stroke-width="0.9" stroke-linejoin="miter"/>
<path d="M997.1,236.9 L990.0,240.3 L997.1,243.7 L994.0,240.3Z" stroke="#4D4D4D" stroke-width="0.9" stroke-linejoin="miter"/>
<path d="M996.9,258.3 L989.5,261.9 L996.9,265.5 L994.5,261.9Z" stroke="#4D4D4D" stroke-width="0.9" stroke-linejoin="miter"/>
<path d="M998.0,282.0 L990.1,282.8 L995.6,288.5 L993.9,284.2Z" stroke="#4D4D4D" stroke-width="0.9" stroke-linejoin="miter"/>
<path d="M998.2,304.8 L990.5,304.2 L994.8,310.6 L993.5,306.0Z" stroke="#4D4D4D" stroke-width="0.9" stroke-linejoin="miter"/>
<path d="M992.3,332.9 L992.9,325.2 L986.5,329.5 L991.1,328.2Z" stroke="#4D4D4D" stroke-width="0.9" stroke-linejoin="miter"/>
<path d="M997.1,344.9 L990.0,348.3 L997.1,351.7 L994.0,348.3Z" stroke="#4D4D4D" stroke-width="0.9" stroke-linejoin="miter"/>
<path d="M996.6,366.3 L988.0,369.6 L995.9,374.2 L996.0,370.2Z" stroke="#4D4D4D" stroke-width="0.9" stroke-linejoin="miter"/>
<path d="M987.7,389.0 L997.4,389.7 L996.1,392.1 L997.1,392.7 L995.6,395.3 L994.5,394.7 L993.2,397.1Z"/>
<path d="M986.8,410.1 L997.2,410.9 L995.7,413.4 L998.0,414.7 L996.4,417.5 L994.1,416.2 L992.6,418.7Z"/>
<path d="M983.8,432.5 L995.5,430.3 L994.6,433.6 L1000.7,435.2 L999.7,438.6 L993.7,437.0 L992.8,440.3Z"/>
<path d="M981.0,455.3 L993.7,450.6 L993.3,454.4 L1003.1,455.3 L1002.8,459.2 L993.0,458.4 L992.6,462.2Z"/>
<path d="M984.1,476.5 L995.3,473.3 L994.7,476.6 L1000.2,477.6 L999.6,481.0 L994.1,480.1 L993.6,483.3Z"/>
<path d="M987.1,498.6 L996.5,496.0 L996.0,498.7 L997.2,498.9 L996.7,501.9 L995.5,501.7 L995.0,504.3Z"/>
<path d="M996.7,517.4 L989.0,521.1 L996.7,524.8 L995.0,521.1Z" stroke="#4D4D4D" stroke-width="0.9" stroke-linejoin="miter"/>
<path d="M997.1,545.6 L990.8,539.4 L989.9,548.2 L993.2,546.0Z" stroke="#4D4D4D" stroke-width="0.9" stroke-linejoin="miter"/>
<path d="M992.0,556.3 L997.1,566.8 L993.8,566.8 L993.8,572.3 L990.2,572.3 L990.2,566.8 L986.9,566.8Z"/>
<path d="M992.0,576.9 L997.3,587.9 L993.8,587.9 L993.8,594.9 L990.2,594.9 L990.2,587.9 L986.7,587.9Z"/>
<path d="M991.7,598.5 L997.4,609.4 L993.9,609.5 L994.1,616.4 L990.5,616.6 L990.2,609.6 L986.7,609.7Z"/>
<path d="M991.7,620.1 L997.4,631.0 L993.9,631.1 L994.1,638.0 L990.5,638.2 L990.2,631.2 L986.7,631.3Z"/>
<path d="M990.2,643.9 L997.4,652.3 L994.4,653.1 L995.4,657.0 L992.2,657.9 L991.1,654.0 L988.1,654.8Z"/>
<path d="M989.6,665.7 L997.5,673.4 L994.6,674.5 L996.0,678.3 L992.8,679.5 L991.4,675.6 L988.5,676.7Z"/>
<path d="M989.0,688.7 L997.6,694.5 L995.1,696.0 L996.4,698.3 L993.6,699.9 L992.3,697.6 L989.8,699.1Z"/>
<path d="M988.3,710.8 L992.0,718.5 L995.7,710.8 L992.0,712.5Z" stroke="#4D4D4D" stroke-width="0.9" stroke-linejoin="miter"/>
<path d="M995.7,741.8 L992.0,734.1 L988.3,741.8 L992.0,740.1Z" stroke="#4D4D4D" stroke-width="0.9" stroke-linejoin="miter"/>
<path d="M994.3,764.3 L992.6,756.2 L987.4,762.6 L991.4,761.2Z" stroke="#4D4D4D" stroke-width="0.9" stroke-linejoin="miter"/>
<path d="M1019.0,91.1 L1026.2,83.7 L1027.2,86.4 L1029.4,85.6 L1030.5,88.6 L1028.3,89.4 L1029.3,92.1Z"/>
<path d="M1018.9,112.8 L1026.1,105.3 L1027.1,108.0 L1029.6,107.1 L1030.7,110.2 L1028.2,111.1 L1029.2,113.8Z"/>
<path d="M1018.9,134.4 L1026.1,126.9 L1027.1,129.6 L1029.6,128.7 L1030.7,131.8 L1028.2,132.7 L1029.2,135.4Z"/>
<path d="M1019.6,154.8 L1027.5,149.1 L1028.0,151.7 L1029.2,151.5 L1029.7,154.5 L1028.5,154.7 L1029.0,157.4Z"/>
<path d="M1026.9,170.3 L1020.3,177.0 L1029.7,178.0 L1028.7,174.0Z" stroke="#4D4D4D" stroke-width="0.9" stroke-linejoin="miter"/>
<path d="M1028.0,192.4 L1020.6,197.8 L1029.4,200.3 L1028.4,196.4Z" stroke="#4D4D4D" stroke-width="0.9" stroke-linejoin="miter"/>
<path d="M1029.2,215.0 L1021.5,218.7 L1029.2,222.4 L1027.5,218.7Z" stroke="#4D4D4D" stroke-width="0.9" stroke-linejoin="miter"/>
<path d="M1029.6,236.9 L1022.5,240.3 L1029.6,243.7 L1026.5,240.3Z" stroke="#4D4D4D" stroke-width="0.9" stroke-linejoin="miter"/>
<path d="M1029.4,258.3 L1022.0,261.9 L1029.4,265.5 L1027.0,261.9Z" stroke="#4D4D4D" stroke-width="0.9" stroke-linejoin="miter"/>
<path d="M1029.7,280.1 L1022.8,283.5 L1029.7,286.9 L1026.2,283.5Z" stroke="#4D4D4D" stroke-width="0.9" stroke-linejoin="miter"/>
<path d="M1023.1,299.0 L1023.9,306.7 L1029.5,301.3 L1025.1,303.5Z" stroke="#4D4D4D" stroke-width="0.9" stroke-linejoin="miter"/>
<path d="M1019.0,323.9 L1025.4,328.2 L1024.8,320.5 L1023.6,325.2Z" stroke="#4D4D4D" stroke-width="0.9" stroke-linejoin="miter"/>
<path d="M1028.3,343.3 L1022.9,348.9 L1030.6,349.7 L1026.1,347.7Z" stroke="#4D4D4D" stroke-width="0.9" stroke-linejoin="miter"/>
<path d="M1030.5,368.4 L1022.6,369.2 L1028.1,374.9 L1026.4,370.6Z" stroke="#4D4D4D" stroke-width="0.9" stroke-linejoin="miter"/>
<path d="M1030.0,389.4 L1021.2,390.3 L1027.4,396.6 L1027.8,392.7Z" stroke="#4D4D4D" stroke-width="0.9" stroke-linejoin="miter"/>
<path d="M1020.2,410.6 L1029.9,411.3 L1028.6,413.7 L1029.6,414.3 L1028.1,416.9 L1027.0,416.3 L1025.7,418.7Z"/>
<path d="M1016.3,430.9 L1028.6,430.7 L1027.1,433.9 L1033.4,436.8 L1031.9,440.2 L1025.6,437.2 L1024.1,440.4Z"/>
<path d="M1014.5,451.7 L1028.0,451.5 L1026.4,455.0 L1035.3,459.2 L1033.6,462.7 L1024.7,458.6 L1023.1,462.1Z"/>
<path d="M1015.5,477.6 L1026.7,472.6 L1026.6,476.1 L1033.6,476.4 L1033.4,480.0 L1026.5,479.8 L1026.4,483.3Z"/>
<path d="M1018.5,499.0 L1028.2,495.3 L1028.0,498.2 L1030.6,498.4 L1030.3,501.6 L1027.7,501.4 L1027.5,504.3Z"/>
<path d="M1029.2,517.4 L1021.5,521.1 L1029.2,524.8 L1027.5,521.1Z" stroke="#4D4D4D" stroke-width="0.9" stroke-linejoin="miter"/>
<path d="M1026.9,548.2 L1025.3,539.8 L1019.7,546.3 L1023.7,545.6Z" stroke="#4D4D4D" stroke-width="0.9" stroke-linejoin="miter"/>
<path d="M1026.1,569.8 L1026.8,560.4 L1018.9,565.7 L1022.2,568.2Z" stroke="#4D4D4D" stroke-width="0.9" stroke-linejoin="miter"/>
<path d="M1025.0,579.9 L1028.7,589.6 L1025.8,589.4 L1025.6,592.0 L1022.4,591.7 L1022.6,589.1 L1019.7,588.9Z"/>
<path d="M1024.5,600.5 L1029.3,610.4 L1026.2,610.4 L1026.2,614.5 L1022.8,614.5 L1022.8,610.4 L1019.7,610.4Z"/>
<path d="M1024.5,621.1 L1029.6,631.6 L1026.2,631.6 L1026.2,637.1 L1022.8,637.1 L1022.8,631.6 L1019.4,631.6Z"/>
<path d="M1024.5,643.7 L1029.3,653.6 L1026.2,653.6 L1026.2,657.7 L1022.8,657.7 L1022.8,653.6 L1019.7,653.6Z"/>
<path d="M1024.5,665.3 L1029.3,675.2 L1026.2,675.2 L1026.2,679.3 L1022.8,679.3 L1022.8,675.2 L1019.7,675.2Z"/>
<path d="M1024.5,686.9 L1029.3,696.8 L1026.2,696.8 L1026.2,700.9 L1022.8,700.9 L1022.8,696.8 L1019.7,696.8Z"/>
<path d="M1024.5,709.5 L1029.0,718.9 L1026.1,718.9 L1026.1,721.5 L1022.9,721.5 L1022.9,718.9 L1020.0,718.9Z"/>
<path d="M1022.6,742.7 L1027.5,735.4 L1018.7,736.0 L1021.5,738.9Z" stroke="#4D4D4D" stroke-width="0.9" stroke-linejoin="miter"/>
<path d="M1020.0,762.5 L1028.0,758.7 L1020.0,754.9 L1021.0,758.7Z" stroke="#4D4D4D" stroke-width="0.9" stroke-linejoin="miter"/>
<path d="M1051.2,89.9 L1059.7,84.2 L1060.2,87.0 L1062.6,86.7 L1063.0,89.8 L1060.6,90.2 L1061.0,93.0Z"/>
<path d="M1051.0,111.2 L1060.0,105.9 L1060.2,108.8 L1062.8,108.6 L1063.1,111.8 L1060.5,112.0 L1060.7,114.9Z"/>
<path d="M1051.1,133.3 L1059.5,127.3 L1060.0,130.1 L1062.6,129.7 L1063.2,132.8 L1060.6,133.3 L1061.1,136.2Z"/>
<path d="M1052.0,154.3 L1060.4,149.3 L1060.7,152.0 L1061.8,151.9 L1062.1,155.0 L1060.9,155.1 L1061.2,157.8Z"/>
<path d="M1060.6,171.1 L1052.5,175.9 L1061.4,179.2 L1061.5,175.1Z" stroke="#4D4D4D" stroke-width="0.9" stroke-linejoin="miter"/>
<path d="M1061.5,193.3 L1053.5,197.1 L1061.5,200.9 L1060.5,197.1Z" stroke="#4D4D4D" stroke-width="0.9" stroke-linejoin="miter"/>
<path d="M1061.7,215.0 L1054.0,218.7 L1061.7,222.4 L1060.0,218.7Z" stroke="#4D4D4D" stroke-width="0.9" stroke-linejoin="miter"/>
<path d="M1061.7,236.6 L1054.0,240.3 L1061.7,244.0 L1060.0,240.3Z" stroke="#4D4D4D" stroke-width="0.9" stroke-linejoin="miter"/>
<path d="M1061.5,258.1 L1053.5,261.9 L1061.5,265.7 L1060.5,261.9Z" stroke="#4D4D4D" stroke-width="0.9" stroke-linejoin="miter"/>
<path d="M1062.1,280.1 L1055.0,283.5 L1062.1,286.9 L1059.0,283.5Z" stroke="#4D4D4D" stroke-width="0.9" stroke-linejoin="miter"/>
<path d="M1061.6,300.9 L1055.3,305.4 L1062.7,307.5 L1058.7,304.8Z" stroke="#4D4D4D" stroke-width="0.9" stroke-linejoin="miter"/>
<path d="M1055.6,320.6 L1056.4,328.3 L1062.0,322.9 L1057.6,325.1Z" stroke="#4D4D4D" stroke-width="0.9" stroke-linejoin="miter"/>
<path d="M1061.6,344.1 L1055.3,348.6 L1062.7,350.7 L1058.7,348.0Z" stroke="#4D4D4D" stroke-width="0.9" stroke-linejoin="miter"/>
<path d="M1051.8,373.3 L1058.8,369.9 L1051.8,366.5 L1055.2,369.9Z" stroke="#4D4D4D" stroke-width="0.9" stroke-linejoin="miter"/>
<path d="M1062.1,388.1 L1055.0,391.5 L1062.1,394.9 L1059.0,391.5Z" stroke="#4D4D4D" stroke-width="0.9" stroke-linejoin="miter"/>
<path d="M1052.0,413.1 L1060.8,408.9 L1060.8,411.6 L1062.0,411.6 L1062.0,414.6 L1060.8,414.6 L1060.8,417.4Z"/>
<path d="M1049.0,434.7 L1059.5,429.6 L1059.5,433.0 L1065.0,433.0 L1065.0,436.5 L1059.5,436.5 L1059.5,439.8Z"/>
<path d="M1049.0,456.3 L1059.5,451.2 L1059.5,454.6 L1065.0,454.6 L1065.0,458.1 L1059.5,458.1 L1059.5,461.4Z"/>
<path d="M1049.0,477.9 L1059.5,472.8 L1059.5,476.2 L1065.0,476.2 L1065.0,479.7 L1059.5,479.7 L1059.5,483.0Z"/>
<path d="M1050.0,499.3 L1060.1,494.8 L1060.0,497.9 L1064.1,498.1 L1063.9,501.4 L1059.9,501.3 L1059.8,504.4Z"/>
<path d="M1051.4,519.0 L1061.7,518.0 L1060.7,520.7 L1063.2,521.6 L1062.1,524.7 L1059.6,523.8 L1058.6,526.5Z"/>
<path d="M1062.8,543.4 L1054.4,539.6 L1056.7,548.5 L1059.6,545.8Z" stroke="#4D4D4D" stroke-width="0.9" stroke-linejoin="miter"/>
<path d="M1062.8,565.2 L1054.8,561.6 L1056.9,570.2 L1059.2,567.0Z" stroke="#4D4D4D" stroke-width="0.9" stroke-linejoin="miter"/>
<path d="M1062.6,587.8 L1055.2,582.9 L1055.9,591.7 L1058.8,588.9Z" stroke="#4D4D4D" stroke-width="0.9" stroke-linejoin="miter"/>
<path d="M1061.6,611.2 L1056.4,604.1 L1054.0,612.6 L1057.6,610.9Z" stroke="#4D4D4D" stroke-width="0.9" stroke-linejoin="miter"/>
<path d="M1056.6,624.1 L1061.6,632.5 L1058.9,632.8 L1059.0,633.9 L1055.9,634.2 L1055.8,633.0 L1053.1,633.3Z"/>
<path d="M1057.0,644.7 L1061.5,654.1 L1058.6,654.1 L1058.6,656.7 L1055.4,656.7 L1055.4,654.1 L1052.5,654.1Z"/>
<path d="M1059.9,667.2 L1053.7,673.5 L1062.5,674.4 L1060.3,671.1Z" stroke="#4D4D4D" stroke-width="0.9" stroke-linejoin="miter"/>
<path d="M1057.0,686.9 L1061.8,696.8 L1058.7,696.8 L1058.7,700.9 L1055.3,700.9 L1055.3,696.8 L1052.2,696.8Z"/>
<path d="M1057.0,707.5 L1062.1,718.0 L1058.8,718.0 L1058.8,723.5 L1055.2,723.5 L1055.2,718.0 L1051.9,718.0Z"/>
<path d="M1057.0,728.1 L1062.3,739.1 L1058.8,739.1 L1058.8,746.1 L1055.2,746.1 L1055.2,739.1 L1051.7,739.1Z"/>
<path d="M1057.0,749.7 L1062.3,760.7 L1058.8,760.7 L1058.8,767.7 L1055.2,767.7 L1055.2,760.7 L1051.7,760.7Z"/>
<path d="M1057.0,771.3 L1062.3,782.3 L1058.8,782.3 L1058.8,789.3 L1055.2,789.3 L1055.2,782.3 L1051.7,782.3Z"/>
<path d="M1083.4,90.1 L1092.0,84.1 L1092.5,87.0 L1095.3,86.5 L1095.8,89.7 L1093.0,90.2 L1093.5,93.1Z"/>
<path d="M1083.1,111.8 L1091.8,105.6 L1092.3,108.5 L1095.6,108.0 L1096.2,111.2 L1092.9,111.8 L1093.4,114.7Z"/>
<path d="M1083.1,133.4 L1091.8,127.2 L1092.3,130.1 L1095.6,129.6 L1096.2,132.8 L1092.9,133.4 L1093.4,136.3Z"/>
<path d="M1084.5,154.3 L1092.9,149.3 L1093.2,152.0 L1094.3,151.9 L1094.6,155.0 L1093.4,155.1 L1093.7,157.8Z"/>
<path d="M1093.7,171.5 L1085.5,175.5 L1093.7,179.5 L1093.5,175.5Z" stroke="#4D4D4D" stroke-width="0.9" stroke-linejoin="miter"/>
<path d="M1094.4,193.5 L1087.0,197.1 L1094.4,200.7 L1092.0,197.1Z" stroke="#4D4D4D" stroke-width="0.9" stroke-linejoin="miter"/>
<path d="M1093.6,214.5 L1086.0,219.0 L1094.3,222.1 L1093.0,218.4Z" stroke="#4D4D4D" stroke-width="0.9" stroke-linejoin="miter"/>
<path d="M1092.8,235.4 L1086.1,241.2 L1094.8,242.9 L1092.9,239.4Z" stroke="#4D4D4D" stroke-width="0.9" stroke-linejoin="miter"/>
<path d="M1093.8,257.8 L1086.5,262.2 L1094.5,265.2 L1092.5,261.6Z" stroke="#4D4D4D" stroke-width="0.9" stroke-linejoin="miter"/>
<path d="M1094.4,279.9 L1087.0,283.5 L1094.4,287.1 L1092.0,283.5Z" stroke="#4D4D4D" stroke-width="0.9" stroke-linejoin="miter"/>
<path d="M1094.6,301.7 L1087.5,305.1 L1094.6,308.5 L1091.5,305.1Z" stroke="#4D4D4D" stroke-width="0.9" stroke-linejoin="miter"/>
<path d="M1094.1,322.5 L1087.8,327.0 L1095.2,329.1 L1091.2,326.4Z" stroke="#4D4D4D" stroke-width="0.9" stroke-linejoin="miter"/>
<path d="M1094.7,344.9 L1087.8,348.3 L1094.7,351.7 L1091.2,348.3Z" stroke="#4D4D4D" stroke-width="0.9" stroke-linejoin="miter"/>
<path d="M1094.4,366.1 L1087.8,370.1 L1095.0,372.8 L1091.2,369.7Z" stroke="#4D4D4D" stroke-width="0.9" stroke-linejoin="miter"/>
<path d="M1094.6,388.1 L1087.5,391.5 L1094.6,394.9 L1091.5,391.5Z" stroke="#4D4D4D" stroke-width="0.9" stroke-linejoin="miter"/>
<path d="M1093.7,409.1 L1085.5,413.1 L1093.7,417.1 L1093.5,413.1Z" stroke="#4D4D4D" stroke-width="0.9" stroke-linejoin="miter"/>
<path d="M1081.5,435.4 L1091.5,429.4 L1091.8,432.7 L1097.3,432.3 L1097.6,435.7 L1092.1,436.2 L1092.4,439.5Z"/>
<path d="M1078.7,458.2 L1089.6,450.3 L1090.3,454.2 L1100.0,452.4 L1100.7,456.3 L1091.0,458.0 L1091.7,461.9Z"/>
<path d="M1078.5,478.9 L1090.1,472.0 L1090.5,475.8 L1100.3,475.0 L1100.6,478.9 L1090.8,479.8 L1091.2,483.6Z"/>
<path d="M1079.5,499.5 L1091.1,493.9 L1091.1,497.6 L1099.5,497.6 L1099.5,501.4 L1091.1,501.4 L1091.1,505.1Z"/>
<path d="M1082.6,519.9 L1093.2,516.9 L1092.7,520.0 L1096.7,520.7 L1096.1,524.0 L1092.1,523.3 L1091.5,526.3Z"/>
<path d="M1095.3,542.9 L1086.7,539.9 L1089.7,548.5 L1092.3,545.5Z" stroke="#4D4D4D" stroke-width="0.9" stroke-linejoin="miter"/>
<path d="M1095.3,564.5 L1086.7,561.5 L1089.7,570.1 L1092.3,567.1Z" stroke="#4D4D4D" stroke-width="0.9" stroke-linejoin="miter"/>
<path d="M1095.3,586.1 L1086.7,583.1 L1089.7,591.7 L1092.3,588.7Z" stroke="#4D4D4D" stroke-width="0.9" stroke-linejoin="miter"/>
<path d="M1095.3,608.4 L1087.3,604.8 L1089.4,613.4 L1091.7,610.2Z" stroke="#4D4D4D" stroke-width="0.9" stroke-linejoin="miter"/>
<path d="M1095.1,631.0 L1087.8,626.1 L1088.4,634.9 L1091.2,632.1Z" stroke="#4D4D4D" stroke-width="0.9" stroke-linejoin="miter"/>
<path d="M1094.2,654.2 L1088.8,646.8 L1086.3,655.6 L1090.2,654.6Z" stroke="#4D4D4D" stroke-width="0.9" stroke-linejoin="miter"/>
<path d="M1092.1,667.1 L1085.7,673.7 L1094.8,674.6 L1093.3,670.9Z" stroke="#4D4D4D" stroke-width="0.9" stroke-linejoin="miter"/>
<path d="M1094.0,690.1 L1086.0,693.9 L1094.0,697.7 L1093.0,693.9Z" stroke="#4D4D4D" stroke-width="0.9" stroke-linejoin="miter"/>
<path d="M1093.8,719.4 L1089.2,711.5 L1085.9,720.1 L1089.8,719.5Z" stroke="#4D4D4D" stroke-width="0.9" stroke-linejoin="miter"/>
<path d="M1089.5,730.1 L1094.3,740.0 L1091.2,740.0 L1091.2,744.1 L1087.8,744.1 L1087.8,740.0 L1084.7,740.0Z"/>
<path d="M1089.5,751.7 L1094.3,761.6 L1091.2,761.6 L1091.2,765.7 L1087.8,765.7 L1087.8,761.6 L1084.7,761.6Z"/>
<path d="M1089.5,773.3 L1094.3,783.2 L1091.2,783.2 L1091.2,787.3 L1087.8,787.3 L1087.8,783.2 L1084.7,783.2Z"/>
<path d="M1089.5,794.9 L1094.3,804.8 L1091.2,804.8 L1091.2,808.9 L1087.8,808.9 L1087.8,804.8 L1084.7,804.8Z"/>
<path d="M1116.1,89.7 L1124.9,84.3 L1125.2,87.2 L1127.7,86.9 L1128.0,90.1 L1125.5,90.4 L1125.8,93.2Z"/>
<path d="M1116.0,111.2 L1125.0,105.9 L1125.2,108.8 L1127.8,108.6 L1128.1,111.8 L1125.5,112.0 L1125.7,114.9Z"/>
<path d="M1116.1,133.3 L1124.5,127.3 L1125.0,130.1 L1127.6,129.7 L1128.2,132.8 L1125.6,133.3 L1126.1,136.2Z"/>
<path d="M1125.6,149.5 L1117.5,154.3 L1126.4,157.6 L1126.5,153.5Z" stroke="#4D4D4D" stroke-width="0.9" stroke-linejoin="miter"/>
<path d="M1126.1,171.3 L1118.5,175.8 L1126.8,178.9 L1125.5,175.2Z" stroke="#4D4D4D" stroke-width="0.9" stroke-linejoin="miter"/>
<path d="M1127.1,193.7 L1120.0,197.1 L1127.1,200.5 L1124.0,197.1Z" stroke="#4D4D4D" stroke-width="0.9" stroke-linejoin="miter"/>
<path d="M1127.1,215.3 L1120.0,218.7 L1127.1,222.1 L1124.0,218.7Z" stroke="#4D4D4D" stroke-width="0.9" stroke-linejoin="miter"/>
<path d="M1127.1,236.9 L1120.0,240.3 L1127.1,243.7 L1124.0,240.3Z" stroke="#4D4D4D" stroke-width="0.9" stroke-linejoin="miter"/>
<path d="M1126.9,258.3 L1119.5,261.9 L1126.9,265.5 L1124.5,261.9Z" stroke="#4D4D4D" stroke-width="0.9" stroke-linejoin="miter"/>
<path d="M1126.7,279.8 L1119.0,283.5 L1126.7,287.2 L1125.0,283.5Z" stroke="#4D4D4D" stroke-width="0.9" stroke-linejoin="miter"/>
<path d="M1127.1,301.7 L1120.0,305.1 L1127.1,308.5 L1124.0,305.1Z" stroke="#4D4D4D" stroke-width="0.9" stroke-linejoin="miter"/>
<path d="M1127.2,323.3 L1120.2,326.7 L1127.2,330.1 L1123.8,326.7Z" stroke="#4D4D4D" stroke-width="0.9" stroke-linejoin="miter"/>
<path d="M1127.1,344.9 L1120.0,348.3 L1127.1,351.7 L1124.0,348.3Z" stroke="#4D4D4D" stroke-width="0.9" stroke-linejoin="miter"/>
<path d="M1126.9,366.3 L1119.5,369.9 L1126.9,373.5 L1124.5,369.9Z" stroke="#4D4D4D" stroke-width="0.9" stroke-linejoin="miter"/>
<path d="M1126.3,387.4 L1119.0,391.8 L1127.0,394.8 L1125.0,391.2Z" stroke="#4D4D4D" stroke-width="0.9" stroke-linejoin="miter"/>
<path d="M1126.2,409.1 L1118.0,413.1 L1126.2,417.1 L1126.0,413.1Z" stroke="#4D4D4D" stroke-width="0.9" stroke-linejoin="miter"/>
<path d="M1116.0,434.7 L1125.4,430.2 L1125.4,433.1 L1128.0,433.1 L1128.0,436.3 L1125.4,436.3 L1125.4,439.2Z"/>
<path d="M1114.0,457.0 L1124.0,451.0 L1124.3,454.3 L1129.8,453.9 L1130.1,457.3 L1124.6,457.8 L1124.9,461.1Z"/>
<path d="M1115.0,477.9 L1124.9,473.1 L1124.9,476.2 L1129.0,476.2 L1129.0,479.6 L1124.9,479.6 L1124.9,482.7Z"/>
<path d="M1115.0,498.9 L1125.3,495.0 L1125.1,498.1 L1129.1,498.4 L1128.8,501.8 L1124.8,501.4 L1124.5,504.5Z"/>
<path d="M1116.0,520.6 L1125.7,516.9 L1125.5,519.8 L1128.1,520.0 L1127.8,523.2 L1125.2,523.0 L1125.0,525.9Z"/>
<path d="M1115.9,539.2 L1126.9,540.0 L1125.4,542.7 L1128.9,544.7 L1127.2,547.7 L1123.7,545.6 L1122.1,548.3Z"/>
<path d="M1118.2,561.1 L1127.6,563.5 L1125.9,565.6 L1126.8,566.3 L1124.8,568.7 L1123.9,567.9 L1122.2,570.0Z"/>
<path d="M1118.2,582.7 L1127.6,585.1 L1125.9,587.2 L1126.8,587.9 L1124.8,590.3 L1123.9,589.5 L1122.2,591.6Z"/>
<path d="M1127.8,607.2 L1118.9,604.9 L1122.7,613.3 L1125.1,610.1Z" stroke="#4D4D4D" stroke-width="0.9" stroke-linejoin="miter"/>
<path d="M1127.8,630.0 L1119.8,626.4 L1121.9,635.0 L1124.2,631.8Z" stroke="#4D4D4D" stroke-width="0.9" stroke-linejoin="miter"/>
<path d="M1127.6,652.9 L1120.5,648.1 L1121.1,656.6 L1123.5,653.3Z" stroke="#4D4D4D" stroke-width="0.9" stroke-linejoin="miter"/>
<path d="M1123.9,666.7 L1119.0,674.1 L1127.8,673.4 L1125.0,670.6Z" stroke="#4D4D4D" stroke-width="0.9" stroke-linejoin="miter"/>
<path d="M1118.4,698.9 L1123.9,693.2 L1116.0,692.4 L1120.1,694.6Z" stroke="#4D4D4D" stroke-width="0.9" stroke-linejoin="miter"/>
<path d="M1118.2,720.2 L1124.4,714.9 L1116.3,713.3 L1119.6,716.1Z" stroke="#4D4D4D" stroke-width="0.9" stroke-linejoin="miter"/>
<path d="M1118.6,742.1 L1124.3,736.2 L1116.2,735.4 L1119.7,738.0Z" stroke="#4D4D4D" stroke-width="0.9" stroke-linejoin="miter"/>
<path d="M1126.1,762.7 L1122.0,754.2 L1117.9,762.7 L1122.0,763.2Z" stroke="#4D4D4D" stroke-width="0.9" stroke-linejoin="miter"/>
<path d="M1122.0,774.3 L1126.5,783.7 L1123.6,783.7 L1123.6,786.3 L1120.4,786.3 L1120.4,783.7 L1117.5,783.7Z"/>
<path d="M1122.0,794.9 L1126.8,804.8 L1123.7,804.8 L1123.7,808.9 L1120.3,808.9 L1120.3,804.8 L1117.2,804.8Z"/>
<path d="M1122.0,816.5 L1126.8,826.4 L1123.7,826.4 L1123.7,830.5 L1120.3,830.5 L1120.3,826.4 L1117.2,826.4Z"/>
<path d="M1122.0,903.0 L1126.8,912.9 L1123.7,912.9 L1123.6,916.8 L1120.3,916.8 L1120.3,912.8 L1117.2,912.8Z"/>
<path d="M1122.0,924.7 L1126.7,934.5 L1123.7,934.5 L1123.6,938.3 L1120.3,938.3 L1120.3,934.5 L1117.3,934.5Z"/>
<path d="M1148.4,89.5 L1157.5,84.3 L1157.7,87.3 L1160.5,87.1 L1160.7,90.3 L1157.9,90.5 L1158.1,93.4Z"/>
<path d="M1148.0,111.3 L1157.2,105.8 L1157.5,108.8 L1160.8,108.5 L1161.1,111.8 L1157.8,112.1 L1158.0,115.1Z"/>
<path d="M1148.5,132.8 L1157.5,127.5 L1157.7,130.4 L1160.3,130.2 L1160.6,133.4 L1158.0,133.6 L1158.2,136.5Z"/>
<path d="M1158.1,149.5 L1150.0,154.3 L1158.9,157.6 L1159.0,153.5Z" stroke="#4D4D4D" stroke-width="0.9" stroke-linejoin="miter"/>
<path d="M1158.4,171.2 L1150.5,175.8 L1159.1,179.1 L1158.5,175.2Z" stroke="#4D4D4D" stroke-width="0.9" stroke-linejoin="miter"/>
<path d="M1159.6,193.7 L1152.5,197.1 L1159.6,200.5 L1156.5,197.1Z" stroke="#4D4D4D" stroke-width="0.9" stroke-linejoin="miter"/>
<path d="M1160.3,217.0 L1152.2,217.8 L1157.9,223.7 L1156.8,219.6Z" stroke="#4D4D4D" stroke-width="0.9" stroke-linejoin="miter"/>
<path d="M1158.8,244.7 L1154.2,238.3 L1152.0,245.9 L1154.8,242.3Z" stroke="#4D4D4D" stroke-width="0.9" stroke-linejoin="miter"/>
<path d="M1159.4,258.3 L1152.0,261.9 L1159.4,265.5 L1157.0,261.9Z" stroke="#4D4D4D" stroke-width="0.9" stroke-linejoin="miter"/>
<path d="M1159.6,280.1 L1152.5,283.5 L1159.6,286.9 L1156.5,283.5Z" stroke="#4D4D4D" stroke-width="0.9" stroke-linejoin="miter"/>
<path d="M1159.6,301.7 L1152.5,305.1 L1159.6,308.5 L1156.5,305.1Z" stroke="#4D4D4D" stroke-width="0.9" stroke-linejoin="miter"/>
<path d="M1159.7,323.3 L1152.8,326.7 L1159.7,330.1 L1156.2,326.7Z" stroke="#4D4D4D" stroke-width="0.9" stroke-linejoin="miter"/>
<path d="M1159.7,344.9 L1152.8,348.3 L1159.7,351.7 L1156.2,348.3Z" stroke="#4D4D4D" stroke-width="0.9" stroke-linejoin="miter"/>
<path d="M1159.6,366.5 L1152.5,369.9 L1159.6,373.3 L1156.5,369.9Z" stroke="#4D4D4D" stroke-width="0.9" stroke-linejoin="miter"/>
<path d="M1159.4,387.9 L1152.0,391.5 L1159.4,395.1 L1157.0,391.5Z" stroke="#4D4D4D" stroke-width="0.9" stroke-linejoin="miter"/>
<path d="M1158.7,409.1 L1150.5,413.1 L1158.7,417.1 L1158.5,413.1Z" stroke="#4D4D4D" stroke-width="0.9" stroke-linejoin="miter"/>
<path d="M1160.2,433.4 L1151.0,432.7 L1156.2,440.3 L1158.0,436.7Z" stroke="#4D4D4D" stroke-width="0.9" stroke-linejoin="miter"/>
<path d="M1160.1,458.0 L1152.5,452.8 L1153.2,462.0 L1156.5,459.8Z" stroke="#4D4D4D" stroke-width="0.9" stroke-linejoin="miter"/>
<path d="M1160.2,476.6 L1151.0,475.9 L1156.2,483.5 L1158.0,479.9Z" stroke="#4D4D4D" stroke-width="0.9" stroke-linejoin="miter"/>
<path d="M1159.2,496.1 L1150.1,498.7 L1157.7,504.3 L1158.9,500.3Z" stroke="#4D4D4D" stroke-width="0.9" stroke-linejoin="miter"/>
<path d="M1148.7,519.5 L1158.9,517.6 L1158.2,520.4 L1160.7,521.1 L1159.9,524.2 L1157.3,523.5 L1156.6,526.3Z"/>
<path d="M1148.4,539.2 L1159.4,540.0 L1157.9,542.7 L1161.4,544.7 L1159.7,547.7 L1156.2,545.6 L1154.6,548.3Z"/>
<path d="M1149.6,560.9 L1159.8,562.5 L1158.2,564.9 L1160.3,566.4 L1158.5,569.1 L1156.3,567.5 L1154.7,569.9Z"/>
<path d="M1149.6,582.5 L1159.8,584.1 L1158.2,586.5 L1160.3,588.0 L1158.5,590.7 L1156.3,589.1 L1154.7,591.5Z"/>
<path d="M1150.7,604.3 L1160.1,606.7 L1158.4,608.8 L1159.3,609.5 L1157.3,611.9 L1156.4,611.1 L1154.7,613.2Z"/>
<path d="M1160.2,630.5 L1152.5,626.2 L1153.9,635.0 L1156.5,632.0Z" stroke="#4D4D4D" stroke-width="0.9" stroke-linejoin="miter"/>
<path d="M1159.2,654.2 L1153.8,646.8 L1151.3,655.6 L1155.2,654.6Z" stroke="#4D4D4D" stroke-width="0.9" stroke-linejoin="miter"/>
<path d="M1158.7,668.3 L1150.5,672.3 L1158.7,676.3 L1158.5,672.3Z" stroke="#4D4D4D" stroke-width="0.9" stroke-linejoin="miter"/>
<path d="M1160.4,693.0 L1151.9,692.4 L1156.7,699.5 L1157.1,695.4Z" stroke="#4D4D4D" stroke-width="0.9" stroke-linejoin="miter"/>
<path d="M1159.5,719.1 L1153.8,713.6 L1153.0,721.5 L1155.2,717.4Z" stroke="#4D4D4D" stroke-width="0.9" stroke-linejoin="miter"/>
<path d="M1159.9,734.4 L1152.0,736.7 L1158.7,741.5 L1157.0,737.5Z" stroke="#4D4D4D" stroke-width="0.9" stroke-linejoin="miter"/>
<path d="M1159.2,762.2 L1153.8,754.8 L1151.3,763.6 L1155.2,762.6Z" stroke="#4D4D4D" stroke-width="0.9" stroke-linejoin="miter"/>
<path d="M1154.1,775.3 L1159.1,783.7 L1156.4,784.0 L1156.5,785.1 L1153.4,785.4 L1153.3,784.2 L1150.6,784.5Z"/>
<path d="M1154.5,794.9 L1159.3,804.8 L1156.2,804.8 L1156.2,808.9 L1152.8,808.9 L1152.8,804.8 L1149.7,804.8Z"/>
<path d="M1154.5,816.5 L1159.3,826.4 L1156.2,826.4 L1156.2,830.5 L1152.8,830.5 L1152.8,826.4 L1149.7,826.4Z"/>
<path d="M1154.7,880.8 L1159.4,891.1 L1156.1,891.0 L1156.0,895.9 L1152.6,895.8 L1152.7,890.9 L1149.5,890.8Z"/>
<path d="M1154.5,902.9 L1159.3,912.8 L1156.2,912.8 L1156.2,916.9 L1152.8,916.9 L1152.8,912.8 L1149.7,912.8Z"/>
<path d="M1181.0,88.6 L1190.7,84.8 L1190.5,87.8 L1193.2,88.0 L1192.9,91.2 L1190.2,91.0 L1190.0,93.9Z"/>
<path d="M1180.5,110.7 L1190.1,106.0 L1190.1,109.1 L1193.5,109.1 L1193.5,112.3 L1190.1,112.3 L1190.1,115.4Z"/>
<path d="M1180.5,132.3 L1190.1,127.6 L1190.1,130.7 L1193.5,130.7 L1193.5,133.9 L1190.1,133.9 L1190.1,137.0Z"/>
<path d="M1190.5,149.2 L1183.1,154.6 L1191.9,157.1 L1190.9,153.2Z" stroke="#4D4D4D" stroke-width="0.9" stroke-linejoin="miter"/>
<path d="M1189.6,170.3 L1183.2,176.9 L1192.3,177.8 L1190.8,174.1Z" stroke="#4D4D4D" stroke-width="0.9" stroke-linejoin="miter"/>
<path d="M1192.1,193.7 L1185.0,197.1 L1192.1,200.5 L1189.0,197.1Z" stroke="#4D4D4D" stroke-width="0.9" stroke-linejoin="miter"/>
<path d="M1191.9,215.1 L1184.5,218.7 L1191.9,222.3 L1189.5,218.7Z" stroke="#4D4D4D" stroke-width="0.9" stroke-linejoin="miter"/>
<path d="M1192.1,236.9 L1185.0,240.3 L1192.1,243.7 L1189.0,240.3Z" stroke="#4D4D4D" stroke-width="0.9" stroke-linejoin="miter"/>
<path d="M1191.2,266.5 L1186.7,260.2 L1184.6,267.6 L1187.3,263.6Z" stroke="#4D4D4D" stroke-width="0.9" stroke-linejoin="miter"/>
<path d="M1192.0,287.3 L1186.4,281.9 L1185.6,289.6 L1187.6,285.1Z" stroke="#4D4D4D" stroke-width="0.9" stroke-linejoin="miter"/>
<path d="M1192.5,307.9 L1186.1,303.6 L1186.7,311.3 L1187.9,306.6Z" stroke="#4D4D4D" stroke-width="0.9" stroke-linejoin="miter"/>
<path d="M1192.2,323.3 L1185.2,326.7 L1192.2,330.1 L1188.8,326.7Z" stroke="#4D4D4D" stroke-width="0.9" stroke-linejoin="miter"/>
<path d="M1192.2,344.9 L1185.2,348.3 L1192.2,351.7 L1188.8,348.3Z" stroke="#4D4D4D" stroke-width="0.9" stroke-linejoin="miter"/>
<path d="M1192.2,366.5 L1185.2,369.9 L1192.2,373.3 L1188.8,369.9Z" stroke="#4D4D4D" stroke-width="0.9" stroke-linejoin="miter"/>
<path d="M1190.6,386.5 L1185.1,392.2 L1193.0,393.0 L1188.9,390.8Z" stroke="#4D4D4D" stroke-width="0.9" stroke-linejoin="miter"/>
<path d="M1187.7,407.0 L1185.7,414.6 L1192.9,411.4 L1188.3,411.6Z" stroke="#4D4D4D" stroke-width="0.9" stroke-linejoin="miter"/>
<path d="M1185.5,428.7 L1186.3,436.6 L1192.0,431.1 L1187.7,432.8Z" stroke="#4D4D4D" stroke-width="0.9" stroke-linejoin="miter"/>
<path d="M1182.5,460.1 L1190.5,456.3 L1182.5,452.5 L1183.5,456.3Z" stroke="#4D4D4D" stroke-width="0.9" stroke-linejoin="miter"/>
<path d="M1181.0,478.5 L1189.2,479.2 L1184.5,472.4 L1184.8,476.7Z" stroke="#4D4D4D" stroke-width="0.9" stroke-linejoin="miter"/>
<path d="M1192.8,498.4 L1184.0,497.8 L1188.9,505.1 L1190.0,501.2Z" stroke="#4D4D4D" stroke-width="0.9" stroke-linejoin="miter"/>
<path d="M1182.3,519.4 L1192.0,518.4 L1191.1,521.0 L1192.2,521.4 L1191.2,524.2 L1190.0,523.8 L1189.1,526.4Z"/>
<path d="M1182.7,540.2 L1192.4,540.9 L1191.1,543.3 L1192.1,543.9 L1190.6,546.5 L1189.5,545.9 L1188.2,548.3Z"/>
<path d="M1182.7,561.8 L1192.4,562.5 L1191.1,564.9 L1192.1,565.5 L1190.6,568.1 L1189.5,567.5 L1188.2,569.9Z"/>
<path d="M1182.9,583.0 L1192.6,584.6 L1191.0,586.8 L1192.0,587.5 L1190.2,590.0 L1189.2,589.3 L1187.7,591.6Z"/>
<path d="M1192.7,606.9 L1183.6,604.6 L1187.4,613.2 L1190.4,610.4Z" stroke="#4D4D4D" stroke-width="0.9" stroke-linejoin="miter"/>
<path d="M1187.0,624.1 L1191.2,632.9 L1188.5,632.9 L1188.5,634.1 L1185.5,634.1 L1185.5,632.9 L1182.8,632.9Z"/>
<path d="M1187.0,644.7 L1191.5,654.1 L1188.6,654.1 L1188.6,656.7 L1185.4,656.7 L1185.4,654.1 L1182.5,654.1Z"/>
<path d="M1187.0,666.3 L1191.5,675.7 L1188.6,675.7 L1188.6,678.3 L1185.4,678.3 L1185.4,675.7 L1182.5,675.7Z"/>
<path d="M1187.0,687.9 L1191.5,697.3 L1188.6,697.3 L1188.6,699.9 L1185.4,699.9 L1185.4,697.3 L1182.5,697.3Z"/>
<path d="M1182.5,719.3 L1190.5,715.5 L1182.5,711.7 L1183.5,715.5Z" stroke="#4D4D4D" stroke-width="0.9" stroke-linejoin="miter"/>
<path d="M1182.5,740.9 L1190.5,737.1 L1182.5,733.3 L1183.5,737.1Z" stroke="#4D4D4D" stroke-width="0.9" stroke-linejoin="miter"/>
<path d="M1182.5,762.5 L1190.5,758.7 L1182.5,754.9 L1183.5,758.7Z" stroke="#4D4D4D" stroke-width="0.9" stroke-linejoin="miter"/>
<path d="M1187.0,774.3 L1191.5,783.7 L1188.6,783.7 L1188.6,786.3 L1185.4,786.3 L1185.4,783.7 L1182.5,783.7Z"/>
<path d="M1187.0,793.9 L1192.1,804.4 L1188.8,804.4 L1188.8,809.9 L1185.2,809.9 L1185.2,804.4 L1181.9,804.4Z"/>
<path d="M1187.0,814.5 L1192.3,825.5 L1188.8,825.5 L1188.8,832.5 L1185.2,832.5 L1185.2,825.5 L1181.7,825.5Z"/>
<path d="M1187.0,836.1 L1192.3,847.1 L1188.8,847.1 L1188.8,854.1 L1185.2,854.1 L1185.2,847.1 L1181.7,847.1Z"/>
<path d="M1187.0,857.7 L1192.3,868.7 L1188.8,868.7 L1188.8,875.7 L1185.2,875.7 L1185.2,868.7 L1181.7,868.7Z"/>
<path d="M1188.7,876.4 L1193.0,889.9 L1188.9,889.3 L1187.4,900.5 L1183.3,899.9 L1184.9,888.7 L1180.8,888.2Z"/>
<path d="M1191.0,914.1 L1187.0,905.9 L1183.0,914.1 L1187.0,913.9Z" stroke="#4D4D4D" stroke-width="0.9" stroke-linejoin="miter"/>
<path d="M1214.4,85.6 L1224.8,87.2 L1223.1,89.7 L1225.5,91.3 L1223.6,93.9 L1221.3,92.3 L1219.6,94.7Z"/>
<path d="M1213.9,107.4 L1224.5,108.2 L1223.0,110.9 L1225.9,112.5 L1224.3,115.4 L1221.4,113.7 L1219.9,116.3Z"/>
<path d="M1215.3,128.8 L1225.1,131.2 L1223.2,133.4 L1224.7,134.6 L1222.7,137.0 L1221.2,135.8 L1219.4,138.0Z"/>
<path d="M1225.3,153.6 L1216.4,151.3 L1220.2,159.7 L1222.6,156.5Z" stroke="#4D4D4D" stroke-width="0.9" stroke-linejoin="miter"/>
<path d="M1215.7,171.0 L1219.5,179.0 L1223.3,171.0 L1219.5,172.0Z" stroke="#4D4D4D" stroke-width="0.9" stroke-linejoin="miter"/>
<path d="M1215.7,192.6 L1219.5,200.6 L1223.3,192.6 L1219.5,193.6Z" stroke="#4D4D4D" stroke-width="0.9" stroke-linejoin="miter"/>
<path d="M1219.2,212.9 L1216.9,221.8 L1225.3,218.0 L1222.1,215.6Z" stroke="#4D4D4D" stroke-width="0.9" stroke-linejoin="miter"/>
<path d="M1216.7,235.0 L1219.0,243.3 L1224.0,236.3 L1220.0,237.3Z" stroke="#4D4D4D" stroke-width="0.9" stroke-linejoin="miter"/>
<path d="M1222.9,267.0 L1219.5,259.9 L1216.1,267.0 L1219.5,263.9Z" stroke="#4D4D4D" stroke-width="0.9" stroke-linejoin="miter"/>
<path d="M1223.8,287.9 L1219.2,281.5 L1217.0,289.1 L1219.8,285.5Z" stroke="#4D4D4D" stroke-width="0.9" stroke-linejoin="miter"/>
<path d="M1223.8,309.5 L1219.2,303.1 L1217.0,310.7 L1219.8,307.1Z" stroke="#4D4D4D" stroke-width="0.9" stroke-linejoin="miter"/>
<path d="M1225.7,326.4 L1218.0,325.8 L1222.3,332.2 L1221.0,327.6Z" stroke="#4D4D4D" stroke-width="0.9" stroke-linejoin="miter"/>
<path d="M1225.2,345.9 L1217.8,348.0 L1224.1,352.5 L1221.2,348.6Z" stroke="#4D4D4D" stroke-width="0.9" stroke-linejoin="miter"/>
<path d="M1224.7,366.5 L1217.8,369.9 L1224.7,373.3 L1221.2,369.9Z" stroke="#4D4D4D" stroke-width="0.9" stroke-linejoin="miter"/>
<path d="M1216.8,386.1 L1219.1,394.0 L1223.9,387.3 L1219.9,389.0Z" stroke="#4D4D4D" stroke-width="0.9" stroke-linejoin="miter"/>
<path d="M1216.1,408.0 L1219.5,415.1 L1222.9,408.0 L1219.5,411.1Z" stroke="#4D4D4D" stroke-width="0.9" stroke-linejoin="miter"/>
<path d="M1216.1,429.6 L1219.5,436.7 L1222.9,429.6 L1219.5,432.7Z" stroke="#4D4D4D" stroke-width="0.9" stroke-linejoin="miter"/>
<path d="M1216.1,451.2 L1219.5,458.3 L1222.9,451.2 L1219.5,454.3Z" stroke="#4D4D4D" stroke-width="0.9" stroke-linejoin="miter"/>
<path d="M1216.1,472.8 L1219.5,479.9 L1222.9,472.8 L1219.5,475.9Z" stroke="#4D4D4D" stroke-width="0.9" stroke-linejoin="miter"/>
<path d="M1223.1,494.5 L1217.6,500.2 L1225.5,501.0 L1221.4,498.8Z" stroke="#4D4D4D" stroke-width="0.9" stroke-linejoin="miter"/>
<path d="M1223.1,516.1 L1217.6,521.8 L1225.5,522.6 L1221.4,520.4Z" stroke="#4D4D4D" stroke-width="0.9" stroke-linejoin="miter"/>
<path d="M1224.6,539.3 L1217.5,542.7 L1224.6,546.1 L1221.5,542.7Z" stroke="#4D4D4D" stroke-width="0.9" stroke-linejoin="miter"/>
<path d="M1224.8,561.5 L1216.5,563.8 L1223.5,568.8 L1222.5,564.8Z" stroke="#4D4D4D" stroke-width="0.9" stroke-linejoin="miter"/>
<path d="M1225.3,584.8 L1216.5,584.2 L1221.4,591.5 L1222.5,587.7Z" stroke="#4D4D4D" stroke-width="0.9" stroke-linejoin="miter"/>
<path d="M1219.5,601.5 L1224.0,610.9 L1221.1,610.9 L1221.1,613.5 L1217.9,613.5 L1217.9,610.9 L1215.0,610.9Z"/>
<path d="M1219.5,622.1 L1224.3,632.0 L1221.2,632.0 L1221.2,636.1 L1217.8,636.1 L1217.8,632.0 L1214.7,632.0Z"/>
<path d="M1219.5,643.7 L1224.3,653.6 L1221.2,653.6 L1221.2,657.7 L1217.8,657.7 L1217.8,653.6 L1214.7,653.6Z"/>
<path d="M1219.5,665.3 L1224.3,675.2 L1221.2,675.2 L1221.2,679.3 L1217.8,679.3 L1217.8,675.2 L1214.7,675.2Z"/>
<path d="M1219.5,687.9 L1224.0,697.3 L1221.1,697.3 L1221.1,699.9 L1217.9,699.9 L1217.9,697.3 L1215.0,697.3Z"/>
<path d="M1219.5,709.5 L1224.0,718.9 L1221.1,718.9 L1221.1,721.5 L1217.9,721.5 L1217.9,718.9 L1215.0,718.9Z"/>
<path d="M1219.5,731.1 L1224.0,740.5 L1221.1,740.5 L1221.1,743.1 L1217.9,743.1 L1217.9,740.5 L1215.0,740.5Z"/>
<path d="M1219.5,752.7 L1224.0,762.1 L1221.1,762.1 L1221.1,764.7 L1217.9,764.7 L1217.9,762.1 L1215.0,762.1Z"/>
<path d="M1219.5,774.3 L1224.0,783.7 L1221.1,783.7 L1221.1,786.3 L1217.9,786.3 L1217.9,783.7 L1215.0,783.7Z"/>
<path d="M1219.5,795.9 L1224.0,805.3 L1221.1,805.3 L1221.1,807.9 L1217.9,807.9 L1217.9,805.3 L1215.0,805.3Z"/>
<path d="M1219.5,818.5 L1223.8,827.3 L1221.0,827.3 L1221.0,828.5 L1218.0,828.5 L1218.0,827.3 L1215.2,827.3Z"/>
<path d="M1219.5,839.2 L1224.0,848.5 L1221.1,848.5 L1221.1,851.0 L1217.9,851.0 L1217.9,848.5 L1215.0,848.5Z"/>
<path d="M1219.5,861.7 L1223.8,870.5 L1221.0,870.5 L1221.0,871.7 L1218.0,871.7 L1218.0,870.5 L1215.2,870.5Z"/>
<path d="M1219.5,881.3 L1224.3,891.2 L1221.2,891.2 L1221.2,895.3 L1217.8,895.3 L1217.8,891.2 L1214.7,891.2Z"/>
<path d="M1219.5,903.9 L1224.0,913.3 L1221.1,913.3 L1221.1,915.9 L1217.9,915.9 L1217.9,913.3 L1215.0,913.3Z"/>
<path d="M1249.5,80.0 L1257.7,89.4 L1254.3,90.4 L1256.3,97.7 L1252.7,98.6 L1250.7,91.4 L1247.3,92.3Z"/>
<path d="M1250.1,99.9 L1258.0,110.8 L1254.1,111.5 L1255.9,121.2 L1252.0,121.9 L1250.3,112.2 L1246.4,112.9Z"/>
<path d="M1250.1,121.5 L1258.0,132.4 L1254.1,133.1 L1255.9,142.8 L1252.0,143.5 L1250.3,133.8 L1246.4,134.5Z"/>
<path d="M1249.0,147.6 L1257.6,154.5 L1254.8,155.8 L1256.5,159.5 L1253.4,161.0 L1251.7,157.3 L1248.9,158.6Z"/>
<path d="M1257.7,175.9 L1249.1,172.1 L1251.4,181.2 L1254.9,178.9Z" stroke="#4D4D4D" stroke-width="0.9" stroke-linejoin="miter"/>
<path d="M1257.8,196.8 L1248.9,194.5 L1252.7,202.9 L1255.1,199.7Z" stroke="#4D4D4D" stroke-width="0.9" stroke-linejoin="miter"/>
<path d="M1258.0,218.9 L1249.7,216.8 L1253.2,224.6 L1254.3,220.6Z" stroke="#4D4D4D" stroke-width="0.9" stroke-linejoin="miter"/>
<path d="M1257.9,241.0 L1249.9,238.2 L1252.7,246.2 L1254.1,242.4Z" stroke="#4D4D4D" stroke-width="0.9" stroke-linejoin="miter"/>
<path d="M1258.0,261.3 L1249.8,260.6 L1254.5,267.4 L1254.2,263.1Z" stroke="#4D4D4D" stroke-width="0.9" stroke-linejoin="miter"/>
<path d="M1257.5,286.2 L1251.0,281.8 L1251.6,289.7 L1253.0,285.2Z" stroke="#4D4D4D" stroke-width="0.9" stroke-linejoin="miter"/>
<path d="M1258.0,304.5 L1249.8,303.9 L1254.5,310.6 L1254.2,306.4Z" stroke="#4D4D4D" stroke-width="0.9" stroke-linejoin="miter"/>
<path d="M1258.0,325.2 L1250.1,326.0 L1255.6,331.7 L1253.9,327.4Z" stroke="#4D4D4D" stroke-width="0.9" stroke-linejoin="miter"/>
<path d="M1257.7,345.9 L1250.3,348.0 L1256.6,352.5 L1253.7,348.6Z" stroke="#4D4D4D" stroke-width="0.9" stroke-linejoin="miter"/>
<path d="M1257.2,366.5 L1250.2,369.9 L1257.2,373.3 L1253.8,369.9Z" stroke="#4D4D4D" stroke-width="0.9" stroke-linejoin="miter"/>
<path d="M1257.2,388.1 L1250.2,391.5 L1257.2,394.9 L1253.8,391.5Z" stroke="#4D4D4D" stroke-width="0.9" stroke-linejoin="miter"/>
<path d="M1255.8,408.1 L1250.4,413.7 L1258.1,414.5 L1253.6,412.5Z" stroke="#4D4D4D" stroke-width="0.9" stroke-linejoin="miter"/>
<path d="M1249.5,429.1 L1251.7,436.7 L1256.3,430.3 L1252.3,432.7Z" stroke="#4D4D4D" stroke-width="0.9" stroke-linejoin="miter"/>
<path d="M1249.0,450.9 L1251.8,458.3 L1255.9,451.5 L1252.2,454.3Z" stroke="#4D4D4D" stroke-width="0.9" stroke-linejoin="miter"/>
<path d="M1249.5,472.3 L1251.7,479.9 L1256.3,473.5 L1252.3,475.9Z" stroke="#4D4D4D" stroke-width="0.9" stroke-linejoin="miter"/>
<path d="M1250.5,493.5 L1251.3,501.4 L1257.0,495.9 L1252.7,497.6Z" stroke="#4D4D4D" stroke-width="0.9" stroke-linejoin="miter"/>
<path d="M1255.6,516.1 L1250.1,521.8 L1258.0,522.6 L1253.9,520.4Z" stroke="#4D4D4D" stroke-width="0.9" stroke-linejoin="miter"/>
<path d="M1257.1,539.3 L1250.0,542.7 L1257.1,546.1 L1254.0,542.7Z" stroke="#4D4D4D" stroke-width="0.9" stroke-linejoin="miter"/>
<path d="M1255.6,559.3 L1250.1,565.0 L1258.0,565.8 L1253.9,563.6Z" stroke="#4D4D4D" stroke-width="0.9" stroke-linejoin="miter"/>
<path d="M1254.7,580.4 L1250.3,586.9 L1258.2,586.3 L1253.7,584.9Z" stroke="#4D4D4D" stroke-width="0.9" stroke-linejoin="miter"/>
<path d="M1252.0,602.5 L1256.2,611.3 L1253.5,611.3 L1253.5,612.5 L1250.5,612.5 L1250.5,611.3 L1247.8,611.3Z"/>
<path d="M1252.2,622.1 L1256.7,632.2 L1253.6,632.1 L1253.4,636.2 L1250.1,636.0 L1250.2,632.0 L1247.1,631.9Z"/>
<path d="M1252.2,644.7 L1256.4,654.2 L1253.5,654.1 L1253.4,656.8 L1250.2,656.6 L1250.3,654.0 L1247.4,653.9Z"/>
<path d="M1252.0,666.3 L1256.5,675.7 L1253.6,675.7 L1253.6,678.3 L1250.4,678.3 L1250.4,675.6 L1247.5,675.6Z"/>
<path d="M1252.0,688.2 L1256.5,697.4 L1253.6,697.4 L1253.6,699.6 L1250.4,699.6 L1250.4,697.4 L1247.6,697.4Z"/>
<path d="M1252.1,710.0 L1256.3,719.1 L1253.5,719.1 L1253.5,721.0 L1250.4,721.0 L1250.4,719.1 L1247.6,719.0Z"/>
<path d="M1252.1,731.7 L1256.3,740.8 L1253.5,740.7 L1253.4,742.6 L1250.3,742.5 L1250.4,740.7 L1247.6,740.6Z"/>
<path d="M1252.1,753.2 L1256.3,762.3 L1253.5,762.3 L1253.5,764.3 L1250.3,764.2 L1250.4,762.2 L1247.5,762.2Z"/>
<path d="M1251.9,796.2 L1256.5,805.4 L1253.6,805.4 L1253.6,807.6 L1250.5,807.6 L1250.5,805.4 L1247.6,805.5Z"/>
<path d="M1251.0,862.2 L1256.9,869.7 L1254.3,870.2 L1254.5,870.9 L1251.5,871.6 L1251.4,870.9 L1248.8,871.5Z"/>
<path d="M1256.6,891.8 L1251.3,884.3 L1248.7,893.1 L1252.7,892.3Z" stroke="#4D4D4D" stroke-width="0.9" stroke-linejoin="miter"/>
<path d="M1256.4,913.6 L1251.6,905.6 L1248.3,914.4 L1252.4,914.2Z" stroke="#4D4D4D" stroke-width="0.9" stroke-linejoin="miter"/>
<path d="M1290.5,218.6 L1282.2,217.0 L1286.0,224.5 L1286.8,220.4Z" stroke="#4D4D4D" stroke-width="0.9" stroke-linejoin="miter"/>
<path d="M1290.0,345.4 L1282.8,348.2 L1289.4,352.1 L1286.2,348.4Z" stroke="#4D4D4D" stroke-width="0.9" stroke-linejoin="miter"/>
<path d="M1289.7,366.5 L1282.8,369.9 L1289.7,373.3 L1286.2,369.9Z" stroke="#4D4D4D" stroke-width="0.9" stroke-linejoin="miter"/>
<path d="M1289.7,388.1 L1282.8,391.5 L1289.7,394.9 L1286.2,391.5Z" stroke="#4D4D4D" stroke-width="0.9" stroke-linejoin="miter"/>
<path d="M1289.7,409.7 L1282.8,413.1 L1289.7,416.5 L1286.2,413.1Z" stroke="#4D4D4D" stroke-width="0.9" stroke-linejoin="miter"/>
<path d="M1289.7,431.3 L1282.8,434.7 L1289.7,438.1 L1286.2,434.7Z" stroke="#4D4D4D" stroke-width="0.9" stroke-linejoin="miter"/>
<path d="M1289.7,452.9 L1282.8,456.3 L1289.7,459.7 L1286.2,456.3Z" stroke="#4D4D4D" stroke-width="0.9" stroke-linejoin="miter"/>
<path d="M1289.7,474.5 L1282.8,477.9 L1289.7,481.3 L1286.2,477.9Z" stroke="#4D4D4D" stroke-width="0.9" stroke-linejoin="miter"/>
<path d="M1289.7,496.1 L1282.8,499.5 L1289.7,502.9 L1286.2,499.5Z" stroke="#4D4D4D" stroke-width="0.9" stroke-linejoin="miter"/>
<path d="M1289.3,517.1 L1282.8,521.3 L1290.2,523.7 L1286.2,520.9Z" stroke="#4D4D4D" stroke-width="0.9" stroke-linejoin="miter"/>
<path d="M1289.6,539.2 L1282.7,542.7 L1289.8,546.0 L1286.3,542.7Z" stroke="#4D4D4D" stroke-width="0.9" stroke-linejoin="miter"/>
<path d="M1281.2,862.9 L1290.2,866.8 L1288.1,868.6 L1288.9,869.5 L1286.6,871.5 L1285.8,870.6 L1283.8,872.4Z"/>
<path d="M1282.7,882.5 L1283.8,890.5 L1289.4,884.7 L1285.2,886.1Z" stroke="#4D4D4D" stroke-width="0.9" stroke-linejoin="miter"/>
<path d="M1313.8,841.3 L1322.7,845.3 L1320.6,847.0 L1321.4,848.0 L1319.1,849.9 L1318.3,849.0 L1316.2,850.7Z"/>
<path d="M1313.6,862.8 L1322.7,866.7 L1320.6,868.5 L1321.5,869.6 L1319.2,871.6 L1318.2,870.5 L1316.1,872.3Z"/>
<path d="M1313.1,885.0 L1322.6,887.5 L1320.8,889.6 L1321.9,890.5 L1319.9,892.8 L1318.9,891.9 L1317.1,894.0Z"/>
<path d="M1346.2,841.1 L1355.2,845.2 L1353.1,847.0 L1354.0,848.1 L1351.7,850.1 L1350.7,848.9 L1348.6,850.7Z"/>
<path d="M1346.1,862.7 L1355.2,866.7 L1353.1,868.5 L1354.1,869.7 L1351.7,871.7 L1350.7,870.5 L1348.6,872.3Z"/>
<path d="M1345.8,884.6 L1355.2,887.9 L1353.2,889.8 L1354.3,890.9 L1352.1,893.1 L1351.0,892.0 L1349.0,894.0Z"/>
<path d="M1378.7,841.0 L1387.7,845.3 L1385.5,847.0 L1386.5,848.2 L1384.1,850.1 L1383.1,848.9 L1381.0,850.7Z"/>
<path d="M1378.6,862.7 L1387.7,866.8 L1385.6,868.5 L1386.6,869.7 L1384.2,871.7 L1383.2,870.5 L1381.1,872.3Z"/>
<path d="M1378.6,884.3 L1387.7,888.3 L1385.6,890.1 L1386.6,891.3 L1384.2,893.3 L1383.2,892.1 L1381.1,893.9Z"/>
<path d="M1411.5,840.8 L1420.2,845.6 L1417.9,847.2 L1418.8,848.5 L1416.3,850.3 L1415.4,849.0 L1413.1,850.6Z"/>
<path d="M1411.2,862.7 L1420.2,866.8 L1418.0,868.6 L1419.0,869.8 L1416.7,871.7 L1415.7,870.5 L1413.5,872.3Z"/>
<path d="M1444.0,819.2 L1452.7,824.0 L1450.4,825.6 L1451.3,826.9 L1448.7,828.7 L1447.9,827.4 L1445.6,829.0Z"/>
<path d="M1444.0,840.8 L1452.7,845.6 L1450.4,847.2 L1451.3,848.5 L1448.8,850.3 L1447.9,849.0 L1445.6,850.6Z"/>
<path d="M1443.9,862.4 L1452.7,867.2 L1450.4,868.8 L1451.3,870.1 L1448.8,871.9 L1447.9,870.6 L1445.7,872.2Z"/>
<path d="M1476.5,840.8 L1485.2,845.6 L1482.9,847.2 L1483.8,848.5 L1481.2,850.3 L1480.4,849.0 L1478.1,850.6Z"/>
<path d="M1476.5,862.4 L1485.2,867.3 L1482.9,868.9 L1483.7,870.1 L1481.2,871.8 L1480.4,870.6 L1478.1,872.2Z"/>
<path d="M1517.7,846.5 L1509.8,841.8 L1511.0,850.8 L1514.2,848.4Z" stroke="#4D4D4D" stroke-width="0.9" stroke-linejoin="miter"/>
<path d="M1550.0,825.8 L1543.1,821.1 L1543.7,829.5 L1545.9,825.9Z" stroke="#4D4D4D" stroke-width="0.9" stroke-linejoin="miter"/>
</g>
<path d="M45.0,654.5 L45.0,614.6 L79.5,603.5 L109.5,590.0 L138.0,576.5 L153.0,566.0 L172.5,555.5 L190.5,551.6 L199.5,537.5 L208.5,529.4 L214.5,523.4 L228.0,518.6 L240.0,512.0 L249.0,507.5 L246.0,495.5 L240.0,485.0 L235.5,476.6 L225.0,472.4 L217.5,468.5 L219.0,458.0 L209.0,451.4 L209.0,444.5 L213.6,440.0 L210.0,435.5 L210.0,422.0 L208.0,416.6 L237.0,410.0 L270.0,403.4 L294.0,399.5 L321.0,396.5 L339.0,395.0 L354.0,398.0 L372.0,397.4 L390.0,395.0 L404.5,396.5 L460.5,404.2 L472.8,414.0 L493.8,422.8 L525.3,414.0 L581.3,414.0 L604.0,415.8 L632.0,408.8 L656.5,398.3 L681.0,380.8 L702.0,370.3 L730.0,366.8 L742.3,361.5 L746.5,347.5 L745.4,336.0 L740.0,318.0 L737.0,312.0 L725.0,309.6 L729.5,303.6 L737.0,302.4 L738.5,304.5 L750.5,300.0 L759.5,291.0 L756.5,286.5 L744.5,285.0 L740.0,281.4 L734.0,285.0 L732.5,280.5 L729.5,276.0 L725.0,270.0 L728.0,268.5 L714.5,258.0 L734.0,246.0 L758.0,238.5 L779.0,228.0 L800.0,216.0 L804.5,210.0 L812.0,208.5 L821.0,195.0 L825.5,193.0 L822.0,191.5 L824.0,187.5 L830.9,177.0 L856.9,160.7 L887.8,139.6 L917.0,120.0 L936.5,113.6 L962.5,100.6 L985.3,91.8 L999.9,89.3 L1008.0,91.8 L1277.8,89.9 L1280.4,102.3 L1269.6,103.9 L1271.3,113.6 L1268.0,123.4 L1276.1,125.0 L1272.9,136.4 L1264.8,136.4 L1271.3,146.1 L1261.5,147.8 L1261.5,157.5 L1266.4,177.0 L1268.0,196.5 L1271.3,198.1 L1269.6,204.6 L1274.5,209.5 L1279.4,222.5 L1279.4,235.5 L1268.0,245.2 L1264.8,255.0 L1256.6,274.5 L1263.1,277.7 L1266.4,294.0 L1271.2,308.0 L1268.0,316.0 L1276.0,322.0 L1272.8,332.0 L1264.0,346.0 L1264.0,354.0 L1268.0,358.0 L1274.0,349.2 L1284.8,349.2 L1287.2,358.0 L1295.2,370.0 L1292.0,472.0 L1291.2,496.0 L1294.0,514.0 L1276.0,560.0 L1258.0,612.0 L1250.0,638.0 L1252.7,643.8 L1245.9,742.4 L1240.8,786.6 L1254.4,800.2 L1206.8,824.0 L1220.4,841.1 L1214.7,850.9 L1203.4,854.9 L1192.0,867.1 L1190.4,873.6 L1181.4,876.9 L1172.5,883.4 L1164.4,888.2 L1156.2,896.4 L1153.8,896.4 L1153.8,889.9 L1161.1,875.2 L1173.3,859.0 L1174.9,841.1 L1111.6,813.8 L1050.4,786.6 L1026.6,774.7 L1026.6,769.6 L1016.4,766.2 L1009.6,761.1 L996.0,759.4 L987.5,750.9 L972.2,752.6 L965.4,737.3 L955.2,728.8 L960.3,716.9 L955.2,711.8 L958.6,705.0 L950.1,698.2 L956.9,693.1 L948.4,689.7 L941.6,681.2 L921.2,677.8 L916.0,667.6 L904.2,664.2 L894.0,654.5Z M1153.8,922.4 L1149.7,913.4 L1155.4,904.5 L1157.1,901.3 L1164.4,893.1 L1172.5,886.6 L1180.6,883.4 L1188.7,879.3 L1196.9,881.7 L1202.6,884.2 L1200.1,873.6 L1206.6,876.1 L1205.8,868.7 L1209.9,866.3 L1216.4,870.4 L1221.3,875.2 L1222.1,865.5 L1226.1,859.8 L1244.0,857.4 L1248.1,860.6 L1239.9,863.9 L1252.1,863.1 L1249.7,854.1 L1261.1,854.1 L1261.1,859.8 L1270.8,859.8 L1271.6,856.6 L1267.6,856.6 L1267.6,850.9 L1279.7,854.9 L1281.4,854.1 L1300.1,859.8 L1313.9,854.1 L1314.7,847.6 L1327.7,847.6 L1327.7,850.9 L1322.0,850.9 L1328.5,849.2 L1380.0,848.1 L1393.7,847.4 L1413.0,843.9 L1422.6,840.5 L1430.9,835.0 L1440.5,831.6 L1447.4,825.4 L1454.2,825.4 L1466.6,816.4 L1487.9,813.4 L1466.6,817.1 L1458.4,828.1 L1451.5,830.9 L1450.1,833.6 L1454.9,835.7 L1448.7,835.7 L1450.1,844.6 L1447.4,842.6 L1435.0,844.6 L1425.4,851.5 L1412.3,857.0 L1417.1,859.1 L1422.6,859.1 L1425.4,857.7 L1431.6,860.4 L1443.2,860.4 L1450.1,851.5 L1454.2,850.8 L1458.4,845.3 L1473.5,841.9 L1468.0,835.0 L1473.5,840.5 L1481.7,840.5 L1483.1,835.7 L1495.5,835.0 L1500.3,832.2 L1513.4,845.3 L1520.2,839.1 L1528.5,839.1 L1533.3,832.9 L1540.9,832.2 L1542.2,828.1 L1547.1,825.4 L1560.8,828.8 L1513.4,846.7 L1481.7,858.4 L1462.5,865.9 L1449.4,870.1 L1450.8,863.2 L1436.4,863.2 L1436.4,869.4 L1426.7,870.7 L1421.2,875.6 L1408.2,875.6 L1408.2,878.3 L1389.6,879.0 L1388.2,882.4 L1380.0,882.4 L1378.9,882.6 L1378.1,886.6 L1367.5,891.5 L1362.6,889.1 L1356.1,890.7 L1343.1,889.9 L1336.6,892.3 L1315.5,898.0 L1312.2,895.6 L1300.1,895.6 L1296.0,899.6 L1286.2,901.3 L1266.7,906.1 L1257.0,907.7 L1253.7,911.0 L1240.7,911.0 L1239.1,914.2 L1221.3,914.2 L1216.4,917.5 L1213.9,913.4 L1206.6,915.9 L1198.5,912.6 L1193.6,908.6 L1183.9,908.6 L1180.6,912.6 L1173.3,917.5 L1174.1,920.7 L1156.2,922.4Z M1110.7,928.2 L1120.3,920.3 L1121.9,913.9 L1128.3,909.1 L1139.4,910.7 L1146.7,917.1 L1144.2,921.9 L1133.0,929.8 L1112.3,936.2Z M1460.4,828.8 L1468.0,822.6 L1474.9,825.4 L1478.3,835.7 L1473.5,832.9 L1462.5,831.6Z M1524.4,794.4 L1528.5,791.7 L1544.3,788.5 L1531.2,795.1Z M753.5,229.0 L770.0,223.5 L764.0,231.0 L757.0,232.5Z" fill="none" stroke="#000" stroke-width="2.1" stroke-linejoin="round"/>
<path d="M1169.2,926.4 L1205.0,916.7 M1205.8,919.9 L1253.7,916.7 L1296.0,907.7 M1286.2,913.4 L1312.2,908.6 L1367.5,891.5 L1400.0,881.7 L1421.2,876.2 L1449.4,870.1 L1481.7,858.4 L1513.4,846.7" fill="none" stroke="#000" stroke-width="2.0" stroke-linecap="round"/>
<circle cx="1156" cy="942.6" r="1.3" fill="#000"/>
<rect x="1326" y="180.00" width="91" height="9.78" fill="#D92626"/>
<rect x="1326" y="189.18" width="91" height="9.78" fill="#DE3024"/>
<rect x="1326" y="198.37" width="91" height="9.78" fill="#E03824"/>
<rect x="1326" y="207.55" width="91" height="9.78" fill="#E44123"/>
<rect x="1326" y="216.73" width="91" height="9.78" fill="#E84B23"/>
<rect x="1326" y="225.91" width="91" height="9.78" fill="#EB5523"/>
<rect x="1326" y="235.10" width="91" height="9.78" fill="#EF5E23"/>
<rect x="1326" y="244.28" width="91" height="9.78" fill="#F26623"/>
<rect x="1326" y="253.46" width="91" height="9.78" fill="#F47128"/>
<rect x="1326" y="262.64" width="91" height="9.78" fill="#F57E2E"/>
<rect x="1326" y="271.83" width="91" height="9.78" fill="#F68A33"/>
<rect x="1326" y="281.01" width="91" height="9.78" fill="#F7953A"/>
<rect x="1326" y="290.19" width="91" height="9.78" fill="#F7A040"/>
<rect x="1326" y="299.38" width="91" height="9.78" fill="#F8AB44"/>
<rect x="1326" y="308.56" width="91" height="9.78" fill="#F8B648"/>
<rect x="1326" y="317.74" width="91" height="9.78" fill="#F8C24B"/>
<rect x="1326" y="326.92" width="91" height="9.78" fill="#F8CF4E"/>
<rect x="1326" y="336.11" width="91" height="9.78" fill="#F7DC52"/>
<rect x="1326" y="345.29" width="91" height="9.78" fill="#F3E755"/>
<rect x="1326" y="354.47" width="91" height="9.78" fill="#E3E055"/>
<rect x="1326" y="363.65" width="91" height="9.78" fill="#D0DB55"/>
<rect x="1326" y="372.84" width="91" height="9.78" fill="#BBD553"/>
<rect x="1326" y="382.02" width="91" height="9.78" fill="#A8D050"/>
<rect x="1326" y="391.20" width="91" height="9.78" fill="#94CA4E"/>
<rect x="1326" y="400.38" width="91" height="9.78" fill="#7FC44C"/>
<rect x="1326" y="409.57" width="91" height="9.78" fill="#6BBE4A"/>
<rect x="1326" y="418.75" width="91" height="9.78" fill="#48B545"/>
<rect x="1326" y="427.93" width="91" height="9.78" fill="#48AE55"/>
<rect x="1326" y="437.12" width="91" height="9.78" fill="#48A966"/>
<rect x="1326" y="446.30" width="91" height="9.78" fill="#49A577"/>
<rect x="1326" y="455.48" width="91" height="9.78" fill="#49A286"/>
<rect x="1326" y="464.66" width="91" height="9.78" fill="#489E95"/>
<rect x="1326" y="473.85" width="91" height="9.78" fill="#4799A2"/>
<rect x="1326" y="483.03" width="91" height="9.78" fill="#4694AE"/>
<rect x="1326" y="492.21" width="91" height="9.78" fill="#458EBC"/>
<rect x="1326" y="501.39" width="91" height="9.78" fill="#4389C8"/>
<rect x="1326" y="510.58" width="91" height="9.78" fill="#5295D0"/>
<rect x="1326" y="519.76" width="91" height="9.78" fill="#5F9FD5"/>
<rect x="1326" y="528.94" width="91" height="9.78" fill="#6AA9DA"/>
<rect x="1326" y="538.12" width="91" height="9.78" fill="#74B2DF"/>
<rect x="1326" y="547.31" width="91" height="9.78" fill="#7CB9E3"/>
<rect x="1326" y="556.49" width="91" height="9.78" fill="#84C1E7"/>
<rect x="1326" y="565.67" width="91" height="9.78" fill="#8BC8EB"/>
<rect x="1326" y="574.86" width="91" height="9.78" fill="#93CFEF"/>
<rect x="1326" y="584.04" width="91" height="9.78" fill="#9CD6F3"/>
<rect x="1326" y="593.22" width="91" height="9.78" fill="#A9DCF5"/>
<rect x="1326" y="602.40" width="91" height="9.78" fill="#B6E2F7"/>
<rect x="1326" y="611.59" width="91" height="9.78" fill="#C2E7F9"/>
<rect x="1326" y="620.77" width="91" height="9.78" fill="#CEECFA"/>
<rect x="1326" y="629.95" width="91" height="9.78" fill="#DAF1FC"/>
<rect x="1326" y="639.13" width="91" height="9.78" fill="#E4F5FD"/>
<rect x="1326" y="648.32" width="91" height="9.78" fill="#EEF9FE"/>
<text x="1474" y="198.4" font-size="27.5" text-anchor="middle">1000</text>
<text x="1474" y="290.4" font-size="27.5" text-anchor="middle">900</text>
<text x="1474" y="382.5" font-size="27.5" text-anchor="middle">800</text>
<text x="1474" y="474.5" font-size="27.5" text-anchor="middle">700</text>
<text x="1474" y="566.6" font-size="27.5" text-anchor="middle">600</text>
<text x="1474" y="658.6" font-size="27.5" text-anchor="middle">500</text>
<text x="46" y="765" font-size="33">LCL (pressure, fill) and Radar (&gt; 20 DBZ)</text>
<text x="46" y="829" font-size="33">Figure created on Mon, 2026-01-05, at 12:01 PM</text>
<text x="46" y="895" font-size="33">Station Count: 123 Stations Used</text>
<text x="1166" y="988.3" font-size="22">Data Valid: 2026/01/05 16:55:00 UTC</text>
<rect x="869" y="882" width="131" height="116" fill="#87CEEB"/>
<text x="934.5" y="915.5" font-size="35" text-anchor="middle">25 mph</text>
<g fill="#4D4D4D"><path d="M966.6,956.5 L942.7,968.0 L942.7,960.0 L902.6,960.0 L902.6,953.0 L942.7,953.0 L942.7,945.0Z"/></g>
<g id="logo">
<path fill="#EFAB00" d="M211.3,50.2 L196,50.6 L174.5,51.3 L166,56.5 L157.5,63 L150,70.5 L145.7,75 L139.5,79.5 L138.2,82.5 L136.6,85 L137.2,88.8 L142.2,91.2 L143,93.5 L141.4,99.8 L136,103.6 L130.5,107.6 L126,110.2 L118,111.6 L107.6,111.6 L96,108.6 L86.6,106.9 L78,107.4 L70.9,108.9 L69.8,112.5 L69.6,116.6 L74.6,119.8 L72.8,124.6 L70.9,128.4 L65.5,133.2 L60.4,137.6 L55,140.8 L50.4,143.6 L50.4,152.2 L164.2,152.6 L168,157 L170.8,161.4 L171.2,166 L172.2,170.4 L177.5,173.4 L183.7,177 L192,182 L200.6,187.3 L201.4,190.5 L202,194 L198,199.5 L193.6,205 L199,202.4 L204.7,200.6 L214,199.5 L223,198 L232.5,194.2 L241.5,190.2 L247.5,187.4 L253.4,184.6 L252.6,181.6 L252.2,178.2 L244,182.5 L236.2,186.2 L228,189 L220.5,191.4 L213.5,191 L207.5,190 L207.3,184.8 L211.2,182.2 L211.1,153.3 L213.4,141 L215.6,129.7 L215.7,99.5 L212.6,96 L212,72 Z"/>
<text x="135.6" y="147.2" font-size="54.5" font-weight="bold" fill="#fff" stroke="#fff" stroke-width="3.2" stroke-linejoin="round" textLength="69.4" lengthAdjust="spacingAndGlyphs">NYS</text>
<text x="223.4" y="147.2" font-size="54" font-weight="bold" fill="#50286F" stroke="#50286F" stroke-width="3" stroke-linejoin="round" textLength="163" lengthAdjust="spacingAndGlyphs">Mesonet</text>
<text x="222.4" y="168.5" font-size="16" font-weight="bold" fill="#50286F" textLength="164.5" lengthAdjust="spacingAndGlyphs">UNIVERSITY AT ALBANY</text>
</g>

</svg></body></html>
